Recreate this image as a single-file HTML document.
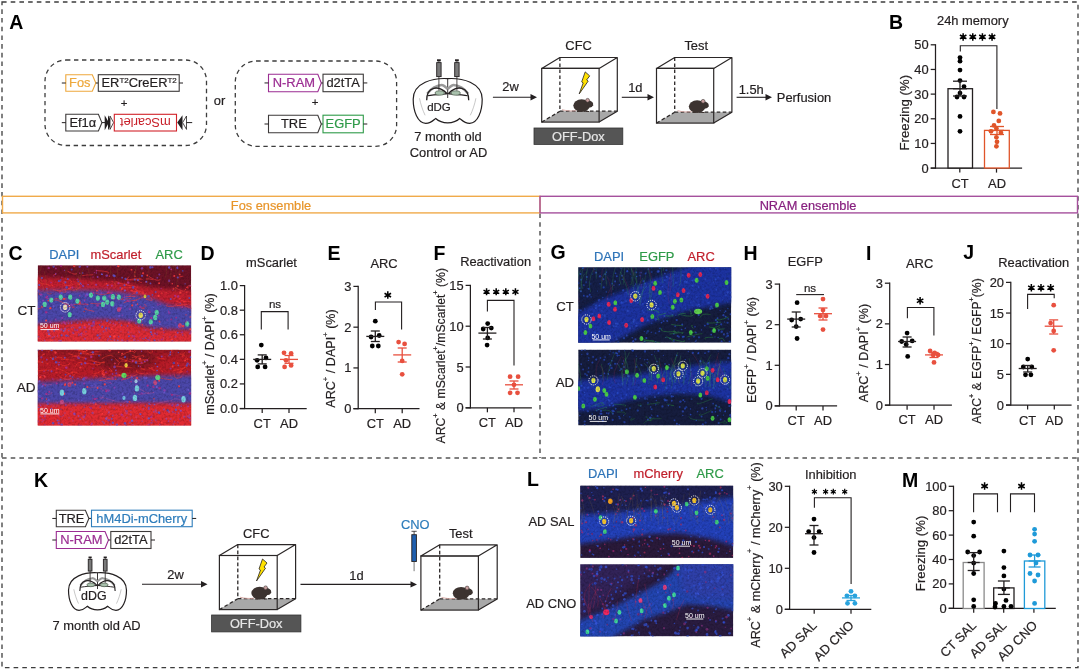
<!DOCTYPE html>
<html><head><meta charset="utf-8"><style>
html,body{margin:0;padding:0;background:#fff;width:1080px;height:670px;overflow:hidden}
svg{display:block;font-family:"Liberation Sans", sans-serif;will-change:transform}
</style></head><body>
<svg width="1080" height="670" viewBox="0 0 1080 670">
<defs><filter id="blur1" x="-10%" y="-30%" width="120%" height="160%"><feGaussianBlur stdDeviation="2"/></filter><filter id="grain" x="0" y="0" width="100%" height="100%"><feTurbulence type="fractalNoise" baseFrequency="0.45" numOctaves="2" seed="5"/><feColorMatrix type="matrix" values="0 0 0 0 0  0 0 0 0 0  0 0 0 0 0  0 0 0 -2.2 1.3"/></filter><filter id="blur2" x="-10%" y="-30%" width="120%" height="160%"><feGaussianBlur stdDeviation="4"/></filter></defs>
<rect width="1080" height="670" fill="#fff"/>
<clipPath id="cc1"><rect x="37.7" y="265.2" width="153.5" height="76.19999999999999"/></clipPath><g clip-path="url(#cc1)"><rect x="37.7" y="265.2" width="153.5" height="76.19999999999999" fill="#6c1226"/><path d="M20.0,276.0 C30.0,276.5 63.3,278.0 80.0,279.0 C96.7,280.0 108.3,280.7 120.0,282.0 C131.7,283.3 136.7,285.3 150.0,287.0 C163.3,288.7 191.7,291.2 200.0,292.0 L200.0,315.0  C193.3,313.7 173.3,309.5 160.0,307.0 C146.7,304.5 133.3,301.5 120.0,300.0 C106.7,298.5 96.7,298.0 80.0,298.0 C63.3,298.0 30.0,299.7 20.0,300.0 Z" fill="#d82430" filter="url(#blur1)" opacity="0.8"/><path d="M20.0,291.0 C30.0,290.8 63.3,289.8 80.0,290.0 C96.7,290.2 108.3,290.7 120.0,292.0 C131.7,293.3 141.7,295.8 150.0,298.0 C158.3,300.2 161.7,303.3 170.0,305.0 C178.3,306.7 195.0,307.5 200.0,308.0 L200.0,332.0  C191.7,331.5 161.7,330.5 150.0,329.0 C138.3,327.5 138.3,324.3 130.0,323.0 C121.7,321.7 111.7,320.8 100.0,321.0 C88.3,321.2 73.3,323.0 60.0,324.0 C46.7,325.0 26.7,326.5 20.0,327.0 Z" fill="#4c46aa" filter="url(#blur1)" opacity="1"/><path d="M20.0,326.0 C26.7,325.5 46.7,324.0 60.0,323.0 C73.3,322.0 88.3,320.2 100.0,320.0 C111.7,319.8 121.7,320.7 130.0,322.0 C138.3,323.3 138.3,326.5 150.0,328.0 C161.7,329.5 191.7,330.5 200.0,331.0 L200.0,350.0  C170.0,350.0 50.0,350.0 20.0,350.0 Z" fill="#dc2c34" filter="url(#blur1)" opacity="1"/><path d="M107.1,292.8 q6.8,-0.3 0.3,0.7" stroke="#ff3a3a" stroke-width="0.7" fill="none" opacity="0.75"/><path d="M66.0,291.1 q2.1,2.9 -13.0,-1.6" stroke="#ff3a3a" stroke-width="0.7" fill="none" opacity="0.75"/><path d="M51.6,301.5 q3.1,-4.6 15.4,3.7" stroke="#ff3a3a" stroke-width="0.7" fill="none" opacity="0.75"/><path d="M138.1,294.7 q-5.5,-4.8 0.9,-3.5" stroke="#ff3a3a" stroke-width="0.7" fill="none" opacity="0.75"/><path d="M66.9,281.7 q-7.5,-0.4 -1.9,2.7" stroke="#ff3a3a" stroke-width="0.7" fill="none" opacity="0.75"/><path d="M117.4,295.6 q-0.0,1.6 -1.4,-1.8" stroke="#ff3a3a" stroke-width="0.7" fill="none" opacity="0.75"/><path d="M190.8,308.0 q5.4,2.1 -5.9,-2.2" stroke="#ff3a3a" stroke-width="0.7" fill="none" opacity="0.75"/><path d="M82.1,275.7 q4.3,-1.0 11.1,-0.9" stroke="#ff3a3a" stroke-width="0.7" fill="none" opacity="0.75"/><path d="M184.8,302.9 q-8.0,-2.9 13.1,-0.2" stroke="#ff3a3a" stroke-width="0.7" fill="none" opacity="0.75"/><path d="M188.2,287.1 q-6.8,1.3 8.9,-1.8" stroke="#ff3a3a" stroke-width="0.7" fill="none" opacity="0.75"/><path d="M51.1,284.8 q7.4,2.6 -12.2,-2.0" stroke="#ff3a3a" stroke-width="0.7" fill="none" opacity="0.75"/><path d="M53.2,275.3 q4.8,-3.2 1.9,-0.4" stroke="#ff3a3a" stroke-width="0.7" fill="none" opacity="0.75"/><path d="M67.0,298.8 q-5.9,1.4 -12.3,-0.6" stroke="#ff3a3a" stroke-width="0.7" fill="none" opacity="0.75"/><path d="M70.4,282.6 q7.5,3.0 -6.3,3.1" stroke="#ff3a3a" stroke-width="0.7" fill="none" opacity="0.75"/><path d="M70.0,287.0 q5.7,1.4 -12.8,3.9" stroke="#ff3a3a" stroke-width="0.7" fill="none" opacity="0.75"/><path d="M70.4,282.2 q4.4,-1.7 -6.5,-3.4" stroke="#ff3a3a" stroke-width="0.7" fill="none" opacity="0.75"/><path d="M51.5,293.6 q-4.1,1.0 -4.1,-0.4" stroke="#ff3a3a" stroke-width="0.7" fill="none" opacity="0.75"/><path d="M184.9,290.1 q1.2,3.7 -10.1,-2.8" stroke="#ff3a3a" stroke-width="0.7" fill="none" opacity="0.75"/><path d="M177.1,301.8 q-4.0,-3.1 7.7,3.5" stroke="#ff3a3a" stroke-width="0.7" fill="none" opacity="0.75"/><path d="M67.9,306.5 q6.1,1.0 -2.5,-3.2" stroke="#ff3a3a" stroke-width="0.7" fill="none" opacity="0.75"/><path d="M43.6,306.9 q-4.2,2.0 -7.8,2.6" stroke="#ff3a3a" stroke-width="0.7" fill="none" opacity="0.75"/><path d="M129.3,283.5 q-5.2,2.2 -13.8,-2.2" stroke="#ff3a3a" stroke-width="0.7" fill="none" opacity="0.75"/><path d="M123.6,303.0 q1.8,-2.2 13.4,-2.4" stroke="#ff3a3a" stroke-width="0.7" fill="none" opacity="0.75"/><path d="M40.2,282.6 q-0.9,-4.4 -10.4,-1.0" stroke="#ff3a3a" stroke-width="0.7" fill="none" opacity="0.75"/><path d="M125.5,277.8 q-2.2,3.9 15.4,1.3" stroke="#ff3a3a" stroke-width="0.7" fill="none" opacity="0.75"/><path d="M143.8,293.7 q-5.8,-4.6 -15.4,3.3" stroke="#ff3a3a" stroke-width="0.7" fill="none" opacity="0.75"/><path d="M145.3,306.9 q-7.7,1.4 -0.6,1.8" stroke="#ff3a3a" stroke-width="0.7" fill="none" opacity="0.75"/><path d="M86.7,308.2 q-6.8,0.5 7.6,3.2" stroke="#ff3a3a" stroke-width="0.7" fill="none" opacity="0.75"/><path d="M150.8,297.8 q4.7,4.2 -4.7,1.5" stroke="#ff3a3a" stroke-width="0.7" fill="none" opacity="0.75"/><path d="M176.0,303.7 q-1.3,2.9 11.6,0.6" stroke="#ff3a3a" stroke-width="0.7" fill="none" opacity="0.75"/><path d="M133.6,286.6 q1.3,1.1 -13.4,1.1" stroke="#ff3a3a" stroke-width="0.7" fill="none" opacity="0.75"/><path d="M190.2,304.0 q3.7,-1.1 7.5,0.6" stroke="#ff3a3a" stroke-width="0.7" fill="none" opacity="0.75"/><path d="M105.3,302.5 q-6.7,2.5 -15.0,0.8" stroke="#ff3a3a" stroke-width="0.7" fill="none" opacity="0.75"/><path d="M111.5,281.3 q3.2,-0.0 3.7,3.4" stroke="#ff3a3a" stroke-width="0.7" fill="none" opacity="0.75"/><path d="M77.0,273.6 q-3.2,1.8 -9.5,-2.6" stroke="#ff3a3a" stroke-width="0.7" fill="none" opacity="0.75"/><path d="M176.7,296.3 q-0.9,3.9 -5.5,1.3" stroke="#ff3a3a" stroke-width="0.7" fill="none" opacity="0.75"/><path d="M68.2,288.3 q4.9,4.1 12.2,-0.9" stroke="#ff3a3a" stroke-width="0.7" fill="none" opacity="0.75"/><path d="M127.2,284.3 q-5.8,-0.0 10.8,2.8" stroke="#ff3a3a" stroke-width="0.7" fill="none" opacity="0.75"/><path d="M146.9,306.5 q-3.6,-3.3 -1.6,-1.8" stroke="#ff3a3a" stroke-width="0.7" fill="none" opacity="0.75"/><path d="M70.6,287.7 q2.0,-0.1 -5.9,2.7" stroke="#ff3a3a" stroke-width="0.7" fill="none" opacity="0.75"/><path d="M188.4,289.0 q-6.8,-4.7 11.9,-3.7" stroke="#ff3a3a" stroke-width="0.7" fill="none" opacity="0.75"/><path d="M146.5,293.2 q-3.1,2.9 -15.4,-2.9" stroke="#ff3a3a" stroke-width="0.7" fill="none" opacity="0.75"/><path d="M107.5,274.1 q5.3,-2.6 -11.5,-3.6" stroke="#ff3a3a" stroke-width="0.7" fill="none" opacity="0.75"/><path d="M134.3,288.8 q2.1,1.6 9.8,3.7" stroke="#ff3a3a" stroke-width="0.7" fill="none" opacity="0.75"/><path d="M142.8,280.2 q-0.4,-3.2 -15.7,-0.2" stroke="#ff3a3a" stroke-width="0.7" fill="none" opacity="0.75"/><path d="M147.3,279.5 q-3.6,-1.5 6.3,0.2" stroke="#ff3a3a" stroke-width="0.7" fill="none" opacity="0.75"/><path d="M132.0,299.7 q-1.7,2.9 13.0,-3.3" stroke="#ff3a3a" stroke-width="0.7" fill="none" opacity="0.75"/><path d="M180.9,298.5 q-5.9,-0.5 4.0,3.3" stroke="#ff3a3a" stroke-width="0.7" fill="none" opacity="0.75"/><path d="M95.5,293.1 q6.1,3.0 14.2,-0.3" stroke="#ff3a3a" stroke-width="0.7" fill="none" opacity="0.75"/><path d="M137.7,280.4 q3.6,3.2 4.5,1.7" stroke="#ff3a3a" stroke-width="0.7" fill="none" opacity="0.75"/><path d="M70.4,304.7 q7.7,4.8 1.2,2.3" stroke="#ff3a3a" stroke-width="0.7" fill="none" opacity="0.75"/><path d="M86.9,305.0 q5.7,-1.5 -13.4,-0.5" stroke="#ff3a3a" stroke-width="0.7" fill="none" opacity="0.75"/><path d="M122.2,300.1 q-0.2,-4.7 9.9,-3.5" stroke="#ff3a3a" stroke-width="0.7" fill="none" opacity="0.75"/><path d="M160.5,279.3 q-2.6,2.9 -11.5,-2.8" stroke="#ff3a3a" stroke-width="0.7" fill="none" opacity="0.75"/><path d="M117.0,298.5 q5.4,1.9 14.3,-0.1" stroke="#ff3a3a" stroke-width="0.7" fill="none" opacity="0.75"/><path d="M183.4,276.2 q-4.5,0.3 -6.7,1.8" stroke="#ff3a3a" stroke-width="0.7" fill="none" opacity="0.75"/><path d="M135.8,291.5 q5.5,0.6 -6.0,-1.0" stroke="#ff3a3a" stroke-width="0.7" fill="none" opacity="0.75"/><path d="M167.4,304.7 q-4.7,3.5 15.0,0.2" stroke="#ff3a3a" stroke-width="0.7" fill="none" opacity="0.75"/><path d="M125.7,280.2 q0.6,0.0 3.4,-3.8" stroke="#ff3a3a" stroke-width="0.7" fill="none" opacity="0.75"/><path d="M186.5,291.3 q-1.6,3.0 2.0,-0.1" stroke="#ff3a3a" stroke-width="0.7" fill="none" opacity="0.75"/><path d="M143.8,267.2 q0.4,-10.5 7.3,-28.9" stroke="#a0b030" stroke-width="0.32" fill="none" opacity="0.35"/><path d="M79.0,279.4 q-3.7,-10.6 5.1,-28.6" stroke="#a0b030" stroke-width="0.32" fill="none" opacity="0.35"/><path d="M110.8,274.7 q-3.1,-11.7 6.8,-17.8" stroke="#a0b030" stroke-width="0.32" fill="none" opacity="0.35"/><path d="M157.3,265.9 q-3.1,-9.4 3.0,-20.5" stroke="#a0b030" stroke-width="0.32" fill="none" opacity="0.35"/><path d="M92.2,283.8 q-4.0,-12.4 -6.0,-23.1" stroke="#a0b030" stroke-width="0.32" fill="none" opacity="0.35"/><path d="M76.2,271.1 q0.3,-10.6 -2.0,-21.8" stroke="#a0b030" stroke-width="0.32" fill="none" opacity="0.35"/><path d="M119.0,270.0 q-3.0,-11.8 2.2,-23.4" stroke="#a0b030" stroke-width="0.32" fill="none" opacity="0.35"/><path d="M168.4,283.6 q3.6,-9.4 3.9,-27.3" stroke="#a0b030" stroke-width="0.32" fill="none" opacity="0.35"/><path d="M176.3,274.7 q-1.9,-13.5 -4.5,-30.0" stroke="#a0b030" stroke-width="0.32" fill="none" opacity="0.35"/><path d="M173.9,269.2 q-2.6,-12.4 -3.8,-17.4" stroke="#a0b030" stroke-width="0.32" fill="none" opacity="0.35"/><path d="M165.4,277.8 q2.9,-8.8 -1.6,-25.6" stroke="#a0b030" stroke-width="0.32" fill="none" opacity="0.35"/><path d="M40.4,271.2 q1.8,-13.5 7.5,-17.6" stroke="#a0b030" stroke-width="0.32" fill="none" opacity="0.35"/><path d="M115.3,287.9 q0.0,-12.1 -5.0,-17.0" stroke="#a0b030" stroke-width="0.32" fill="none" opacity="0.35"/><path d="M54.0,266.3 q0.5,-11.1 1.1,-18.1" stroke="#a0b030" stroke-width="0.32" fill="none" opacity="0.35"/><path d="M66.0,271.3 q3.4,-13.9 6.8,-17.3" stroke="#a0b030" stroke-width="0.32" fill="none" opacity="0.35"/><path d="M47.2,293.7 q-0.4,-12.6 -2.8,-22.5" stroke="#a0b030" stroke-width="0.32" fill="none" opacity="0.35"/><path d="M116.8,278.1 q1.0,-8.1 3.2,-27.8" stroke="#a0b030" stroke-width="0.32" fill="none" opacity="0.35"/><path d="M65.5,278.8 q2.4,-10.4 -4.9,-18.3" stroke="#a0b030" stroke-width="0.32" fill="none" opacity="0.35"/><path d="M116.4,265.7 q3.9,-12.8 3.3,-28.1" stroke="#a0b030" stroke-width="0.32" fill="none" opacity="0.35"/><path d="M134.3,277.3 q1.0,-11.0 7.7,-27.3" stroke="#a0b030" stroke-width="0.32" fill="none" opacity="0.35"/><path d="M77.3,292.5 q2.4,-12.7 5.0,-21.7" stroke="#a0b030" stroke-width="0.32" fill="none" opacity="0.35"/><path d="M175.3,291.6 q1.9,-12.6 4.2,-21.7" stroke="#a0b030" stroke-width="0.32" fill="none" opacity="0.35"/><path d="M148.6,267.3 q-1.6,-10.8 -7.8,-21.0" stroke="#a0b030" stroke-width="0.32" fill="none" opacity="0.35"/><path d="M135.7,283.9 q-2.7,-13.7 2.7,-20.7" stroke="#a0b030" stroke-width="0.32" fill="none" opacity="0.35"/><path d="M139.0,282.3 q0.3,-10.3 8.0,-25.0" stroke="#a0b030" stroke-width="0.32" fill="none" opacity="0.35"/><path d="M145.3,288.1 q4.8,-8.1 1.8,-26.3" stroke="#a0b030" stroke-width="0.32" fill="none" opacity="0.35"/><path d="M77.1,277.2 q-4.5,-9.2 -2.0,-17.4" stroke="#a0b030" stroke-width="0.32" fill="none" opacity="0.35"/><path d="M76.2,292.4 q0.5,-11.0 7.5,-24.0" stroke="#a0b030" stroke-width="0.32" fill="none" opacity="0.35"/><path d="M190.4,284.3 q3.1,-8.5 1.6,-26.6" stroke="#a0b030" stroke-width="0.32" fill="none" opacity="0.35"/><path d="M44.6,293.1 q-3.4,-10.8 -5.3,-22.9" stroke="#a0b030" stroke-width="0.32" fill="none" opacity="0.35"/><circle cx="131.5" cy="269.7" r="0.89" fill="#ff4040" opacity="0.85"/><circle cx="118.6" cy="310.8" r="0.97" fill="#b03090" opacity="0.85"/><circle cx="111.9" cy="285.8" r="1.06" fill="#b03090" opacity="0.85"/><circle cx="152.5" cy="267.2" r="1.01" fill="#5a50c8" opacity="0.85"/><circle cx="134.9" cy="296.4" r="0.64" fill="#ff4040" opacity="0.85"/><circle cx="86.1" cy="295.5" r="1.29" fill="#8a40b0" opacity="0.85"/><circle cx="182.7" cy="270.8" r="0.90" fill="#5a50c8" opacity="0.85"/><circle cx="111.0" cy="339.4" r="0.63" fill="#5a50c8" opacity="0.85"/><circle cx="52.8" cy="326.9" r="0.70" fill="#ff4040" opacity="0.85"/><circle cx="185.1" cy="283.9" r="0.64" fill="#6a58d0" opacity="0.85"/><circle cx="101.7" cy="274.2" r="0.85" fill="#6a58d0" opacity="0.85"/><circle cx="61.5" cy="292.9" r="1.07" fill="#5a50c8" opacity="0.85"/><circle cx="107.6" cy="285.2" r="1.08" fill="#8a40b0" opacity="0.85"/><circle cx="93.6" cy="321.9" r="1.27" fill="#5a50c8" opacity="0.85"/><circle cx="150.4" cy="283.4" r="0.95" fill="#6a58d0" opacity="0.85"/><circle cx="85.1" cy="303.9" r="0.79" fill="#b03090" opacity="0.85"/><circle cx="131.3" cy="320.5" r="0.73" fill="#8a40b0" opacity="0.85"/><circle cx="80.5" cy="283.4" r="0.95" fill="#5a50c8" opacity="0.85"/><circle cx="137.9" cy="280.1" r="1.04" fill="#6a58d0" opacity="0.85"/><circle cx="39.2" cy="285.0" r="1.04" fill="#6a58d0" opacity="0.85"/><circle cx="53.4" cy="306.5" r="1.13" fill="#6a58d0" opacity="0.85"/><circle cx="177.8" cy="277.5" r="1.04" fill="#5a50c8" opacity="0.85"/><circle cx="95.0" cy="301.7" r="0.84" fill="#5a50c8" opacity="0.85"/><circle cx="113.6" cy="275.4" r="1.16" fill="#6a58d0" opacity="0.85"/><circle cx="106.4" cy="327.8" r="0.91" fill="#5a50c8" opacity="0.85"/><circle cx="152.4" cy="294.9" r="0.86" fill="#5a50c8" opacity="0.85"/><circle cx="138.0" cy="340.6" r="0.80" fill="#b03090" opacity="0.85"/><circle cx="154.2" cy="328.2" r="0.90" fill="#5a50c8" opacity="0.85"/><circle cx="94.4" cy="272.6" r="0.65" fill="#b03090" opacity="0.85"/><circle cx="50.4" cy="308.2" r="1.17" fill="#ff4040" opacity="0.85"/><circle cx="108.8" cy="328.0" r="0.65" fill="#6a58d0" opacity="0.85"/><circle cx="70.4" cy="315.7" r="1.09" fill="#6a58d0" opacity="0.85"/><circle cx="113.6" cy="323.4" r="0.80" fill="#b03090" opacity="0.85"/><circle cx="59.6" cy="292.5" r="0.86" fill="#b03090" opacity="0.85"/><circle cx="55.7" cy="319.2" r="1.02" fill="#8a40b0" opacity="0.85"/><circle cx="176.2" cy="317.6" r="0.91" fill="#b03090" opacity="0.85"/><circle cx="161.0" cy="288.4" r="0.75" fill="#b03090" opacity="0.85"/><circle cx="186.3" cy="320.8" r="0.77" fill="#8a40b0" opacity="0.85"/><circle cx="93.2" cy="293.1" r="1.07" fill="#b03090" opacity="0.85"/><circle cx="127.5" cy="325.9" r="0.86" fill="#8a40b0" opacity="0.85"/><circle cx="97.6" cy="277.0" r="0.99" fill="#8a40b0" opacity="0.85"/><circle cx="64.8" cy="323.0" r="1.17" fill="#b03090" opacity="0.85"/><circle cx="71.7" cy="269.6" r="1.00" fill="#5a50c8" opacity="0.85"/><circle cx="186.0" cy="314.8" r="0.64" fill="#ff4040" opacity="0.85"/><circle cx="121.6" cy="325.3" r="0.83" fill="#6a58d0" opacity="0.85"/><circle cx="79.7" cy="273.2" r="0.66" fill="#b03090" opacity="0.85"/><circle cx="135.0" cy="276.2" r="0.77" fill="#ff4040" opacity="0.85"/><circle cx="71.5" cy="323.5" r="0.84" fill="#8a40b0" opacity="0.85"/><circle cx="108.2" cy="291.9" r="1.07" fill="#b03090" opacity="0.85"/><circle cx="113.5" cy="306.1" r="1.10" fill="#6a58d0" opacity="0.85"/><circle cx="178.1" cy="296.5" r="1.20" fill="#b03090" opacity="0.85"/><circle cx="161.4" cy="328.7" r="1.27" fill="#ff4040" opacity="0.85"/><circle cx="136.0" cy="305.1" r="1.16" fill="#6a58d0" opacity="0.85"/><circle cx="102.4" cy="297.2" r="0.77" fill="#5a50c8" opacity="0.85"/><circle cx="62.6" cy="313.6" r="0.82" fill="#5a50c8" opacity="0.85"/><circle cx="97.5" cy="305.5" r="1.28" fill="#b03090" opacity="0.85"/><circle cx="46.8" cy="288.7" r="0.81" fill="#6a58d0" opacity="0.85"/><circle cx="61.6" cy="335.3" r="1.13" fill="#6a58d0" opacity="0.85"/><circle cx="40.3" cy="301.9" r="0.82" fill="#6a58d0" opacity="0.85"/><circle cx="68.0" cy="292.6" r="0.76" fill="#8a40b0" opacity="0.85"/><circle cx="147.8" cy="310.5" r="0.91" fill="#5a50c8" opacity="0.85"/><circle cx="175.0" cy="295.9" r="1.04" fill="#b03090" opacity="0.85"/><circle cx="182.3" cy="307.1" r="0.94" fill="#b03090" opacity="0.85"/><circle cx="99.5" cy="338.0" r="1.14" fill="#8a40b0" opacity="0.85"/><circle cx="51.9" cy="330.9" r="0.63" fill="#ff4040" opacity="0.85"/><circle cx="183.1" cy="326.3" r="1.28" fill="#ff4040" opacity="0.85"/><circle cx="159.7" cy="324.2" r="1.06" fill="#6a58d0" opacity="0.85"/><circle cx="74.2" cy="266.0" r="1.23" fill="#ff4040" opacity="0.85"/><circle cx="106.8" cy="284.0" r="1.02" fill="#ff4040" opacity="0.85"/><circle cx="61.8" cy="277.2" r="0.70" fill="#b03090" opacity="0.85"/><circle cx="177.1" cy="326.9" r="1.05" fill="#5a50c8" opacity="0.85"/><circle cx="190.1" cy="285.5" r="0.64" fill="#8a40b0" opacity="0.85"/><circle cx="125.5" cy="278.8" r="1.17" fill="#5a50c8" opacity="0.85"/><circle cx="167.6" cy="327.8" r="0.85" fill="#6a58d0" opacity="0.85"/><circle cx="132.1" cy="305.4" r="1.09" fill="#ff4040" opacity="0.85"/><circle cx="50.4" cy="322.2" r="1.20" fill="#8a40b0" opacity="0.85"/><circle cx="84.3" cy="325.3" r="0.74" fill="#ff4040" opacity="0.85"/><circle cx="142.4" cy="324.7" r="0.75" fill="#ff4040" opacity="0.85"/><circle cx="121.1" cy="305.3" r="1.26" fill="#5a50c8" opacity="0.85"/><circle cx="185.7" cy="289.3" r="0.65" fill="#ff4040" opacity="0.85"/><circle cx="84.6" cy="300.8" r="0.85" fill="#6a58d0" opacity="0.85"/><circle cx="143.2" cy="273.3" r="1.07" fill="#ff4040" opacity="0.85"/><circle cx="152.3" cy="325.0" r="1.06" fill="#6a58d0" opacity="0.85"/><circle cx="39.6" cy="293.9" r="0.77" fill="#ff4040" opacity="0.85"/><circle cx="124.3" cy="300.1" r="1.20" fill="#6a58d0" opacity="0.85"/><circle cx="167.3" cy="320.0" r="0.71" fill="#8a40b0" opacity="0.85"/><circle cx="134.1" cy="336.6" r="1.27" fill="#b03090" opacity="0.85"/><circle cx="153.6" cy="307.5" r="0.78" fill="#6a58d0" opacity="0.85"/><circle cx="68.4" cy="320.9" r="0.82" fill="#b03090" opacity="0.85"/><circle cx="79.7" cy="301.0" r="0.91" fill="#b03090" opacity="0.85"/><circle cx="96.4" cy="273.0" r="0.67" fill="#8a40b0" opacity="0.85"/><circle cx="141.7" cy="319.2" r="0.74" fill="#5a50c8" opacity="0.85"/><circle cx="43.3" cy="300.5" r="0.67" fill="#6a58d0" opacity="0.85"/><circle cx="42.7" cy="340.4" r="0.88" fill="#ff4040" opacity="0.85"/><circle cx="48.9" cy="335.4" r="1.25" fill="#ff4040" opacity="0.85"/><circle cx="59.0" cy="280.9" r="1.17" fill="#5a50c8" opacity="0.85"/><circle cx="96.9" cy="290.5" r="1.04" fill="#ff4040" opacity="0.85"/><circle cx="149.3" cy="311.9" r="1.29" fill="#b03090" opacity="0.85"/><circle cx="158.9" cy="315.5" r="0.97" fill="#8a40b0" opacity="0.85"/><circle cx="77.7" cy="279.6" r="1.06" fill="#b03090" opacity="0.85"/><circle cx="54.0" cy="294.0" r="0.83" fill="#8a40b0" opacity="0.85"/><circle cx="82.7" cy="273.0" r="0.78" fill="#5a50c8" opacity="0.85"/><circle cx="120.4" cy="287.9" r="0.85" fill="#5a50c8" opacity="0.85"/><circle cx="114.5" cy="276.0" r="1.29" fill="#5a50c8" opacity="0.85"/><circle cx="116.9" cy="319.7" r="1.00" fill="#5a50c8" opacity="0.85"/><circle cx="41.8" cy="315.4" r="0.70" fill="#6a58d0" opacity="0.85"/><circle cx="111.1" cy="297.0" r="0.83" fill="#b03090" opacity="0.85"/><circle cx="180.3" cy="292.7" r="1.22" fill="#ff4040" opacity="0.85"/><circle cx="107.1" cy="320.8" r="1.23" fill="#5a50c8" opacity="0.85"/><circle cx="121.1" cy="307.9" r="1.24" fill="#8a40b0" opacity="0.85"/><circle cx="63.6" cy="322.0" r="1.02" fill="#b03090" opacity="0.85"/><circle cx="56.5" cy="328.0" r="1.08" fill="#b03090" opacity="0.85"/><circle cx="93.5" cy="323.0" r="1.18" fill="#b03090" opacity="0.85"/><circle cx="66.2" cy="306.9" r="0.92" fill="#6a58d0" opacity="0.85"/><circle cx="99.6" cy="324.8" r="0.82" fill="#5a50c8" opacity="0.85"/><circle cx="140.7" cy="321.4" r="1.03" fill="#ff4040" opacity="0.85"/><circle cx="136.0" cy="323.4" r="0.74" fill="#5a50c8" opacity="0.85"/><circle cx="109.5" cy="276.1" r="0.68" fill="#ff4040" opacity="0.85"/><circle cx="100.0" cy="290.8" r="0.78" fill="#5a50c8" opacity="0.85"/><circle cx="124.9" cy="290.5" r="1.11" fill="#6a58d0" opacity="0.85"/><circle cx="158.6" cy="295.9" r="1.02" fill="#ff4040" opacity="0.85"/><circle cx="109.8" cy="296.6" r="1.24" fill="#8a40b0" opacity="0.85"/><circle cx="124.4" cy="296.2" r="0.94" fill="#b03090" opacity="0.85"/><circle cx="190.4" cy="329.1" r="1.18" fill="#ff4040" opacity="0.85"/><circle cx="55.7" cy="273.9" r="0.83" fill="#8a40b0" opacity="0.85"/><circle cx="117.6" cy="297.2" r="0.82" fill="#6a58d0" opacity="0.85"/><circle cx="46.1" cy="320.5" r="1.11" fill="#ff4040" opacity="0.85"/><circle cx="129.4" cy="322.5" r="1.22" fill="#b03090" opacity="0.85"/><circle cx="172.3" cy="283.8" r="0.77" fill="#ff4040" opacity="0.85"/><circle cx="171.7" cy="339.3" r="1.09" fill="#ff4040" opacity="0.85"/><circle cx="118.5" cy="283.4" r="1.06" fill="#b03090" opacity="0.85"/><circle cx="182.0" cy="332.2" r="1.21" fill="#b03090" opacity="0.85"/><circle cx="102.4" cy="326.6" r="1.05" fill="#5a50c8" opacity="0.85"/><circle cx="102.4" cy="274.5" r="0.67" fill="#6a58d0" opacity="0.85"/><circle cx="159.3" cy="274.6" r="1.00" fill="#8a40b0" opacity="0.85"/><circle cx="107.3" cy="287.8" r="0.62" fill="#b03090" opacity="0.85"/><circle cx="64.1" cy="298.8" r="1.17" fill="#ff4040" opacity="0.85"/><circle cx="98.7" cy="292.4" r="0.76" fill="#8a40b0" opacity="0.85"/><circle cx="84.7" cy="299.9" r="0.82" fill="#b03090" opacity="0.85"/><circle cx="114.2" cy="336.4" r="1.22" fill="#ff4040" opacity="0.85"/><circle cx="68.8" cy="330.7" r="0.74" fill="#6a58d0" opacity="0.85"/><circle cx="166.3" cy="292.2" r="0.61" fill="#ff4040" opacity="0.85"/><circle cx="135.2" cy="318.4" r="0.74" fill="#8a40b0" opacity="0.85"/><circle cx="134.8" cy="279.8" r="1.06" fill="#6a58d0" opacity="0.85"/><circle cx="84.7" cy="327.5" r="1.21" fill="#b03090" opacity="0.85"/><circle cx="147.2" cy="275.5" r="0.89" fill="#ff4040" opacity="0.85"/><circle cx="63.7" cy="330.8" r="1.10" fill="#6a58d0" opacity="0.85"/><circle cx="67.9" cy="279.0" r="0.95" fill="#5a50c8" opacity="0.85"/><circle cx="83.1" cy="286.0" r="1.22" fill="#8a40b0" opacity="0.85"/><circle cx="128.2" cy="282.6" r="1.23" fill="#b03090" opacity="0.85"/><circle cx="65.4" cy="282.4" r="1.05" fill="#5a50c8" opacity="0.85"/><circle cx="51.5" cy="340.1" r="1.24" fill="#ff4040" opacity="0.85"/><circle cx="49.0" cy="334.3" r="1.02" fill="#6a58d0" opacity="0.85"/><circle cx="81.4" cy="284.3" r="0.66" fill="#8a40b0" opacity="0.85"/><circle cx="81.5" cy="322.8" r="0.73" fill="#5a50c8" opacity="0.85"/><circle cx="150.4" cy="267.4" r="1.29" fill="#5a50c8" opacity="0.85"/><circle cx="42.9" cy="300.4" r="0.87" fill="#8a40b0" opacity="0.85"/><circle cx="180.3" cy="303.3" r="0.64" fill="#5a50c8" opacity="0.85"/><circle cx="156.9" cy="334.5" r="1.06" fill="#b03090" opacity="0.85"/><circle cx="157.9" cy="304.6" r="1.18" fill="#8a40b0" opacity="0.85"/><circle cx="135.1" cy="340.1" r="0.72" fill="#8a40b0" opacity="0.85"/><circle cx="157.4" cy="277.8" r="0.90" fill="#8a40b0" opacity="0.85"/><circle cx="140.3" cy="306.9" r="1.15" fill="#b03090" opacity="0.85"/><circle cx="159.1" cy="283.2" r="0.98" fill="#ff4040" opacity="0.85"/><circle cx="168.6" cy="311.2" r="0.62" fill="#b03090" opacity="0.85"/><circle cx="129.3" cy="319.7" r="0.91" fill="#8a40b0" opacity="0.85"/><circle cx="172.9" cy="290.0" r="0.61" fill="#8a40b0" opacity="0.85"/><circle cx="113.9" cy="298.3" r="1.11" fill="#ff4040" opacity="0.85"/><circle cx="169.2" cy="267.6" r="1.24" fill="#6a58d0" opacity="0.85"/><circle cx="125.0" cy="306.6" r="1.04" fill="#5a50c8" opacity="0.85"/><circle cx="46.0" cy="297.6" r="1.17" fill="#b03090" opacity="0.85"/><circle cx="151.1" cy="324.7" r="0.95" fill="#8a40b0" opacity="0.85"/><circle cx="137.5" cy="304.1" r="0.78" fill="#ff4040" opacity="0.85"/><circle cx="62.2" cy="317.8" r="1.15" fill="#8a40b0" opacity="0.85"/><circle cx="47.1" cy="296.5" r="1.09" fill="#b03090" opacity="0.85"/><circle cx="145.7" cy="338.1" r="0.94" fill="#5a50c8" opacity="0.85"/><circle cx="154.6" cy="340.3" r="1.12" fill="#5a50c8" opacity="0.85"/><circle cx="117.8" cy="340.3" r="0.77" fill="#6a58d0" opacity="0.85"/><circle cx="174.3" cy="276.0" r="0.99" fill="#ff4040" opacity="0.85"/><circle cx="110.1" cy="336.5" r="1.08" fill="#6a58d0" opacity="0.85"/><circle cx="147.8" cy="339.6" r="0.76" fill="#8a40b0" opacity="0.85"/><circle cx="76.6" cy="307.3" r="0.89" fill="#5a50c8" opacity="0.85"/><circle cx="50.9" cy="282.5" r="0.84" fill="#b03090" opacity="0.85"/><circle cx="188.3" cy="311.8" r="0.71" fill="#6a58d0" opacity="0.85"/><circle cx="127.5" cy="341.0" r="1.00" fill="#b03090" opacity="0.85"/><circle cx="177.7" cy="332.6" r="0.92" fill="#5a50c8" opacity="0.85"/><circle cx="98.0" cy="329.4" r="0.87" fill="#ff4040" opacity="0.85"/><circle cx="45.3" cy="297.1" r="0.73" fill="#5a50c8" opacity="0.85"/><circle cx="122.1" cy="277.7" r="0.88" fill="#5a50c8" opacity="0.85"/><circle cx="128.9" cy="323.1" r="0.91" fill="#ff4040" opacity="0.85"/><circle cx="190.2" cy="317.0" r="0.74" fill="#ff4040" opacity="0.85"/><circle cx="96.5" cy="270.7" r="0.85" fill="#b03090" opacity="0.85"/><circle cx="79.8" cy="266.6" r="1.12" fill="#5a50c8" opacity="0.85"/><circle cx="116.3" cy="308.4" r="0.79" fill="#5a50c8" opacity="0.85"/><circle cx="93.1" cy="276.9" r="0.70" fill="#b03090" opacity="0.85"/><circle cx="74.7" cy="329.2" r="0.61" fill="#6a58d0" opacity="0.85"/><circle cx="87.1" cy="294.5" r="1.20" fill="#6a58d0" opacity="0.85"/><circle cx="96.2" cy="284.7" r="1.07" fill="#8a40b0" opacity="0.85"/><circle cx="84.1" cy="311.5" r="0.63" fill="#ff4040" opacity="0.85"/><circle cx="60.9" cy="310.6" r="0.75" fill="#6a58d0" opacity="0.85"/><circle cx="100.7" cy="301.7" r="0.96" fill="#5a50c8" opacity="0.85"/><circle cx="121.8" cy="289.1" r="1.07" fill="#ff4040" opacity="0.85"/><circle cx="60.3" cy="280.8" r="0.97" fill="#b03090" opacity="0.85"/><circle cx="106.7" cy="275.6" r="1.21" fill="#8a40b0" opacity="0.85"/><circle cx="72.4" cy="287.5" r="1.03" fill="#b03090" opacity="0.85"/><circle cx="59.2" cy="329.8" r="1.00" fill="#ff4040" opacity="0.85"/><circle cx="161.8" cy="339.5" r="1.06" fill="#b03090" opacity="0.85"/><circle cx="48.0" cy="330.2" r="1.08" fill="#8a40b0" opacity="0.85"/><circle cx="140.0" cy="338.0" r="0.76" fill="#b03090" opacity="0.85"/><circle cx="134.8" cy="272.0" r="0.68" fill="#ff4040" opacity="0.85"/><circle cx="113.4" cy="302.5" r="0.80" fill="#b03090" opacity="0.85"/><circle cx="145.7" cy="282.1" r="0.74" fill="#ff4040" opacity="0.85"/><circle cx="155.6" cy="291.9" r="0.96" fill="#5a50c8" opacity="0.85"/><circle cx="151.7" cy="334.4" r="0.93" fill="#5a50c8" opacity="0.85"/><circle cx="77.2" cy="330.2" r="1.09" fill="#b03090" opacity="0.85"/><circle cx="41.2" cy="295.0" r="1.24" fill="#b03090" opacity="0.85"/><circle cx="177.8" cy="285.9" r="0.95" fill="#ff4040" opacity="0.85"/><circle cx="127.6" cy="300.9" r="1.22" fill="#b03090" opacity="0.85"/><circle cx="48.8" cy="267.9" r="1.22" fill="#b03090" opacity="0.85"/><circle cx="124.5" cy="285.2" r="1.05" fill="#5a50c8" opacity="0.85"/><circle cx="96.7" cy="291.2" r="0.62" fill="#b03090" opacity="0.85"/><circle cx="146.3" cy="281.7" r="1.04" fill="#6a58d0" opacity="0.85"/><circle cx="133.0" cy="296.5" r="0.64" fill="#ff4040" opacity="0.85"/><circle cx="48.2" cy="300.6" r="0.87" fill="#ff4040" opacity="0.85"/><circle cx="177.3" cy="268.1" r="1.08" fill="#5a50c8" opacity="0.85"/><circle cx="79.6" cy="302.9" r="1.28" fill="#ff4040" opacity="0.85"/><circle cx="60.7" cy="279.9" r="0.78" fill="#5a50c8" opacity="0.85"/><circle cx="71.5" cy="304.9" r="1.29" fill="#8a40b0" opacity="0.85"/><circle cx="38.2" cy="306.9" r="0.66" fill="#8a40b0" opacity="0.85"/><circle cx="164.1" cy="332.6" r="0.78" fill="#b03090" opacity="0.85"/><circle cx="53.6" cy="266.7" r="1.09" fill="#5a50c8" opacity="0.85"/><circle cx="143.1" cy="338.7" r="0.71" fill="#5a50c8" opacity="0.85"/><circle cx="133.1" cy="302.6" r="0.81" fill="#8a40b0" opacity="0.85"/><circle cx="101.4" cy="293.2" r="0.95" fill="#8a40b0" opacity="0.85"/><circle cx="136.9" cy="292.8" r="1.24" fill="#5a50c8" opacity="0.85"/><circle cx="150.9" cy="332.1" r="1.17" fill="#6a58d0" opacity="0.85"/><circle cx="173.6" cy="288.8" r="0.96" fill="#ff4040" opacity="0.85"/><circle cx="142.0" cy="268.3" r="1.21" fill="#8a40b0" opacity="0.85"/><circle cx="171.2" cy="269.3" r="0.88" fill="#b03090" opacity="0.85"/><circle cx="151.2" cy="318.1" r="1.10" fill="#b03090" opacity="0.85"/><circle cx="76.4" cy="319.7" r="0.73" fill="#b03090" opacity="0.85"/><circle cx="169.1" cy="280.8" r="1.18" fill="#8a40b0" opacity="0.85"/><circle cx="124.8" cy="297.2" r="1.04" fill="#5a50c8" opacity="0.85"/><circle cx="165.3" cy="326.3" r="0.74" fill="#5a50c8" opacity="0.85"/><circle cx="133.1" cy="287.4" r="1.28" fill="#5a50c8" opacity="0.85"/><circle cx="110.1" cy="318.1" r="0.79" fill="#5a50c8" opacity="0.85"/><circle cx="79.3" cy="284.4" r="0.87" fill="#ff4040" opacity="0.85"/><circle cx="142.0" cy="275.8" r="1.10" fill="#5a50c8" opacity="0.85"/><circle cx="55.9" cy="268.4" r="0.85" fill="#b03090" opacity="0.85"/><circle cx="120.4" cy="326.3" r="0.83" fill="#ff4040" opacity="0.85"/><circle cx="41.8" cy="306.5" r="0.72" fill="#ff4040" opacity="0.85"/><circle cx="48.0" cy="298.6" r="0.76" fill="#b03090" opacity="0.85"/><circle cx="148.5" cy="296.3" r="1.29" fill="#5a50c8" opacity="0.85"/><circle cx="97.5" cy="318.1" r="0.80" fill="#8a40b0" opacity="0.85"/><circle cx="170.7" cy="298.9" r="0.99" fill="#6a58d0" opacity="0.85"/><circle cx="175.3" cy="332.3" r="0.68" fill="#ff4040" opacity="0.85"/><circle cx="87.4" cy="266.7" r="1.00" fill="#8a40b0" opacity="0.85"/><circle cx="79.7" cy="295.7" r="0.76" fill="#b03090" opacity="0.85"/><circle cx="111.7" cy="293.1" r="0.99" fill="#b03090" opacity="0.85"/><circle cx="61.0" cy="265.7" r="1.07" fill="#b03090" opacity="0.85"/><circle cx="38.3" cy="290.8" r="1.30" fill="#5a50c8" opacity="0.85"/><circle cx="68.7" cy="331.3" r="0.62" fill="#ff4040" opacity="0.85"/><circle cx="91.6" cy="307.9" r="0.64" fill="#8a40b0" opacity="0.85"/><circle cx="122.2" cy="315.3" r="0.78" fill="#8a40b0" opacity="0.85"/><circle cx="66.7" cy="287.4" r="1.30" fill="#5a50c8" opacity="0.85"/><circle cx="105.7" cy="328.7" r="0.72" fill="#6a58d0" opacity="0.85"/><circle cx="41.8" cy="278.1" r="1.07" fill="#6a58d0" opacity="0.85"/><circle cx="79.3" cy="267.0" r="0.82" fill="#8a40b0" opacity="0.85"/><circle cx="116.6" cy="266.0" r="0.64" fill="#5a50c8" opacity="0.85"/><circle cx="93.7" cy="323.6" r="1.17" fill="#b03090" opacity="0.85"/><circle cx="159.3" cy="321.2" r="0.82" fill="#ff4040" opacity="0.85"/><circle cx="119.3" cy="315.9" r="1.26" fill="#6a58d0" opacity="0.85"/><circle cx="111.7" cy="329.2" r="0.78" fill="#ff4040" opacity="0.85"/><circle cx="177.3" cy="267.0" r="0.70" fill="#8a40b0" opacity="0.85"/><circle cx="87.4" cy="320.4" r="1.06" fill="#8a40b0" opacity="0.85"/><circle cx="162.2" cy="293.0" r="0.85" fill="#ff4040" opacity="0.85"/><circle cx="80.6" cy="334.2" r="1.02" fill="#b03090" opacity="0.85"/><circle cx="78.3" cy="281.5" r="0.75" fill="#5a50c8" opacity="0.85"/><circle cx="151.8" cy="306.8" r="0.72" fill="#5a50c8" opacity="0.85"/><circle cx="53.9" cy="276.1" r="0.73" fill="#b03090" opacity="0.85"/><circle cx="41.1" cy="295.7" r="0.88" fill="#6a58d0" opacity="0.85"/><circle cx="87.1" cy="306.1" r="0.61" fill="#5a50c8" opacity="0.85"/><circle cx="64.5" cy="270.3" r="0.68" fill="#8a40b0" opacity="0.85"/><circle cx="189.3" cy="298.0" r="0.95" fill="#5a50c8" opacity="0.85"/><circle cx="157.5" cy="332.8" r="0.65" fill="#b03090" opacity="0.85"/><circle cx="97.6" cy="335.4" r="1.14" fill="#5a50c8" opacity="0.85"/><circle cx="118.3" cy="266.0" r="1.24" fill="#ff4040" opacity="0.85"/><circle cx="46.2" cy="312.2" r="1.22" fill="#b03090" opacity="0.85"/><circle cx="169.2" cy="313.1" r="1.28" fill="#8a40b0" opacity="0.85"/><circle cx="179.7" cy="274.5" r="0.91" fill="#ff4040" opacity="0.85"/><circle cx="109.4" cy="328.9" r="0.76" fill="#8a40b0" opacity="0.85"/><circle cx="129.9" cy="308.8" r="1.24" fill="#8a40b0" opacity="0.85"/><circle cx="118.8" cy="299.6" r="1.02" fill="#b03090" opacity="0.85"/><circle cx="129.0" cy="336.2" r="0.98" fill="#5a50c8" opacity="0.85"/><circle cx="88.1" cy="284.7" r="0.82" fill="#8a40b0" opacity="0.85"/><circle cx="150.8" cy="340.6" r="0.64" fill="#ff4040" opacity="0.85"/><circle cx="186.3" cy="322.6" r="0.68" fill="#ff4040" opacity="0.85"/><circle cx="66.4" cy="335.6" r="1.18" fill="#5a50c8" opacity="0.85"/><circle cx="160.1" cy="304.2" r="0.65" fill="#b03090" opacity="0.85"/><circle cx="171.3" cy="319.4" r="0.96" fill="#b03090" opacity="0.85"/><ellipse cx="44.7" cy="304.4" rx="2.1" ry="2.7" fill="#58d0a8"/><ellipse cx="51.3" cy="300.1" rx="2.1" ry="2.7" fill="#58d0a8"/><ellipse cx="60.7" cy="297.2" rx="2.1" ry="2.7" fill="#58d0a8"/><ellipse cx="70.2" cy="297.2" rx="2.1" ry="2.7" fill="#58d0a8"/><ellipse cx="77.4" cy="301.1" rx="2.1" ry="2.7" fill="#58d0a8"/><ellipse cx="91.0" cy="295.3" rx="2.1" ry="2.7" fill="#58d0a8"/><ellipse cx="97.8" cy="298.2" rx="2.1" ry="2.7" fill="#58d0a8"/><ellipse cx="104.3" cy="298.2" rx="2.1" ry="2.7" fill="#58d0a8"/><ellipse cx="102.9" cy="304.4" rx="2.1" ry="2.7" fill="#58d0a8"/><ellipse cx="107.2" cy="302.2" rx="2.1" ry="2.7" fill="#58d0a8"/><ellipse cx="112.3" cy="303.7" rx="2.1" ry="2.7" fill="#58d0a8"/><ellipse cx="112.8" cy="296.7" rx="2.1" ry="2.7" fill="#58d0a8"/><ellipse cx="118.9" cy="297.2" rx="2.1" ry="2.7" fill="#58d0a8"/><ellipse cx="69.7" cy="314.6" rx="2.1" ry="2.7" fill="#58d0a8"/><ellipse cx="139.2" cy="321.1" rx="2.1" ry="2.7" fill="#58d0a8"/><ellipse cx="150.8" cy="321.9" rx="2.1" ry="2.7" fill="#58d0a8"/><ellipse cx="155.2" cy="317.5" rx="2.1" ry="2.7" fill="#58d0a8"/><ellipse cx="156.7" cy="312.4" rx="2.1" ry="2.7" fill="#58d0a8"/><ellipse cx="187.2" cy="324.0" rx="2.1" ry="2.7" fill="#58d0a8"/><ellipse cx="118.9" cy="309.5" rx="2" ry="2.6" fill="#c04080"/><ellipse cx="180.0" cy="325.5" rx="2" ry="2.6" fill="#d04070"/><ellipse cx="65.1" cy="307.3" rx="2.2" ry="2.8" fill="#f0e0c0"/><ellipse cx="140.7" cy="315.3" rx="2.2" ry="2.8" fill="#e8e060"/><ellipse cx="145.0" cy="296.4" rx="1.4" ry="1.8" fill="#d8d040"/><circle cx="65.1" cy="307.3" r="4.7" fill="none" stroke="#fff" stroke-width="1" stroke-dasharray="1.2 1"/><circle cx="140.7" cy="315.3" r="4.7" fill="none" stroke="#fff" stroke-width="1" stroke-dasharray="1.2 1"/><circle cx="91.2" cy="326.1" r="1.12" fill="#a040a0" opacity="0.6"/><circle cx="67.8" cy="327.6" r="0.74" fill="#c04080" opacity="0.6"/><circle cx="54.2" cy="330.8" r="1.13" fill="#8a50c0" opacity="0.6"/><circle cx="48.8" cy="331.9" r="1.06" fill="#a040a0" opacity="0.6"/><circle cx="122.0" cy="340.1" r="1.09" fill="#a040a0" opacity="0.6"/><circle cx="65.1" cy="328.7" r="1.17" fill="#8a50c0" opacity="0.6"/><circle cx="71.4" cy="327.8" r="0.71" fill="#8a50c0" opacity="0.6"/><circle cx="97.4" cy="339.0" r="0.88" fill="#c04080" opacity="0.6"/><circle cx="112.8" cy="323.8" r="0.72" fill="#c04080" opacity="0.6"/><circle cx="134.3" cy="339.5" r="1.18" fill="#c04080" opacity="0.6"/><circle cx="123.7" cy="341.9" r="0.61" fill="#8a50c0" opacity="0.6"/><circle cx="89.8" cy="328.3" r="1.17" fill="#c04080" opacity="0.6"/><circle cx="138.7" cy="326.2" r="0.71" fill="#a040a0" opacity="0.6"/><circle cx="57.4" cy="335.9" r="0.62" fill="#8a50c0" opacity="0.6"/><circle cx="80.4" cy="327.2" r="0.97" fill="#8a50c0" opacity="0.6"/><circle cx="92.6" cy="325.9" r="1.01" fill="#a040a0" opacity="0.6"/><circle cx="150.7" cy="329.2" r="1.06" fill="#8a50c0" opacity="0.6"/><circle cx="68.4" cy="323.4" r="0.85" fill="#8a50c0" opacity="0.6"/><circle cx="163.6" cy="330.2" r="0.68" fill="#8a50c0" opacity="0.6"/><circle cx="56.7" cy="323.9" r="1.02" fill="#c04080" opacity="0.6"/><circle cx="73.8" cy="333.6" r="0.67" fill="#8a50c0" opacity="0.6"/><circle cx="172.3" cy="341.0" r="1.01" fill="#a040a0" opacity="0.6"/><circle cx="107.5" cy="340.7" r="0.72" fill="#8a50c0" opacity="0.6"/><circle cx="101.3" cy="326.4" r="0.64" fill="#c04080" opacity="0.6"/><circle cx="102.0" cy="327.6" r="1.00" fill="#8a50c0" opacity="0.6"/><circle cx="78.8" cy="335.2" r="1.00" fill="#a040a0" opacity="0.6"/><circle cx="75.3" cy="330.2" r="0.96" fill="#a040a0" opacity="0.6"/><circle cx="170.7" cy="329.8" r="0.80" fill="#8a50c0" opacity="0.6"/><circle cx="163.6" cy="339.0" r="0.66" fill="#c04080" opacity="0.6"/><circle cx="138.6" cy="331.1" r="0.65" fill="#a040a0" opacity="0.6"/><circle cx="93.5" cy="329.5" r="0.95" fill="#c04080" opacity="0.6"/><circle cx="144.7" cy="341.8" r="1.00" fill="#a040a0" opacity="0.6"/><circle cx="61.6" cy="323.5" r="0.88" fill="#a040a0" opacity="0.6"/><circle cx="86.2" cy="335.4" r="0.64" fill="#c04080" opacity="0.6"/><circle cx="71.8" cy="322.4" r="0.86" fill="#8a50c0" opacity="0.6"/><circle cx="73.0" cy="332.8" r="1.20" fill="#a040a0" opacity="0.6"/><circle cx="47.9" cy="331.2" r="1.07" fill="#8a50c0" opacity="0.6"/><circle cx="180.8" cy="332.4" r="0.73" fill="#c04080" opacity="0.6"/><circle cx="94.5" cy="324.9" r="0.66" fill="#8a50c0" opacity="0.6"/><circle cx="159.7" cy="322.1" r="1.02" fill="#c04080" opacity="0.6"/><circle cx="158.4" cy="340.1" r="1.09" fill="#c04080" opacity="0.6"/><circle cx="149.9" cy="337.5" r="0.86" fill="#a040a0" opacity="0.6"/><circle cx="61.6" cy="329.4" r="1.17" fill="#8a50c0" opacity="0.6"/><circle cx="175.2" cy="322.5" r="0.85" fill="#8a50c0" opacity="0.6"/><circle cx="123.8" cy="341.5" r="0.78" fill="#a040a0" opacity="0.6"/><circle cx="115.6" cy="324.5" r="0.74" fill="#c04080" opacity="0.6"/><circle cx="139.4" cy="332.2" r="0.78" fill="#8a50c0" opacity="0.6"/><circle cx="157.0" cy="326.9" r="0.88" fill="#8a50c0" opacity="0.6"/><circle cx="189.6" cy="333.8" r="0.93" fill="#a040a0" opacity="0.6"/><circle cx="108.2" cy="339.0" r="1.09" fill="#a040a0" opacity="0.6"/><circle cx="115.0" cy="324.9" r="0.91" fill="#c04080" opacity="0.6"/><circle cx="100.1" cy="334.2" r="1.18" fill="#c04080" opacity="0.6"/><circle cx="101.2" cy="322.2" r="1.08" fill="#a040a0" opacity="0.6"/><circle cx="54.5" cy="336.7" r="0.69" fill="#8a50c0" opacity="0.6"/><circle cx="119.2" cy="322.6" r="0.90" fill="#a040a0" opacity="0.6"/><circle cx="177.7" cy="332.9" r="0.83" fill="#a040a0" opacity="0.6"/><circle cx="83.7" cy="326.3" r="0.67" fill="#c04080" opacity="0.6"/><circle cx="178.7" cy="328.6" r="0.72" fill="#8a50c0" opacity="0.6"/><circle cx="190.2" cy="333.2" r="0.94" fill="#a040a0" opacity="0.6"/><circle cx="114.6" cy="340.1" r="0.98" fill="#8a50c0" opacity="0.6"/><circle cx="78.7" cy="334.0" r="0.82" fill="#a040a0" opacity="0.6"/><circle cx="103.6" cy="331.5" r="0.99" fill="#8a50c0" opacity="0.6"/><circle cx="88.9" cy="324.3" r="1.10" fill="#8a50c0" opacity="0.6"/><circle cx="47.2" cy="332.6" r="0.79" fill="#c04080" opacity="0.6"/><circle cx="163.4" cy="335.5" r="0.82" fill="#c04080" opacity="0.6"/><circle cx="86.0" cy="331.7" r="0.91" fill="#a040a0" opacity="0.6"/><circle cx="118.6" cy="336.7" r="0.84" fill="#8a50c0" opacity="0.6"/><circle cx="186.0" cy="322.1" r="0.81" fill="#c04080" opacity="0.6"/><circle cx="75.5" cy="341.3" r="0.82" fill="#c04080" opacity="0.6"/><circle cx="83.9" cy="334.2" r="0.63" fill="#c04080" opacity="0.6"/><circle cx="65.9" cy="324.4" r="0.63" fill="#8a50c0" opacity="0.6"/><circle cx="51.9" cy="327.0" r="1.08" fill="#8a50c0" opacity="0.6"/><circle cx="182.6" cy="334.9" r="0.84" fill="#8a50c0" opacity="0.6"/><circle cx="81.6" cy="335.6" r="0.84" fill="#a040a0" opacity="0.6"/><circle cx="72.3" cy="327.0" r="0.79" fill="#a040a0" opacity="0.6"/><circle cx="163.5" cy="337.8" r="0.77" fill="#c04080" opacity="0.6"/><circle cx="191.2" cy="331.8" r="0.97" fill="#8a50c0" opacity="0.6"/><circle cx="122.4" cy="340.5" r="1.03" fill="#c04080" opacity="0.6"/><circle cx="132.4" cy="335.7" r="0.95" fill="#a040a0" opacity="0.6"/><circle cx="38.6" cy="336.7" r="0.80" fill="#8a50c0" opacity="0.6"/><circle cx="133.7" cy="340.3" r="0.70" fill="#a040a0" opacity="0.6"/><circle cx="50.5" cy="335.7" r="0.83" fill="#a040a0" opacity="0.6"/><circle cx="106.4" cy="330.7" r="0.87" fill="#a040a0" opacity="0.6"/><circle cx="175.4" cy="336.6" r="1.17" fill="#a040a0" opacity="0.6"/><circle cx="92.3" cy="338.6" r="0.67" fill="#c04080" opacity="0.6"/><circle cx="55.9" cy="328.2" r="0.94" fill="#c04080" opacity="0.6"/><circle cx="179.3" cy="326.2" r="0.79" fill="#8a50c0" opacity="0.6"/><circle cx="59.2" cy="340.9" r="1.12" fill="#a040a0" opacity="0.6"/><circle cx="110.2" cy="322.6" r="1.16" fill="#8a50c0" opacity="0.6"/><circle cx="68.4" cy="336.1" r="0.90" fill="#8a50c0" opacity="0.6"/><circle cx="143.5" cy="329.8" r="0.66" fill="#8a50c0" opacity="0.6"/><circle cx="151.6" cy="325.3" r="0.79" fill="#c04080" opacity="0.6"/><circle cx="40.0" cy="338.5" r="0.81" fill="#c04080" opacity="0.6"/><circle cx="128.5" cy="332.4" r="0.87" fill="#8a50c0" opacity="0.6"/><circle cx="128.1" cy="331.2" r="0.69" fill="#c04080" opacity="0.6"/><circle cx="145.7" cy="329.9" r="1.02" fill="#a040a0" opacity="0.6"/><circle cx="73.6" cy="327.2" r="0.85" fill="#c04080" opacity="0.6"/><circle cx="44.6" cy="340.4" r="0.83" fill="#8a50c0" opacity="0.6"/><circle cx="147.7" cy="330.7" r="0.64" fill="#c04080" opacity="0.6"/><circle cx="65.3" cy="330.3" r="0.87" fill="#c04080" opacity="0.6"/><circle cx="112.4" cy="326.6" r="0.66" fill="#c04080" opacity="0.6"/><circle cx="84.8" cy="338.9" r="1.20" fill="#a040a0" opacity="0.6"/><circle cx="91.7" cy="325.2" r="0.80" fill="#8a50c0" opacity="0.6"/><circle cx="61.0" cy="341.0" r="1.08" fill="#8a50c0" opacity="0.6"/><circle cx="52.7" cy="337.7" r="1.19" fill="#a040a0" opacity="0.6"/><circle cx="169.9" cy="336.8" r="0.67" fill="#8a50c0" opacity="0.6"/><circle cx="155.1" cy="333.6" r="1.01" fill="#8a50c0" opacity="0.6"/><circle cx="93.6" cy="341.0" r="1.08" fill="#c04080" opacity="0.6"/><circle cx="131.1" cy="338.6" r="0.67" fill="#8a50c0" opacity="0.6"/><circle cx="92.7" cy="325.4" r="1.00" fill="#8a50c0" opacity="0.6"/><circle cx="81.7" cy="333.2" r="0.89" fill="#8a50c0" opacity="0.6"/><circle cx="79.5" cy="327.7" r="1.17" fill="#8a50c0" opacity="0.6"/><circle cx="61.1" cy="329.8" r="1.11" fill="#c04080" opacity="0.6"/><circle cx="131.2" cy="332.9" r="0.70" fill="#c04080" opacity="0.6"/><circle cx="152.9" cy="336.1" r="1.07" fill="#c04080" opacity="0.6"/><circle cx="77.6" cy="323.1" r="0.99" fill="#8a50c0" opacity="0.6"/><circle cx="121.0" cy="331.6" r="0.82" fill="#c04080" opacity="0.6"/><circle cx="149.6" cy="340.9" r="0.76" fill="#c04080" opacity="0.6"/><circle cx="149.2" cy="339.7" r="1.17" fill="#a040a0" opacity="0.6"/><circle cx="54.6" cy="340.8" r="1.05" fill="#c04080" opacity="0.6"/><rect x="37.7" y="265.2" width="153.5" height="76.19999999999999" fill="#000" filter="url(#grain)" opacity="0.22"/></g><line x1="40.4" y1="329.6" x2="59" y2="329.6" stroke="#fff" stroke-width="0.9"/><text x="49.7" y="328.40000000000003" font-size="7" text-anchor="middle" fill="#fff">50 um</text><clipPath id="cc2"><rect x="37.7" y="349.7" width="153.5" height="75.90000000000003"/></clipPath><g clip-path="url(#cc2)"><rect x="37.7" y="349.7" width="153.5" height="75.90000000000003" fill="#b81c28"/><path d="M20.0,340.0 C50.0,340.0 170.0,340.0 200.0,340.0 L200.0,352.0  C190.0,352.7 156.7,354.7 140.0,356.0 C123.3,357.3 113.3,360.0 100.0,360.0 C86.7,360.0 73.3,357.3 60.0,356.0 C46.7,354.7 26.7,352.7 20.0,352.0 Z" fill="#7a1420" filter="url(#blur2)" opacity="0.6"/><ellipse cx="125" cy="360" rx="32" ry="11" fill="#6a1420" filter="url(#blur2)" opacity="0.8"/><path d="M20.0,382.0 C26.7,381.8 46.7,381.7 60.0,381.0 C73.3,380.3 86.7,378.8 100.0,378.0 C113.3,377.2 123.3,376.5 140.0,376.0 C156.7,375.5 190.0,375.2 200.0,375.0 L200.0,405.0  C190.0,404.8 156.7,404.0 140.0,404.0 C123.3,404.0 113.3,404.8 100.0,405.0 C86.7,405.2 73.3,404.8 60.0,405.0 C46.7,405.2 26.7,405.8 20.0,406.0 Z" fill="#4c46aa" filter="url(#blur1)" opacity="1"/><path d="M20.0,404.0 C33.3,404.0 70.0,404.0 100.0,404.0 C130.0,404.0 183.3,404.0 200.0,404.0 L200.0,440.0  C170.0,440.0 50.0,440.0 20.0,440.0 Z" fill="#e02c30" filter="url(#blur1)" opacity="1"/><path d="M84.1,349.8 q6.9,4.6 -9.8,-1.1" stroke="#ff3a30" stroke-width="0.7" fill="none" opacity="0.75"/><path d="M92.0,353.9 q7.2,1.6 -11.5,-0.7" stroke="#ff3a30" stroke-width="0.7" fill="none" opacity="0.75"/><path d="M59.6,376.8 q7.6,4.7 13.4,0.3" stroke="#ff3a30" stroke-width="0.7" fill="none" opacity="0.75"/><path d="M104.7,370.1 q-6.6,1.9 3.6,3.4" stroke="#ff3a30" stroke-width="0.7" fill="none" opacity="0.75"/><path d="M172.7,352.8 q-5.8,-3.1 6.2,-3.8" stroke="#ff3a30" stroke-width="0.7" fill="none" opacity="0.75"/><path d="M182.0,376.7 q-6.6,4.0 -7.8,-2.2" stroke="#ff3a30" stroke-width="0.7" fill="none" opacity="0.75"/><path d="M79.5,354.2 q0.7,3.7 -11.0,-0.6" stroke="#ff3a30" stroke-width="0.7" fill="none" opacity="0.75"/><path d="M159.6,368.0 q4.7,5.0 2.3,3.2" stroke="#ff3a30" stroke-width="0.7" fill="none" opacity="0.75"/><path d="M86.2,354.8 q4.3,-3.4 13.2,-3.1" stroke="#ff3a30" stroke-width="0.7" fill="none" opacity="0.75"/><path d="M83.4,358.7 q7.8,-0.9 -11.2,-2.5" stroke="#ff3a30" stroke-width="0.7" fill="none" opacity="0.75"/><path d="M130.5,375.1 q4.3,1.7 -13.3,-1.0" stroke="#ff3a30" stroke-width="0.7" fill="none" opacity="0.75"/><path d="M184.8,356.2 q-1.7,-2.7 -4.8,-2.2" stroke="#ff3a30" stroke-width="0.7" fill="none" opacity="0.75"/><path d="M97.9,376.7 q-4.1,-4.5 -4.2,1.8" stroke="#ff3a30" stroke-width="0.7" fill="none" opacity="0.75"/><path d="M117.7,360.3 q2.4,4.3 -2.7,-2.4" stroke="#ff3a30" stroke-width="0.7" fill="none" opacity="0.75"/><path d="M70.2,363.2 q-4.5,4.2 -10.1,1.4" stroke="#ff3a30" stroke-width="0.7" fill="none" opacity="0.75"/><path d="M131.4,367.6 q1.2,0.7 -15.3,-1.5" stroke="#ff3a30" stroke-width="0.7" fill="none" opacity="0.75"/><path d="M47.8,365.0 q3.8,-3.0 -14.9,-2.0" stroke="#ff3a30" stroke-width="0.7" fill="none" opacity="0.75"/><path d="M51.9,370.2 q0.1,-0.6 -14.6,0.5" stroke="#ff3a30" stroke-width="0.7" fill="none" opacity="0.75"/><path d="M58.9,369.8 q-6.9,-4.3 10.7,4.0" stroke="#ff3a30" stroke-width="0.7" fill="none" opacity="0.75"/><path d="M102.0,369.8 q-4.3,4.9 -9.4,3.3" stroke="#ff3a30" stroke-width="0.7" fill="none" opacity="0.75"/><path d="M124.0,378.0 q-6.9,4.7 13.2,-3.6" stroke="#ff3a30" stroke-width="0.7" fill="none" opacity="0.75"/><path d="M42.8,378.3 q-1.2,-3.4 -13.8,-2.7" stroke="#ff3a30" stroke-width="0.7" fill="none" opacity="0.75"/><path d="M113.3,356.5 q-2.9,-3.6 -11.6,2.4" stroke="#ff3a30" stroke-width="0.7" fill="none" opacity="0.75"/><path d="M86.7,351.0 q-4.2,2.0 -8.4,2.8" stroke="#ff3a30" stroke-width="0.7" fill="none" opacity="0.75"/><path d="M173.6,369.7 q-2.1,2.3 13.6,-2.8" stroke="#ff3a30" stroke-width="0.7" fill="none" opacity="0.75"/><path d="M171.4,379.2 q3.6,1.8 -12.1,-1.4" stroke="#ff3a30" stroke-width="0.7" fill="none" opacity="0.75"/><path d="M127.1,357.9 q0.4,3.2 -1.8,2.4" stroke="#ff3a30" stroke-width="0.7" fill="none" opacity="0.75"/><path d="M77.9,352.5 q2.5,-4.8 13.5,3.8" stroke="#ff3a30" stroke-width="0.7" fill="none" opacity="0.75"/><path d="M181.1,370.0 q-5.0,4.7 4.4,-3.2" stroke="#ff3a30" stroke-width="0.7" fill="none" opacity="0.75"/><path d="M111.9,376.5 q1.6,-1.5 15.9,-0.1" stroke="#ff3a30" stroke-width="0.7" fill="none" opacity="0.75"/><path d="M43.7,354.1 q-0.5,1.8 -2.0,0.7" stroke="#ff3a30" stroke-width="0.7" fill="none" opacity="0.75"/><path d="M121.1,358.2 q-7.3,-1.0 10.3,3.7" stroke="#ff3a30" stroke-width="0.7" fill="none" opacity="0.75"/><path d="M41.4,362.4 q7.4,1.1 -14.0,-3.8" stroke="#ff3a30" stroke-width="0.7" fill="none" opacity="0.75"/><path d="M90.2,354.7 q7.6,-1.6 11.1,0.5" stroke="#ff3a30" stroke-width="0.7" fill="none" opacity="0.75"/><path d="M143.3,357.2 q3.9,-3.3 -11.4,0.6" stroke="#ff3a30" stroke-width="0.7" fill="none" opacity="0.75"/><path d="M131.7,362.6 q1.4,-2.4 14.4,-0.1" stroke="#ff3a30" stroke-width="0.7" fill="none" opacity="0.75"/><path d="M141.7,368.4 q6.3,1.6 -1.0,0.5" stroke="#ff3a30" stroke-width="0.7" fill="none" opacity="0.75"/><path d="M178.8,372.7 q6.9,-1.9 1.8,-0.8" stroke="#ff3a30" stroke-width="0.7" fill="none" opacity="0.75"/><path d="M145.5,359.9 q2.2,1.3 -15.9,-0.2" stroke="#ff3a30" stroke-width="0.7" fill="none" opacity="0.75"/><path d="M54.9,372.1 q4.8,1.5 5.9,1.3" stroke="#ff3a30" stroke-width="0.7" fill="none" opacity="0.75"/><path d="M99.2,364.6 q5.5,0.7 -14.2,-1.4" stroke="#ff3a30" stroke-width="0.7" fill="none" opacity="0.75"/><path d="M135.8,351.6 q-5.7,-4.7 1.2,-3.6" stroke="#ff3a30" stroke-width="0.7" fill="none" opacity="0.75"/><path d="M80.7,351.2 q1.3,-1.0 -14.7,-2.4" stroke="#ff3a30" stroke-width="0.7" fill="none" opacity="0.75"/><path d="M134.9,352.8 q-2.4,-4.4 -13.7,2.9" stroke="#ff3a30" stroke-width="0.7" fill="none" opacity="0.75"/><path d="M61.0,359.2 q2.7,0.0 13.6,1.2" stroke="#ff3a30" stroke-width="0.7" fill="none" opacity="0.75"/><path d="M143.6,363.1 q-3.2,1.7 -11.9,-2.0" stroke="#ff3a30" stroke-width="0.7" fill="none" opacity="0.75"/><path d="M149.6,357.9 q-3.2,3.8 -12.2,-0.2" stroke="#ff3a30" stroke-width="0.7" fill="none" opacity="0.75"/><path d="M147.4,351.0 q4.9,4.6 5.1,-0.2" stroke="#ff3a30" stroke-width="0.7" fill="none" opacity="0.75"/><path d="M136.6,370.0 q-1.6,4.4 11.7,3.8" stroke="#ff3a30" stroke-width="0.7" fill="none" opacity="0.75"/><path d="M62.2,357.5 q-3.4,-1.1 -7.9,0.9" stroke="#ff3a30" stroke-width="0.7" fill="none" opacity="0.75"/><path d="M156.6,357.5 q3.3,1.5 8.0,1.4" stroke="#ff3a30" stroke-width="0.7" fill="none" opacity="0.75"/><path d="M104.7,361.9 q-1.7,2.5 -15.9,-1.9" stroke="#ff3a30" stroke-width="0.7" fill="none" opacity="0.75"/><path d="M113.5,377.4 q-4.4,2.1 -14.7,3.1" stroke="#ff3a30" stroke-width="0.7" fill="none" opacity="0.75"/><path d="M114.4,379.1 q-4.3,1.2 -12.2,-2.8" stroke="#ff3a30" stroke-width="0.7" fill="none" opacity="0.75"/><path d="M103.9,363.7 q3.1,-4.7 -7.5,2.2" stroke="#ff3a30" stroke-width="0.7" fill="none" opacity="0.75"/><path d="M53.6,359.6 q-7.1,-4.7 1.1,0.6" stroke="#ff3a30" stroke-width="0.7" fill="none" opacity="0.75"/><path d="M84.2,363.6 q-7.1,-3.9 -9.0,3.9" stroke="#ff3a30" stroke-width="0.7" fill="none" opacity="0.75"/><path d="M47.8,352.6 q3.3,-4.5 8.2,0.2" stroke="#ff3a30" stroke-width="0.7" fill="none" opacity="0.75"/><path d="M82.0,377.7 q-2.2,-0.7 -3.3,-1.3" stroke="#ff3a30" stroke-width="0.7" fill="none" opacity="0.75"/><path d="M184.9,358.6 q5.8,3.6 1.0,-2.3" stroke="#ff3a30" stroke-width="0.7" fill="none" opacity="0.75"/><path d="M178.9,373.4 q6.7,-4.2 -2.3,-0.2" stroke="#ff3a30" stroke-width="0.7" fill="none" opacity="0.75"/><path d="M101.5,368.6 q4.9,4.2 0.0,3.6" stroke="#ff3a30" stroke-width="0.7" fill="none" opacity="0.75"/><path d="M127.7,362.3 q-7.8,-4.1 -10.2,3.9" stroke="#ff3a30" stroke-width="0.7" fill="none" opacity="0.75"/><path d="M132.1,355.2 q7.5,2.9 2.7,3.5" stroke="#ff3a30" stroke-width="0.7" fill="none" opacity="0.75"/><path d="M78.9,373.6 q-7.3,-4.4 -14.1,3.8" stroke="#ff3a30" stroke-width="0.7" fill="none" opacity="0.75"/><path d="M183.8,355.5 q-4.0,4.0 1.6,-4.0" stroke="#ff3a30" stroke-width="0.7" fill="none" opacity="0.75"/><path d="M109.1,368.1 q5.9,5.0 -0.1,2.3" stroke="#ff3a30" stroke-width="0.7" fill="none" opacity="0.75"/><path d="M75.3,374.1 q-4.2,3.6 -2.9,-3.3" stroke="#ff3a30" stroke-width="0.7" fill="none" opacity="0.75"/><path d="M124.3,357.1 q1.1,-1.0 -3.7,1.9" stroke="#ff3a30" stroke-width="0.7" fill="none" opacity="0.75"/><path d="M149.8,368.3 q-4.7,-2.5 7.7,3.9" stroke="#ff3a30" stroke-width="0.7" fill="none" opacity="0.75"/><path d="M171.8,400.9 q2.2,-1.6 -15.3,2.7" stroke="#e05090" stroke-width="0.5" fill="none" opacity="0.6"/><path d="M148.4,392.1 q3.8,3.7 -9.9,-3.7" stroke="#e05090" stroke-width="0.5" fill="none" opacity="0.6"/><path d="M51.9,384.4 q-4.7,1.6 -9.4,-0.5" stroke="#e05090" stroke-width="0.5" fill="none" opacity="0.6"/><path d="M70.1,378.3 q6.0,1.2 -13.2,1.9" stroke="#e05090" stroke-width="0.5" fill="none" opacity="0.6"/><path d="M133.7,391.5 q2.5,1.8 0.1,2.4" stroke="#e05090" stroke-width="0.5" fill="none" opacity="0.6"/><path d="M180.5,399.9 q-6.8,-2.7 -8.7,0.8" stroke="#e05090" stroke-width="0.5" fill="none" opacity="0.6"/><path d="M129.5,402.6 q-0.7,-2.9 -6.5,0.8" stroke="#e05090" stroke-width="0.5" fill="none" opacity="0.6"/><path d="M50.8,392.4 q3.6,0.6 -3.5,2.7" stroke="#e05090" stroke-width="0.5" fill="none" opacity="0.6"/><path d="M90.6,388.4 q-6.6,-1.2 11.6,-1.6" stroke="#e05090" stroke-width="0.5" fill="none" opacity="0.6"/><path d="M184.4,396.4 q-1.1,-0.0 -14.3,-2.3" stroke="#e05090" stroke-width="0.5" fill="none" opacity="0.6"/><path d="M137.8,379.4 q7.6,2.1 -5.1,-1.1" stroke="#e05090" stroke-width="0.5" fill="none" opacity="0.6"/><path d="M111.1,384.1 q2.9,-0.9 -11.0,-3.8" stroke="#e05090" stroke-width="0.5" fill="none" opacity="0.6"/><path d="M153.2,392.3 q5.0,0.1 -15.3,2.1" stroke="#e05090" stroke-width="0.5" fill="none" opacity="0.6"/><path d="M90.4,401.5 q-2.8,4.2 9.4,-0.0" stroke="#e05090" stroke-width="0.5" fill="none" opacity="0.6"/><path d="M112.5,400.4 q7.5,1.8 -12.9,-3.6" stroke="#e05090" stroke-width="0.5" fill="none" opacity="0.6"/><path d="M108.7,391.6 q-1.0,-4.8 -6.7,-0.5" stroke="#e05090" stroke-width="0.5" fill="none" opacity="0.6"/><path d="M45.7,377.9 q0.7,-3.3 -4.4,-2.3" stroke="#e05090" stroke-width="0.5" fill="none" opacity="0.6"/><path d="M146.0,381.4 q1.3,0.1 1.3,-0.8" stroke="#e05090" stroke-width="0.5" fill="none" opacity="0.6"/><path d="M99.8,397.4 q2.0,3.3 3.6,-2.3" stroke="#e05090" stroke-width="0.5" fill="none" opacity="0.6"/><path d="M41.6,400.5 q2.2,-4.7 -9.9,-3.8" stroke="#e05090" stroke-width="0.5" fill="none" opacity="0.6"/><circle cx="46.5" cy="393.9" r="1.20" fill="#b03090" opacity="0.85"/><circle cx="70.1" cy="403.1" r="0.84" fill="#b03090" opacity="0.85"/><circle cx="172.5" cy="366.3" r="1.09" fill="#ff4040" opacity="0.85"/><circle cx="41.9" cy="419.3" r="0.80" fill="#8a40b0" opacity="0.85"/><circle cx="115.3" cy="377.0" r="0.76" fill="#8a40b0" opacity="0.85"/><circle cx="132.8" cy="361.1" r="1.15" fill="#b03090" opacity="0.85"/><circle cx="173.8" cy="363.0" r="1.24" fill="#5a50c8" opacity="0.85"/><circle cx="141.6" cy="362.7" r="1.02" fill="#b03090" opacity="0.85"/><circle cx="91.1" cy="408.1" r="1.21" fill="#b03090" opacity="0.85"/><circle cx="72.5" cy="377.3" r="0.95" fill="#5a50c8" opacity="0.85"/><circle cx="140.4" cy="414.2" r="1.14" fill="#6a58d0" opacity="0.85"/><circle cx="142.1" cy="421.1" r="0.67" fill="#6a58d0" opacity="0.85"/><circle cx="44.5" cy="376.5" r="1.02" fill="#ff4040" opacity="0.85"/><circle cx="170.1" cy="354.5" r="0.89" fill="#6a58d0" opacity="0.85"/><circle cx="177.2" cy="396.3" r="0.79" fill="#8a40b0" opacity="0.85"/><circle cx="140.1" cy="402.5" r="0.64" fill="#b03090" opacity="0.85"/><circle cx="157.4" cy="366.5" r="0.85" fill="#6a58d0" opacity="0.85"/><circle cx="93.0" cy="368.6" r="0.81" fill="#b03090" opacity="0.85"/><circle cx="40.0" cy="377.3" r="1.01" fill="#ff4040" opacity="0.85"/><circle cx="78.9" cy="358.3" r="0.93" fill="#6a58d0" opacity="0.85"/><circle cx="116.3" cy="373.4" r="1.16" fill="#8a40b0" opacity="0.85"/><circle cx="105.9" cy="404.2" r="0.89" fill="#5a50c8" opacity="0.85"/><circle cx="97.6" cy="388.0" r="0.91" fill="#ff4040" opacity="0.85"/><circle cx="126.0" cy="425.4" r="0.80" fill="#5a50c8" opacity="0.85"/><circle cx="83.2" cy="379.4" r="1.03" fill="#6a58d0" opacity="0.85"/><circle cx="81.5" cy="364.2" r="1.08" fill="#8a40b0" opacity="0.85"/><circle cx="143.9" cy="406.2" r="0.66" fill="#ff4040" opacity="0.85"/><circle cx="114.6" cy="366.9" r="1.29" fill="#8a40b0" opacity="0.85"/><circle cx="178.5" cy="413.1" r="0.68" fill="#6a58d0" opacity="0.85"/><circle cx="119.7" cy="375.2" r="0.96" fill="#ff4040" opacity="0.85"/><circle cx="85.3" cy="415.1" r="0.85" fill="#8a40b0" opacity="0.85"/><circle cx="184.3" cy="390.1" r="0.61" fill="#6a58d0" opacity="0.85"/><circle cx="60.5" cy="379.3" r="0.91" fill="#6a58d0" opacity="0.85"/><circle cx="189.6" cy="417.7" r="1.13" fill="#8a40b0" opacity="0.85"/><circle cx="128.6" cy="393.9" r="0.65" fill="#5a50c8" opacity="0.85"/><circle cx="152.0" cy="368.1" r="0.75" fill="#ff4040" opacity="0.85"/><circle cx="106.3" cy="391.0" r="1.29" fill="#b03090" opacity="0.85"/><circle cx="179.2" cy="396.4" r="0.75" fill="#6a58d0" opacity="0.85"/><circle cx="138.5" cy="366.0" r="0.77" fill="#6a58d0" opacity="0.85"/><circle cx="85.5" cy="363.2" r="0.97" fill="#8a40b0" opacity="0.85"/><circle cx="187.6" cy="363.7" r="1.17" fill="#5a50c8" opacity="0.85"/><circle cx="148.9" cy="407.3" r="0.84" fill="#6a58d0" opacity="0.85"/><circle cx="149.2" cy="404.0" r="1.04" fill="#5a50c8" opacity="0.85"/><circle cx="151.3" cy="417.0" r="1.16" fill="#b03090" opacity="0.85"/><circle cx="176.0" cy="406.0" r="1.04" fill="#b03090" opacity="0.85"/><circle cx="132.1" cy="420.7" r="1.21" fill="#6a58d0" opacity="0.85"/><circle cx="84.4" cy="416.4" r="0.87" fill="#b03090" opacity="0.85"/><circle cx="137.1" cy="381.2" r="0.77" fill="#6a58d0" opacity="0.85"/><circle cx="80.5" cy="419.3" r="0.65" fill="#6a58d0" opacity="0.85"/><circle cx="66.3" cy="367.7" r="1.26" fill="#b03090" opacity="0.85"/><circle cx="139.8" cy="358.8" r="1.25" fill="#ff4040" opacity="0.85"/><circle cx="86.8" cy="350.2" r="0.94" fill="#ff4040" opacity="0.85"/><circle cx="96.7" cy="390.0" r="0.68" fill="#6a58d0" opacity="0.85"/><circle cx="92.9" cy="395.9" r="0.83" fill="#8a40b0" opacity="0.85"/><circle cx="60.5" cy="394.7" r="0.73" fill="#8a40b0" opacity="0.85"/><circle cx="114.5" cy="387.6" r="1.04" fill="#8a40b0" opacity="0.85"/><circle cx="106.5" cy="386.5" r="0.65" fill="#6a58d0" opacity="0.85"/><circle cx="170.4" cy="352.2" r="0.87" fill="#5a50c8" opacity="0.85"/><circle cx="72.3" cy="382.8" r="1.12" fill="#ff4040" opacity="0.85"/><circle cx="154.5" cy="404.5" r="0.85" fill="#6a58d0" opacity="0.85"/><circle cx="48.0" cy="370.7" r="0.63" fill="#8a40b0" opacity="0.85"/><circle cx="42.1" cy="416.3" r="0.70" fill="#ff4040" opacity="0.85"/><circle cx="147.2" cy="360.2" r="1.02" fill="#b03090" opacity="0.85"/><circle cx="178.4" cy="352.5" r="0.76" fill="#6a58d0" opacity="0.85"/><circle cx="65.3" cy="383.9" r="0.74" fill="#ff4040" opacity="0.85"/><circle cx="136.0" cy="362.5" r="1.18" fill="#5a50c8" opacity="0.85"/><circle cx="159.2" cy="380.8" r="1.00" fill="#ff4040" opacity="0.85"/><circle cx="115.7" cy="379.2" r="0.82" fill="#ff4040" opacity="0.85"/><circle cx="189.3" cy="351.8" r="1.25" fill="#b03090" opacity="0.85"/><circle cx="102.6" cy="409.6" r="0.80" fill="#ff4040" opacity="0.85"/><circle cx="81.6" cy="400.1" r="0.87" fill="#5a50c8" opacity="0.85"/><circle cx="146.4" cy="377.9" r="1.24" fill="#6a58d0" opacity="0.85"/><circle cx="44.0" cy="371.3" r="0.77" fill="#b03090" opacity="0.85"/><circle cx="190.7" cy="357.2" r="1.04" fill="#5a50c8" opacity="0.85"/><circle cx="170.5" cy="375.6" r="0.68" fill="#b03090" opacity="0.85"/><circle cx="188.1" cy="405.9" r="1.01" fill="#b03090" opacity="0.85"/><circle cx="141.6" cy="393.5" r="1.22" fill="#8a40b0" opacity="0.85"/><circle cx="80.3" cy="367.5" r="1.06" fill="#ff4040" opacity="0.85"/><circle cx="185.1" cy="360.6" r="0.95" fill="#ff4040" opacity="0.85"/><circle cx="51.5" cy="408.7" r="0.90" fill="#6a58d0" opacity="0.85"/><circle cx="126.5" cy="365.5" r="0.87" fill="#8a40b0" opacity="0.85"/><circle cx="78.8" cy="400.4" r="0.78" fill="#6a58d0" opacity="0.85"/><circle cx="93.8" cy="402.4" r="0.98" fill="#5a50c8" opacity="0.85"/><circle cx="78.0" cy="378.6" r="0.84" fill="#8a40b0" opacity="0.85"/><circle cx="37.9" cy="349.8" r="1.04" fill="#6a58d0" opacity="0.85"/><circle cx="136.1" cy="385.3" r="1.05" fill="#8a40b0" opacity="0.85"/><circle cx="47.7" cy="404.0" r="1.16" fill="#5a50c8" opacity="0.85"/><circle cx="65.0" cy="384.8" r="1.25" fill="#ff4040" opacity="0.85"/><circle cx="102.3" cy="373.8" r="0.77" fill="#ff4040" opacity="0.85"/><circle cx="148.8" cy="409.0" r="1.08" fill="#8a40b0" opacity="0.85"/><circle cx="61.0" cy="409.1" r="0.69" fill="#5a50c8" opacity="0.85"/><circle cx="129.6" cy="401.7" r="0.89" fill="#ff4040" opacity="0.85"/><circle cx="65.8" cy="405.2" r="1.07" fill="#8a40b0" opacity="0.85"/><circle cx="92.8" cy="398.8" r="0.67" fill="#b03090" opacity="0.85"/><circle cx="43.2" cy="384.6" r="1.08" fill="#b03090" opacity="0.85"/><circle cx="121.8" cy="414.7" r="1.26" fill="#b03090" opacity="0.85"/><circle cx="46.5" cy="398.9" r="0.76" fill="#ff4040" opacity="0.85"/><circle cx="42.3" cy="362.0" r="0.71" fill="#6a58d0" opacity="0.85"/><circle cx="91.2" cy="356.8" r="1.24" fill="#b03090" opacity="0.85"/><circle cx="94.9" cy="399.0" r="1.22" fill="#b03090" opacity="0.85"/><circle cx="122.8" cy="393.9" r="1.07" fill="#6a58d0" opacity="0.85"/><circle cx="187.3" cy="371.5" r="1.04" fill="#b03090" opacity="0.85"/><circle cx="109.6" cy="350.5" r="1.20" fill="#ff4040" opacity="0.85"/><circle cx="111.7" cy="418.8" r="0.96" fill="#5a50c8" opacity="0.85"/><circle cx="46.7" cy="359.7" r="0.86" fill="#8a40b0" opacity="0.85"/><circle cx="52.6" cy="422.5" r="0.65" fill="#b03090" opacity="0.85"/><circle cx="131.1" cy="381.6" r="0.88" fill="#b03090" opacity="0.85"/><circle cx="179.0" cy="386.4" r="1.08" fill="#ff4040" opacity="0.85"/><circle cx="168.9" cy="355.8" r="0.63" fill="#6a58d0" opacity="0.85"/><circle cx="99.0" cy="355.7" r="0.91" fill="#5a50c8" opacity="0.85"/><circle cx="125.0" cy="357.1" r="1.13" fill="#5a50c8" opacity="0.85"/><circle cx="105.9" cy="372.1" r="0.87" fill="#b03090" opacity="0.85"/><circle cx="177.7" cy="405.0" r="1.22" fill="#6a58d0" opacity="0.85"/><circle cx="111.8" cy="359.7" r="0.68" fill="#5a50c8" opacity="0.85"/><circle cx="172.3" cy="405.4" r="1.07" fill="#8a40b0" opacity="0.85"/><circle cx="70.5" cy="383.5" r="1.29" fill="#8a40b0" opacity="0.85"/><circle cx="80.9" cy="353.4" r="0.90" fill="#5a50c8" opacity="0.85"/><circle cx="49.2" cy="391.7" r="0.93" fill="#b03090" opacity="0.85"/><circle cx="175.9" cy="409.7" r="1.18" fill="#5a50c8" opacity="0.85"/><circle cx="177.6" cy="363.2" r="0.81" fill="#ff4040" opacity="0.85"/><circle cx="178.4" cy="365.5" r="0.89" fill="#6a58d0" opacity="0.85"/><circle cx="61.8" cy="384.4" r="0.82" fill="#5a50c8" opacity="0.85"/><circle cx="148.8" cy="418.3" r="1.17" fill="#6a58d0" opacity="0.85"/><circle cx="74.3" cy="413.8" r="1.27" fill="#8a40b0" opacity="0.85"/><circle cx="170.5" cy="368.6" r="0.96" fill="#8a40b0" opacity="0.85"/><circle cx="172.0" cy="394.9" r="1.13" fill="#b03090" opacity="0.85"/><circle cx="89.4" cy="381.6" r="0.92" fill="#5a50c8" opacity="0.85"/><circle cx="55.8" cy="357.0" r="0.77" fill="#5a50c8" opacity="0.85"/><circle cx="102.3" cy="413.9" r="0.86" fill="#ff4040" opacity="0.85"/><circle cx="94.3" cy="363.1" r="1.02" fill="#8a40b0" opacity="0.85"/><circle cx="57.4" cy="403.0" r="0.96" fill="#8a40b0" opacity="0.85"/><circle cx="187.9" cy="412.7" r="0.88" fill="#ff4040" opacity="0.85"/><circle cx="137.2" cy="378.1" r="1.15" fill="#ff4040" opacity="0.85"/><circle cx="56.6" cy="368.7" r="0.85" fill="#ff4040" opacity="0.85"/><circle cx="167.7" cy="410.4" r="1.19" fill="#5a50c8" opacity="0.85"/><circle cx="97.0" cy="398.5" r="0.87" fill="#b03090" opacity="0.85"/><circle cx="125.0" cy="423.3" r="1.24" fill="#5a50c8" opacity="0.85"/><circle cx="84.2" cy="378.4" r="1.09" fill="#6a58d0" opacity="0.85"/><circle cx="188.2" cy="390.0" r="0.97" fill="#6a58d0" opacity="0.85"/><circle cx="157.0" cy="386.9" r="1.21" fill="#6a58d0" opacity="0.85"/><circle cx="91.9" cy="385.6" r="1.16" fill="#5a50c8" opacity="0.85"/><circle cx="180.9" cy="410.9" r="1.11" fill="#b03090" opacity="0.85"/><circle cx="42.3" cy="398.2" r="0.95" fill="#b03090" opacity="0.85"/><circle cx="39.5" cy="381.5" r="1.15" fill="#6a58d0" opacity="0.85"/><circle cx="130.3" cy="350.8" r="0.93" fill="#ff4040" opacity="0.85"/><circle cx="112.6" cy="373.9" r="0.89" fill="#8a40b0" opacity="0.85"/><circle cx="92.0" cy="423.5" r="1.04" fill="#b03090" opacity="0.85"/><circle cx="153.9" cy="401.6" r="0.69" fill="#6a58d0" opacity="0.85"/><circle cx="161.7" cy="356.5" r="1.06" fill="#8a40b0" opacity="0.85"/><circle cx="115.0" cy="363.3" r="0.71" fill="#8a40b0" opacity="0.85"/><circle cx="190.0" cy="393.6" r="1.27" fill="#b03090" opacity="0.85"/><circle cx="154.0" cy="398.7" r="0.69" fill="#ff4040" opacity="0.85"/><circle cx="85.7" cy="358.8" r="0.97" fill="#8a40b0" opacity="0.85"/><circle cx="101.2" cy="388.8" r="1.00" fill="#8a40b0" opacity="0.85"/><circle cx="158.8" cy="412.3" r="1.17" fill="#6a58d0" opacity="0.85"/><circle cx="152.1" cy="415.1" r="0.68" fill="#b03090" opacity="0.85"/><circle cx="59.2" cy="362.5" r="0.80" fill="#8a40b0" opacity="0.85"/><circle cx="157.2" cy="374.9" r="1.16" fill="#b03090" opacity="0.85"/><circle cx="37.9" cy="391.3" r="1.23" fill="#6a58d0" opacity="0.85"/><circle cx="70.2" cy="376.1" r="1.13" fill="#8a40b0" opacity="0.85"/><circle cx="65.6" cy="374.6" r="0.90" fill="#5a50c8" opacity="0.85"/><circle cx="44.1" cy="354.2" r="0.67" fill="#ff4040" opacity="0.85"/><circle cx="58.8" cy="364.7" r="0.98" fill="#8a40b0" opacity="0.85"/><circle cx="112.9" cy="422.7" r="1.18" fill="#5a50c8" opacity="0.85"/><circle cx="96.0" cy="361.8" r="0.72" fill="#ff4040" opacity="0.85"/><circle cx="153.8" cy="411.8" r="0.75" fill="#8a40b0" opacity="0.85"/><circle cx="56.2" cy="362.2" r="1.24" fill="#5a50c8" opacity="0.85"/><circle cx="51.6" cy="350.1" r="1.24" fill="#5a50c8" opacity="0.85"/><circle cx="51.6" cy="371.3" r="1.14" fill="#8a40b0" opacity="0.85"/><circle cx="104.8" cy="384.4" r="1.14" fill="#ff4040" opacity="0.85"/><circle cx="159.6" cy="388.1" r="1.28" fill="#b03090" opacity="0.85"/><circle cx="144.8" cy="361.4" r="0.87" fill="#8a40b0" opacity="0.85"/><circle cx="92.8" cy="352.2" r="1.23" fill="#6a58d0" opacity="0.85"/><circle cx="140.3" cy="366.7" r="0.62" fill="#b03090" opacity="0.85"/><circle cx="86.3" cy="377.7" r="1.15" fill="#b03090" opacity="0.85"/><circle cx="46.7" cy="401.8" r="0.87" fill="#8a40b0" opacity="0.85"/><circle cx="64.8" cy="357.7" r="0.91" fill="#6a58d0" opacity="0.85"/><circle cx="155.3" cy="363.8" r="0.74" fill="#6a58d0" opacity="0.85"/><circle cx="95.8" cy="385.4" r="1.12" fill="#6a58d0" opacity="0.85"/><circle cx="84.2" cy="384.0" r="0.66" fill="#b03090" opacity="0.85"/><circle cx="53.1" cy="423.2" r="1.24" fill="#6a58d0" opacity="0.85"/><circle cx="130.0" cy="422.5" r="0.72" fill="#6a58d0" opacity="0.85"/><circle cx="189.9" cy="364.9" r="0.68" fill="#5a50c8" opacity="0.85"/><circle cx="84.2" cy="383.3" r="1.08" fill="#8a40b0" opacity="0.85"/><circle cx="69.0" cy="417.8" r="0.62" fill="#8a40b0" opacity="0.85"/><circle cx="83.1" cy="419.0" r="0.88" fill="#ff4040" opacity="0.85"/><circle cx="49.5" cy="414.7" r="0.65" fill="#ff4040" opacity="0.85"/><circle cx="75.4" cy="405.2" r="0.91" fill="#b03090" opacity="0.85"/><circle cx="114.4" cy="408.5" r="0.89" fill="#b03090" opacity="0.85"/><circle cx="121.6" cy="380.1" r="0.98" fill="#8a40b0" opacity="0.85"/><circle cx="94.4" cy="384.3" r="0.83" fill="#6a58d0" opacity="0.85"/><circle cx="113.1" cy="378.4" r="1.04" fill="#b03090" opacity="0.85"/><circle cx="38.9" cy="407.3" r="0.68" fill="#5a50c8" opacity="0.85"/><circle cx="42.2" cy="386.2" r="1.11" fill="#6a58d0" opacity="0.85"/><circle cx="42.1" cy="350.3" r="0.97" fill="#8a40b0" opacity="0.85"/><circle cx="41.4" cy="357.4" r="1.06" fill="#8a40b0" opacity="0.85"/><circle cx="52.6" cy="379.0" r="0.95" fill="#b03090" opacity="0.85"/><circle cx="159.3" cy="413.1" r="1.07" fill="#5a50c8" opacity="0.85"/><circle cx="108.6" cy="390.2" r="1.19" fill="#8a40b0" opacity="0.85"/><circle cx="116.9" cy="424.7" r="1.18" fill="#6a58d0" opacity="0.85"/><circle cx="164.5" cy="390.5" r="1.24" fill="#8a40b0" opacity="0.85"/><circle cx="45.3" cy="385.8" r="0.61" fill="#ff4040" opacity="0.85"/><circle cx="126.9" cy="417.8" r="0.70" fill="#b03090" opacity="0.85"/><circle cx="153.4" cy="386.8" r="1.17" fill="#b03090" opacity="0.85"/><circle cx="103.9" cy="374.6" r="1.22" fill="#ff4040" opacity="0.85"/><circle cx="157.0" cy="370.6" r="0.89" fill="#6a58d0" opacity="0.85"/><circle cx="108.6" cy="420.3" r="1.25" fill="#8a40b0" opacity="0.85"/><circle cx="118.7" cy="352.2" r="0.77" fill="#ff4040" opacity="0.85"/><circle cx="63.9" cy="393.7" r="1.25" fill="#ff4040" opacity="0.85"/><circle cx="56.7" cy="383.5" r="0.99" fill="#b03090" opacity="0.85"/><circle cx="114.6" cy="363.5" r="0.89" fill="#ff4040" opacity="0.85"/><circle cx="110.3" cy="382.7" r="0.82" fill="#8a40b0" opacity="0.85"/><circle cx="40.6" cy="405.5" r="0.76" fill="#8a40b0" opacity="0.85"/><circle cx="75.2" cy="384.6" r="1.02" fill="#ff4040" opacity="0.85"/><circle cx="91.4" cy="425.0" r="1.06" fill="#b03090" opacity="0.85"/><circle cx="57.6" cy="420.5" r="1.06" fill="#6a58d0" opacity="0.85"/><circle cx="53.0" cy="358.7" r="1.23" fill="#6a58d0" opacity="0.85"/><circle cx="78.1" cy="357.5" r="1.28" fill="#b03090" opacity="0.85"/><circle cx="147.7" cy="385.6" r="1.14" fill="#b03090" opacity="0.85"/><circle cx="115.9" cy="370.3" r="1.02" fill="#8a40b0" opacity="0.85"/><circle cx="145.2" cy="406.0" r="0.70" fill="#5a50c8" opacity="0.85"/><circle cx="186.7" cy="365.7" r="1.12" fill="#5a50c8" opacity="0.85"/><circle cx="55.5" cy="352.5" r="1.19" fill="#ff4040" opacity="0.85"/><circle cx="163.7" cy="392.7" r="1.22" fill="#6a58d0" opacity="0.85"/><circle cx="181.2" cy="406.2" r="0.63" fill="#6a58d0" opacity="0.85"/><circle cx="47.1" cy="405.2" r="0.63" fill="#ff4040" opacity="0.85"/><circle cx="127.5" cy="401.9" r="1.07" fill="#5a50c8" opacity="0.85"/><circle cx="144.2" cy="377.6" r="1.13" fill="#6a58d0" opacity="0.85"/><circle cx="95.8" cy="404.0" r="0.92" fill="#ff4040" opacity="0.85"/><circle cx="69.2" cy="383.9" r="1.10" fill="#8a40b0" opacity="0.85"/><circle cx="61.7" cy="424.6" r="1.18" fill="#5a50c8" opacity="0.85"/><circle cx="58.8" cy="423.2" r="1.24" fill="#8a40b0" opacity="0.85"/><circle cx="141.6" cy="351.3" r="0.72" fill="#8a40b0" opacity="0.85"/><circle cx="84.8" cy="363.0" r="0.84" fill="#6a58d0" opacity="0.85"/><circle cx="48.7" cy="400.1" r="1.19" fill="#6a58d0" opacity="0.85"/><circle cx="122.1" cy="353.7" r="1.02" fill="#ff4040" opacity="0.85"/><circle cx="161.7" cy="422.5" r="0.92" fill="#ff4040" opacity="0.85"/><circle cx="39.9" cy="396.3" r="1.20" fill="#5a50c8" opacity="0.85"/><circle cx="131.7" cy="377.3" r="1.05" fill="#6a58d0" opacity="0.85"/><circle cx="87.4" cy="387.0" r="1.02" fill="#ff4040" opacity="0.85"/><ellipse cx="61.9" cy="392.8" rx="2.2" ry="3.2" fill="#78d0e0"/><ellipse cx="84.3" cy="391.3" rx="2.2" ry="3.2" fill="#78d0e0"/><ellipse cx="137.0" cy="388.4" rx="2.2" ry="3.2" fill="#78d0e0"/><ellipse cx="134.9" cy="397.9" rx="2.2" ry="3.2" fill="#78d0e0"/><ellipse cx="183.5" cy="399.3" rx="2.2" ry="3.2" fill="#78d0e0"/><ellipse cx="124.0" cy="397.9" rx="1.6" ry="2.0" fill="#70c0e0"/><ellipse cx="136.0" cy="381.2" rx="1.6" ry="2.0" fill="#a0c0e0"/><ellipse cx="124.0" cy="375.3" rx="2.6" ry="2.6" fill="#60d860"/><ellipse cx="157.8" cy="377.5" rx="2.6" ry="2.6" fill="#60d080"/><ellipse cx="126.1" cy="365.2" rx="1.6" ry="2.2" fill="#f0d040"/><ellipse cx="69.4" cy="384.5" rx="2" ry="2.6" fill="#c04880"/><ellipse cx="61.9" cy="402.0" rx="2" ry="2.6" fill="#c04880"/><ellipse cx="155.2" cy="382.6" rx="2" ry="2.6" fill="#c04880"/><circle cx="168.6" cy="421.0" r="0.88" fill="#a040a0" opacity="0.6"/><circle cx="175.4" cy="412.7" r="0.93" fill="#a040a0" opacity="0.6"/><circle cx="178.5" cy="405.3" r="0.84" fill="#c04080" opacity="0.6"/><circle cx="79.9" cy="419.2" r="0.95" fill="#a040a0" opacity="0.6"/><circle cx="151.9" cy="420.4" r="0.96" fill="#a040a0" opacity="0.6"/><circle cx="102.6" cy="421.6" r="0.97" fill="#8a50c0" opacity="0.6"/><circle cx="142.7" cy="416.7" r="0.74" fill="#8a50c0" opacity="0.6"/><circle cx="39.9" cy="410.6" r="0.77" fill="#c04080" opacity="0.6"/><circle cx="112.7" cy="415.5" r="1.02" fill="#8a50c0" opacity="0.6"/><circle cx="92.6" cy="413.0" r="1.17" fill="#8a50c0" opacity="0.6"/><circle cx="156.8" cy="421.7" r="0.68" fill="#c04080" opacity="0.6"/><circle cx="85.4" cy="412.3" r="0.68" fill="#8a50c0" opacity="0.6"/><circle cx="152.5" cy="422.5" r="1.07" fill="#c04080" opacity="0.6"/><circle cx="61.9" cy="416.5" r="0.86" fill="#c04080" opacity="0.6"/><circle cx="108.9" cy="412.4" r="0.91" fill="#8a50c0" opacity="0.6"/><circle cx="79.0" cy="425.6" r="1.09" fill="#8a50c0" opacity="0.6"/><circle cx="150.5" cy="404.5" r="0.73" fill="#a040a0" opacity="0.6"/><circle cx="84.1" cy="417.4" r="1.11" fill="#8a50c0" opacity="0.6"/><circle cx="187.5" cy="416.4" r="1.13" fill="#a040a0" opacity="0.6"/><circle cx="179.1" cy="409.6" r="0.65" fill="#8a50c0" opacity="0.6"/><circle cx="127.0" cy="405.7" r="0.91" fill="#a040a0" opacity="0.6"/><circle cx="143.4" cy="408.9" r="0.92" fill="#c04080" opacity="0.6"/><circle cx="37.9" cy="421.4" r="1.11" fill="#a040a0" opacity="0.6"/><circle cx="155.8" cy="420.1" r="0.90" fill="#8a50c0" opacity="0.6"/><circle cx="106.6" cy="409.9" r="0.92" fill="#c04080" opacity="0.6"/><circle cx="179.7" cy="418.9" r="0.80" fill="#a040a0" opacity="0.6"/><circle cx="64.8" cy="413.1" r="1.06" fill="#c04080" opacity="0.6"/><circle cx="126.5" cy="413.1" r="1.10" fill="#c04080" opacity="0.6"/><circle cx="170.3" cy="419.1" r="0.81" fill="#8a50c0" opacity="0.6"/><circle cx="156.1" cy="412.1" r="1.15" fill="#a040a0" opacity="0.6"/><circle cx="53.1" cy="406.0" r="0.89" fill="#c04080" opacity="0.6"/><circle cx="110.2" cy="423.9" r="0.97" fill="#c04080" opacity="0.6"/><circle cx="133.2" cy="425.0" r="0.76" fill="#8a50c0" opacity="0.6"/><circle cx="50.7" cy="404.4" r="0.70" fill="#a040a0" opacity="0.6"/><circle cx="126.9" cy="413.1" r="1.17" fill="#c04080" opacity="0.6"/><circle cx="85.9" cy="422.2" r="0.86" fill="#c04080" opacity="0.6"/><circle cx="108.8" cy="411.8" r="1.12" fill="#c04080" opacity="0.6"/><circle cx="45.4" cy="419.4" r="0.79" fill="#a040a0" opacity="0.6"/><circle cx="168.3" cy="421.8" r="0.75" fill="#a040a0" opacity="0.6"/><circle cx="61.7" cy="425.3" r="1.15" fill="#a040a0" opacity="0.6"/><circle cx="120.8" cy="405.1" r="1.11" fill="#8a50c0" opacity="0.6"/><circle cx="70.9" cy="407.8" r="0.63" fill="#c04080" opacity="0.6"/><circle cx="172.8" cy="411.8" r="1.12" fill="#a040a0" opacity="0.6"/><circle cx="44.8" cy="424.9" r="0.97" fill="#a040a0" opacity="0.6"/><circle cx="138.7" cy="406.1" r="0.78" fill="#c04080" opacity="0.6"/><circle cx="56.9" cy="406.2" r="0.76" fill="#c04080" opacity="0.6"/><circle cx="164.0" cy="409.4" r="1.09" fill="#8a50c0" opacity="0.6"/><circle cx="78.4" cy="416.0" r="0.92" fill="#8a50c0" opacity="0.6"/><circle cx="147.4" cy="424.9" r="0.89" fill="#c04080" opacity="0.6"/><circle cx="187.9" cy="406.7" r="0.73" fill="#8a50c0" opacity="0.6"/><circle cx="189.4" cy="415.2" r="0.85" fill="#8a50c0" opacity="0.6"/><circle cx="45.4" cy="406.7" r="1.11" fill="#c04080" opacity="0.6"/><circle cx="173.0" cy="412.6" r="0.70" fill="#a040a0" opacity="0.6"/><circle cx="149.1" cy="424.7" r="1.20" fill="#a040a0" opacity="0.6"/><circle cx="74.9" cy="414.4" r="1.08" fill="#8a50c0" opacity="0.6"/><circle cx="130.7" cy="414.5" r="1.17" fill="#a040a0" opacity="0.6"/><circle cx="39.9" cy="410.2" r="0.96" fill="#a040a0" opacity="0.6"/><circle cx="136.5" cy="421.6" r="0.68" fill="#c04080" opacity="0.6"/><circle cx="84.4" cy="407.2" r="0.91" fill="#8a50c0" opacity="0.6"/><circle cx="134.8" cy="407.5" r="0.89" fill="#c04080" opacity="0.6"/><circle cx="177.7" cy="422.4" r="1.08" fill="#c04080" opacity="0.6"/><circle cx="70.9" cy="411.6" r="0.87" fill="#a040a0" opacity="0.6"/><circle cx="108.1" cy="413.7" r="0.77" fill="#a040a0" opacity="0.6"/><circle cx="103.9" cy="423.1" r="1.05" fill="#8a50c0" opacity="0.6"/><circle cx="173.2" cy="424.3" r="0.78" fill="#8a50c0" opacity="0.6"/><circle cx="122.4" cy="425.7" r="0.90" fill="#c04080" opacity="0.6"/><circle cx="60.1" cy="416.5" r="0.82" fill="#a040a0" opacity="0.6"/><circle cx="190.1" cy="420.6" r="1.09" fill="#8a50c0" opacity="0.6"/><circle cx="151.2" cy="422.8" r="0.90" fill="#8a50c0" opacity="0.6"/><circle cx="159.8" cy="424.8" r="0.94" fill="#a040a0" opacity="0.6"/><circle cx="100.3" cy="407.2" r="1.03" fill="#8a50c0" opacity="0.6"/><circle cx="58.8" cy="415.2" r="0.85" fill="#c04080" opacity="0.6"/><circle cx="58.8" cy="422.2" r="0.64" fill="#c04080" opacity="0.6"/><circle cx="106.0" cy="419.0" r="1.15" fill="#8a50c0" opacity="0.6"/><circle cx="132.1" cy="424.8" r="0.98" fill="#c04080" opacity="0.6"/><circle cx="45.1" cy="408.4" r="0.66" fill="#8a50c0" opacity="0.6"/><circle cx="152.7" cy="407.0" r="0.76" fill="#a040a0" opacity="0.6"/><circle cx="44.8" cy="416.3" r="1.11" fill="#8a50c0" opacity="0.6"/><circle cx="116.3" cy="414.3" r="0.61" fill="#a040a0" opacity="0.6"/><circle cx="42.1" cy="421.8" r="0.69" fill="#8a50c0" opacity="0.6"/><circle cx="40.1" cy="416.7" r="0.71" fill="#a040a0" opacity="0.6"/><circle cx="68.4" cy="425.5" r="0.77" fill="#c04080" opacity="0.6"/><circle cx="130.8" cy="410.4" r="0.75" fill="#a040a0" opacity="0.6"/><circle cx="171.2" cy="418.9" r="0.81" fill="#c04080" opacity="0.6"/><circle cx="184.2" cy="416.8" r="1.08" fill="#8a50c0" opacity="0.6"/><circle cx="43.4" cy="420.1" r="0.95" fill="#a040a0" opacity="0.6"/><circle cx="75.7" cy="405.5" r="1.07" fill="#a040a0" opacity="0.6"/><circle cx="59.5" cy="420.6" r="0.71" fill="#8a50c0" opacity="0.6"/><circle cx="173.6" cy="404.0" r="1.10" fill="#c04080" opacity="0.6"/><circle cx="188.2" cy="417.3" r="0.97" fill="#a040a0" opacity="0.6"/><circle cx="127.1" cy="411.1" r="0.96" fill="#8a50c0" opacity="0.6"/><circle cx="81.3" cy="425.8" r="1.12" fill="#8a50c0" opacity="0.6"/><circle cx="148.3" cy="409.0" r="0.75" fill="#a040a0" opacity="0.6"/><circle cx="55.7" cy="407.0" r="0.78" fill="#c04080" opacity="0.6"/><circle cx="174.4" cy="422.0" r="1.01" fill="#a040a0" opacity="0.6"/><circle cx="123.3" cy="416.2" r="0.78" fill="#a040a0" opacity="0.6"/><circle cx="126.0" cy="410.9" r="1.17" fill="#a040a0" opacity="0.6"/><circle cx="82.7" cy="416.6" r="1.16" fill="#c04080" opacity="0.6"/><circle cx="110.0" cy="425.0" r="0.65" fill="#c04080" opacity="0.6"/><circle cx="72.7" cy="410.1" r="0.60" fill="#a040a0" opacity="0.6"/><circle cx="139.2" cy="407.9" r="0.70" fill="#c04080" opacity="0.6"/><circle cx="136.3" cy="417.2" r="1.07" fill="#c04080" opacity="0.6"/><circle cx="110.0" cy="407.1" r="0.88" fill="#c04080" opacity="0.6"/><circle cx="143.4" cy="408.7" r="0.66" fill="#c04080" opacity="0.6"/><circle cx="180.8" cy="410.6" r="0.93" fill="#8a50c0" opacity="0.6"/><circle cx="155.6" cy="410.3" r="1.06" fill="#8a50c0" opacity="0.6"/><circle cx="113.4" cy="423.6" r="0.71" fill="#c04080" opacity="0.6"/><circle cx="184.1" cy="425.6" r="0.91" fill="#8a50c0" opacity="0.6"/><circle cx="89.7" cy="407.4" r="0.65" fill="#8a50c0" opacity="0.6"/><circle cx="40.4" cy="417.0" r="1.11" fill="#c04080" opacity="0.6"/><circle cx="73.0" cy="420.9" r="0.89" fill="#c04080" opacity="0.6"/><circle cx="166.3" cy="418.8" r="1.00" fill="#8a50c0" opacity="0.6"/><circle cx="123.7" cy="406.0" r="0.93" fill="#c04080" opacity="0.6"/><circle cx="45.4" cy="414.6" r="0.89" fill="#c04080" opacity="0.6"/><circle cx="63.2" cy="415.3" r="0.78" fill="#8a50c0" opacity="0.6"/><circle cx="41.9" cy="407.4" r="0.71" fill="#c04080" opacity="0.6"/><circle cx="124.7" cy="408.9" r="0.65" fill="#8a50c0" opacity="0.6"/><circle cx="169.5" cy="404.1" r="1.15" fill="#a040a0" opacity="0.6"/><circle cx="106.5" cy="418.0" r="1.18" fill="#8a50c0" opacity="0.6"/><circle cx="169.0" cy="412.1" r="1.12" fill="#8a50c0" opacity="0.6"/><rect x="37.7" y="349.7" width="153.5" height="75.90000000000003" fill="#000" filter="url(#grain)" opacity="0.22"/></g><line x1="40.4" y1="413.9" x2="59.3" y2="413.9" stroke="#fff" stroke-width="0.9"/><text x="49.849999999999994" y="412.7" font-size="7" text-anchor="middle" fill="#fff">50 um</text><clipPath id="gg1"><rect x="578.2" y="267.2" width="153.0999999999999" height="75.60000000000002"/></clipPath><g clip-path="url(#gg1)"><rect x="578.2" y="267.2" width="153.0999999999999" height="75.60000000000002" fill="#161d3e"/><path d="M560.0,318.0 L578.0,313.0 L600.0,300.0 L640.0,284.0 L670.0,272.0 L700.0,262.0 L740.0,262.0 L740.0,301.0 L731.0,302.8 L706.8,307.2 L685.0,311.5 L648.7,323.1 L612.3,342.8 L560.0,350.0 Z" fill="#1a32a0" filter="url(#blur1)"/><path d="M560.0,260.0 L700.0,260.0 L660.0,275.0 L620.0,290.0 L578.0,305.0 L560.0,310.0 Z" fill="#182050" filter="url(#blur1)" opacity="0.6"/><circle cx="595.7" cy="308.0" r="1.09" fill="#3050c8" opacity="0.7"/><circle cx="578.7" cy="309.9" r="0.79" fill="#3050c8" opacity="0.7"/><circle cx="724.4" cy="312.5" r="0.80" fill="#2040a0" opacity="0.7"/><circle cx="657.0" cy="311.8" r="0.89" fill="#2a50d0" opacity="0.7"/><circle cx="622.3" cy="279.3" r="0.73" fill="#2a50d0" opacity="0.7"/><circle cx="613.5" cy="293.7" r="0.88" fill="#2040a0" opacity="0.7"/><circle cx="675.9" cy="315.2" r="0.74" fill="#2a50d0" opacity="0.7"/><circle cx="727.8" cy="308.5" r="0.82" fill="#2040a0" opacity="0.7"/><circle cx="644.7" cy="341.8" r="1.01" fill="#3050c8" opacity="0.7"/><circle cx="617.4" cy="332.2" r="0.83" fill="#2040a0" opacity="0.7"/><circle cx="731.1" cy="297.0" r="0.95" fill="#3050c8" opacity="0.7"/><circle cx="658.3" cy="308.6" r="1.17" fill="#2a50d0" opacity="0.7"/><circle cx="691.9" cy="274.2" r="0.61" fill="#2a48c0" opacity="0.7"/><circle cx="586.3" cy="329.1" r="1.18" fill="#2040a0" opacity="0.7"/><circle cx="699.0" cy="337.3" r="1.11" fill="#2a48c0" opacity="0.7"/><circle cx="581.2" cy="279.7" r="1.01" fill="#2a48c0" opacity="0.7"/><circle cx="638.1" cy="303.0" r="0.95" fill="#2a50d0" opacity="0.7"/><circle cx="717.6" cy="318.1" r="0.89" fill="#2a50d0" opacity="0.7"/><circle cx="633.5" cy="321.7" r="1.15" fill="#3050c8" opacity="0.7"/><circle cx="652.1" cy="282.3" r="1.05" fill="#3050c8" opacity="0.7"/><circle cx="652.6" cy="284.8" r="0.65" fill="#2a48c0" opacity="0.7"/><circle cx="615.2" cy="281.4" r="1.01" fill="#3050c8" opacity="0.7"/><circle cx="613.0" cy="319.3" r="1.05" fill="#2040a0" opacity="0.7"/><circle cx="730.6" cy="292.4" r="0.87" fill="#3050c8" opacity="0.7"/><circle cx="656.2" cy="280.6" r="1.05" fill="#2a48c0" opacity="0.7"/><circle cx="729.9" cy="331.9" r="0.65" fill="#2a48c0" opacity="0.7"/><circle cx="661.3" cy="282.0" r="1.08" fill="#2040a0" opacity="0.7"/><circle cx="668.4" cy="292.0" r="1.01" fill="#3050c8" opacity="0.7"/><circle cx="730.5" cy="314.2" r="1.03" fill="#3050c8" opacity="0.7"/><circle cx="608.6" cy="323.9" r="1.07" fill="#3050c8" opacity="0.7"/><circle cx="616.2" cy="326.2" r="1.12" fill="#2a48c0" opacity="0.7"/><circle cx="590.8" cy="284.0" r="0.77" fill="#2040a0" opacity="0.7"/><circle cx="722.6" cy="300.0" r="0.76" fill="#3050c8" opacity="0.7"/><circle cx="579.7" cy="341.5" r="0.67" fill="#2040a0" opacity="0.7"/><circle cx="679.0" cy="336.9" r="0.79" fill="#3050c8" opacity="0.7"/><circle cx="658.6" cy="294.1" r="0.73" fill="#3050c8" opacity="0.7"/><circle cx="632.4" cy="327.0" r="0.91" fill="#2040a0" opacity="0.7"/><circle cx="600.7" cy="322.6" r="1.13" fill="#2040a0" opacity="0.7"/><circle cx="580.9" cy="291.3" r="1.03" fill="#3050c8" opacity="0.7"/><circle cx="661.1" cy="306.5" r="0.93" fill="#2040a0" opacity="0.7"/><circle cx="594.3" cy="304.4" r="1.05" fill="#2040a0" opacity="0.7"/><circle cx="643.9" cy="312.2" r="1.04" fill="#2a48c0" opacity="0.7"/><circle cx="602.1" cy="314.8" r="0.84" fill="#2a48c0" opacity="0.7"/><circle cx="707.7" cy="323.9" r="1.14" fill="#2a50d0" opacity="0.7"/><circle cx="725.9" cy="295.0" r="1.06" fill="#2a48c0" opacity="0.7"/><circle cx="654.1" cy="280.1" r="0.64" fill="#3050c8" opacity="0.7"/><circle cx="613.9" cy="326.1" r="0.88" fill="#2a50d0" opacity="0.7"/><circle cx="580.9" cy="310.3" r="0.92" fill="#2a50d0" opacity="0.7"/><circle cx="606.5" cy="272.3" r="0.77" fill="#2a50d0" opacity="0.7"/><circle cx="698.9" cy="304.6" r="0.98" fill="#3050c8" opacity="0.7"/><circle cx="664.5" cy="316.0" r="0.88" fill="#3050c8" opacity="0.7"/><circle cx="705.2" cy="294.9" r="1.19" fill="#2a50d0" opacity="0.7"/><circle cx="704.9" cy="325.6" r="0.95" fill="#2a50d0" opacity="0.7"/><circle cx="588.8" cy="288.9" r="0.93" fill="#2a50d0" opacity="0.7"/><circle cx="671.2" cy="299.7" r="0.70" fill="#2a50d0" opacity="0.7"/><circle cx="716.3" cy="267.7" r="0.79" fill="#2a50d0" opacity="0.7"/><circle cx="626.2" cy="301.1" r="0.94" fill="#3050c8" opacity="0.7"/><circle cx="715.9" cy="268.8" r="0.87" fill="#3050c8" opacity="0.7"/><circle cx="646.6" cy="316.4" r="0.72" fill="#2040a0" opacity="0.7"/><circle cx="619.3" cy="284.8" r="0.82" fill="#3050c8" opacity="0.7"/><circle cx="579.8" cy="288.2" r="0.92" fill="#3050c8" opacity="0.7"/><circle cx="698.5" cy="272.9" r="1.07" fill="#2a48c0" opacity="0.7"/><circle cx="621.0" cy="268.7" r="0.64" fill="#2a50d0" opacity="0.7"/><circle cx="623.9" cy="338.2" r="1.14" fill="#2a50d0" opacity="0.7"/><circle cx="716.5" cy="324.3" r="0.90" fill="#2a50d0" opacity="0.7"/><circle cx="703.3" cy="289.1" r="0.87" fill="#2a50d0" opacity="0.7"/><circle cx="695.6" cy="341.6" r="0.89" fill="#3050c8" opacity="0.7"/><circle cx="636.3" cy="272.4" r="0.91" fill="#2a50d0" opacity="0.7"/><circle cx="692.9" cy="272.0" r="1.01" fill="#2040a0" opacity="0.7"/><circle cx="585.3" cy="338.6" r="0.74" fill="#3050c8" opacity="0.7"/><circle cx="711.2" cy="306.4" r="1.11" fill="#2a50d0" opacity="0.7"/><circle cx="662.6" cy="286.5" r="0.75" fill="#3050c8" opacity="0.7"/><circle cx="584.8" cy="308.9" r="0.69" fill="#3050c8" opacity="0.7"/><circle cx="616.9" cy="276.2" r="0.98" fill="#2a48c0" opacity="0.7"/><circle cx="647.8" cy="320.3" r="0.97" fill="#2a50d0" opacity="0.7"/><circle cx="679.0" cy="288.8" r="1.05" fill="#2040a0" opacity="0.7"/><circle cx="686.7" cy="282.0" r="1.01" fill="#3050c8" opacity="0.7"/><circle cx="605.5" cy="322.5" r="0.78" fill="#2a50d0" opacity="0.7"/><circle cx="634.6" cy="285.8" r="0.82" fill="#2040a0" opacity="0.7"/><circle cx="602.8" cy="297.5" r="0.77" fill="#2a48c0" opacity="0.7"/><circle cx="698.4" cy="287.1" r="0.86" fill="#2a50d0" opacity="0.7"/><circle cx="727.4" cy="333.7" r="1.10" fill="#3050c8" opacity="0.7"/><circle cx="718.1" cy="337.5" r="0.70" fill="#3050c8" opacity="0.7"/><circle cx="648.4" cy="269.3" r="0.84" fill="#2040a0" opacity="0.7"/><circle cx="633.2" cy="340.5" r="0.64" fill="#3050c8" opacity="0.7"/><circle cx="642.9" cy="303.9" r="0.98" fill="#2a48c0" opacity="0.7"/><circle cx="600.8" cy="317.6" r="1.01" fill="#2a50d0" opacity="0.7"/><circle cx="602.0" cy="310.8" r="0.75" fill="#3050c8" opacity="0.7"/><circle cx="659.0" cy="331.6" r="0.81" fill="#2040a0" opacity="0.7"/><circle cx="615.4" cy="307.7" r="1.09" fill="#2a48c0" opacity="0.7"/><circle cx="675.1" cy="326.2" r="0.97" fill="#2a48c0" opacity="0.7"/><circle cx="674.2" cy="295.7" r="0.71" fill="#2a50d0" opacity="0.7"/><circle cx="622.1" cy="275.8" r="1.01" fill="#2a48c0" opacity="0.7"/><circle cx="693.8" cy="336.6" r="1.15" fill="#2a48c0" opacity="0.7"/><circle cx="652.4" cy="307.5" r="0.70" fill="#3050c8" opacity="0.7"/><circle cx="645.0" cy="306.1" r="0.82" fill="#2040a0" opacity="0.7"/><circle cx="582.4" cy="329.3" r="0.72" fill="#3050c8" opacity="0.7"/><circle cx="725.6" cy="316.7" r="1.03" fill="#2a50d0" opacity="0.7"/><circle cx="647.9" cy="331.2" r="1.20" fill="#2040a0" opacity="0.7"/><circle cx="661.5" cy="322.6" r="0.89" fill="#2a50d0" opacity="0.7"/><circle cx="604.5" cy="315.7" r="1.20" fill="#3050c8" opacity="0.7"/><circle cx="659.7" cy="267.8" r="1.08" fill="#2a48c0" opacity="0.7"/><circle cx="638.0" cy="291.6" r="1.07" fill="#2a50d0" opacity="0.7"/><circle cx="657.9" cy="289.2" r="0.88" fill="#3050c8" opacity="0.7"/><circle cx="634.2" cy="320.2" r="1.18" fill="#3050c8" opacity="0.7"/><circle cx="712.7" cy="308.3" r="0.92" fill="#2a48c0" opacity="0.7"/><circle cx="682.5" cy="275.1" r="1.08" fill="#3050c8" opacity="0.7"/><circle cx="674.3" cy="274.6" r="0.87" fill="#2040a0" opacity="0.7"/><circle cx="681.6" cy="329.5" r="0.86" fill="#3050c8" opacity="0.7"/><circle cx="658.7" cy="271.4" r="1.04" fill="#2a50d0" opacity="0.7"/><circle cx="673.7" cy="340.9" r="1.04" fill="#2040a0" opacity="0.7"/><circle cx="696.2" cy="340.4" r="0.83" fill="#3050c8" opacity="0.7"/><circle cx="693.8" cy="301.2" r="0.70" fill="#3050c8" opacity="0.7"/><circle cx="715.9" cy="320.2" r="1.12" fill="#2a50d0" opacity="0.7"/><circle cx="655.8" cy="319.5" r="1.13" fill="#2a48c0" opacity="0.7"/><circle cx="585.1" cy="328.4" r="0.77" fill="#3050c8" opacity="0.7"/><circle cx="585.6" cy="334.9" r="0.72" fill="#2040a0" opacity="0.7"/><circle cx="699.9" cy="306.2" r="1.11" fill="#2a48c0" opacity="0.7"/><circle cx="686.9" cy="296.7" r="0.88" fill="#2a50d0" opacity="0.7"/><circle cx="594.8" cy="332.5" r="0.88" fill="#2a50d0" opacity="0.7"/><circle cx="603.6" cy="287.4" r="1.12" fill="#2a50d0" opacity="0.7"/><circle cx="626.7" cy="335.5" r="1.00" fill="#2a48c0" opacity="0.7"/><circle cx="616.7" cy="339.1" r="1.16" fill="#3050c8" opacity="0.7"/><circle cx="600.1" cy="276.2" r="1.18" fill="#3050c8" opacity="0.7"/><circle cx="685.3" cy="328.2" r="0.77" fill="#2a48c0" opacity="0.7"/><circle cx="591.3" cy="319.0" r="0.67" fill="#2a48c0" opacity="0.7"/><circle cx="692.2" cy="280.5" r="0.98" fill="#2a50d0" opacity="0.7"/><circle cx="589.7" cy="294.8" r="0.98" fill="#2a48c0" opacity="0.7"/><circle cx="636.6" cy="276.5" r="0.75" fill="#2a50d0" opacity="0.7"/><circle cx="695.9" cy="332.5" r="1.02" fill="#3050c8" opacity="0.7"/><circle cx="609.9" cy="324.0" r="1.10" fill="#2a48c0" opacity="0.7"/><circle cx="721.7" cy="341.2" r="1.04" fill="#2a48c0" opacity="0.7"/><circle cx="635.7" cy="284.1" r="0.76" fill="#3050c8" opacity="0.7"/><circle cx="589.9" cy="331.8" r="1.15" fill="#2040a0" opacity="0.7"/><circle cx="664.9" cy="273.6" r="0.90" fill="#3050c8" opacity="0.7"/><circle cx="727.7" cy="302.1" r="0.71" fill="#3050c8" opacity="0.7"/><circle cx="727.8" cy="292.5" r="1.16" fill="#3050c8" opacity="0.7"/><circle cx="619.8" cy="335.0" r="1.06" fill="#2040a0" opacity="0.7"/><circle cx="623.7" cy="302.2" r="0.70" fill="#2a50d0" opacity="0.7"/><circle cx="680.3" cy="300.3" r="1.11" fill="#2a50d0" opacity="0.7"/><circle cx="726.9" cy="336.4" r="0.93" fill="#2040a0" opacity="0.7"/><circle cx="627.3" cy="271.4" r="1.07" fill="#2a50d0" opacity="0.7"/><circle cx="587.9" cy="288.5" r="0.61" fill="#3050c8" opacity="0.7"/><circle cx="651.3" cy="332.3" r="0.82" fill="#2a48c0" opacity="0.7"/><circle cx="645.0" cy="283.4" r="0.89" fill="#2a48c0" opacity="0.7"/><circle cx="645.4" cy="273.8" r="0.73" fill="#2a50d0" opacity="0.7"/><circle cx="602.1" cy="303.7" r="0.89" fill="#2040a0" opacity="0.7"/><circle cx="729.9" cy="341.4" r="0.96" fill="#2a50d0" opacity="0.7"/><circle cx="617.8" cy="323.6" r="1.16" fill="#2a50d0" opacity="0.7"/><circle cx="655.6" cy="295.7" r="1.08" fill="#2040a0" opacity="0.7"/><circle cx="633.1" cy="287.4" r="0.68" fill="#2a50d0" opacity="0.7"/><circle cx="605.3" cy="274.3" r="1.06" fill="#3050c8" opacity="0.7"/><circle cx="659.5" cy="331.2" r="0.80" fill="#3050c8" opacity="0.7"/><circle cx="627.3" cy="271.2" r="0.83" fill="#2a48c0" opacity="0.7"/><circle cx="627.7" cy="310.8" r="1.19" fill="#3050c8" opacity="0.7"/><circle cx="636.4" cy="325.8" r="1.11" fill="#3050c8" opacity="0.7"/><circle cx="716.3" cy="289.7" r="0.99" fill="#2a48c0" opacity="0.7"/><circle cx="581.9" cy="336.6" r="0.66" fill="#2040a0" opacity="0.7"/><circle cx="672.7" cy="314.7" r="0.88" fill="#2a48c0" opacity="0.7"/><circle cx="604.2" cy="314.8" r="0.65" fill="#2040a0" opacity="0.7"/><circle cx="697.2" cy="305.5" r="0.98" fill="#2a50d0" opacity="0.7"/><circle cx="664.9" cy="280.1" r="0.95" fill="#2a50d0" opacity="0.7"/><circle cx="638.3" cy="297.4" r="0.84" fill="#2a48c0" opacity="0.7"/><circle cx="596.0" cy="272.6" r="1.15" fill="#3050c8" opacity="0.7"/><circle cx="611.8" cy="312.2" r="0.84" fill="#2a50d0" opacity="0.7"/><circle cx="631.8" cy="277.8" r="0.61" fill="#2040a0" opacity="0.7"/><circle cx="651.6" cy="323.4" r="0.85" fill="#2a48c0" opacity="0.7"/><circle cx="632.2" cy="337.7" r="0.72" fill="#3050c8" opacity="0.7"/><circle cx="648.4" cy="268.3" r="0.64" fill="#2040a0" opacity="0.7"/><circle cx="599.3" cy="305.6" r="0.90" fill="#2a50d0" opacity="0.7"/><circle cx="697.0" cy="296.9" r="0.89" fill="#2a48c0" opacity="0.7"/><circle cx="669.5" cy="278.1" r="0.77" fill="#3050c8" opacity="0.7"/><circle cx="674.3" cy="274.4" r="0.73" fill="#3050c8" opacity="0.7"/><circle cx="641.1" cy="272.7" r="0.71" fill="#3050c8" opacity="0.7"/><circle cx="671.8" cy="303.7" r="0.98" fill="#2040a0" opacity="0.7"/><circle cx="600.1" cy="283.8" r="0.74" fill="#2a50d0" opacity="0.7"/><circle cx="582.4" cy="319.7" r="1.08" fill="#2040a0" opacity="0.7"/><circle cx="709.1" cy="283.3" r="1.01" fill="#2040a0" opacity="0.7"/><circle cx="664.1" cy="305.5" r="0.93" fill="#2040a0" opacity="0.7"/><circle cx="614.0" cy="285.2" r="0.75" fill="#2a48c0" opacity="0.7"/><circle cx="621.8" cy="302.5" r="1.18" fill="#2a50d0" opacity="0.7"/><circle cx="600.6" cy="340.2" r="0.85" fill="#2a48c0" opacity="0.7"/><circle cx="643.6" cy="280.9" r="1.10" fill="#2a48c0" opacity="0.7"/><circle cx="651.7" cy="267.6" r="0.79" fill="#3050c8" opacity="0.7"/><circle cx="690.4" cy="302.6" r="0.90" fill="#2a50d0" opacity="0.7"/><circle cx="700.9" cy="293.9" r="1.07" fill="#2040a0" opacity="0.7"/><circle cx="632.1" cy="323.2" r="1.08" fill="#2040a0" opacity="0.7"/><circle cx="702.8" cy="299.5" r="1.03" fill="#2040a0" opacity="0.7"/><circle cx="616.7" cy="304.8" r="0.96" fill="#2a48c0" opacity="0.7"/><circle cx="717.3" cy="322.1" r="1.04" fill="#3050c8" opacity="0.7"/><circle cx="683.9" cy="336.7" r="0.92" fill="#3050c8" opacity="0.7"/><circle cx="722.3" cy="289.9" r="0.64" fill="#2a50d0" opacity="0.7"/><circle cx="666.6" cy="283.9" r="0.98" fill="#2040a0" opacity="0.7"/><circle cx="578.5" cy="283.0" r="0.90" fill="#3050c8" opacity="0.7"/><circle cx="688.6" cy="293.4" r="1.18" fill="#3050c8" opacity="0.7"/><circle cx="592.3" cy="313.8" r="0.90" fill="#2a50d0" opacity="0.7"/><circle cx="655.8" cy="342.0" r="0.76" fill="#3050c8" opacity="0.7"/><circle cx="708.5" cy="302.9" r="1.19" fill="#2a48c0" opacity="0.7"/><circle cx="583.9" cy="295.7" r="0.96" fill="#2a50d0" opacity="0.7"/><circle cx="715.7" cy="279.5" r="0.95" fill="#2a50d0" opacity="0.7"/><circle cx="715.0" cy="337.0" r="0.64" fill="#2a48c0" opacity="0.7"/><circle cx="586.9" cy="277.0" r="1.05" fill="#2a48c0" opacity="0.7"/><circle cx="623.2" cy="290.4" r="1.07" fill="#2a50d0" opacity="0.7"/><circle cx="727.7" cy="274.3" r="1.04" fill="#2040a0" opacity="0.7"/><circle cx="724.6" cy="322.0" r="0.78" fill="#2040a0" opacity="0.7"/><circle cx="724.1" cy="288.8" r="0.82" fill="#2040a0" opacity="0.7"/><circle cx="587.4" cy="296.4" r="1.09" fill="#3050c8" opacity="0.7"/><circle cx="597.1" cy="306.0" r="0.82" fill="#2040a0" opacity="0.7"/><circle cx="660.1" cy="328.5" r="1.05" fill="#2a48c0" opacity="0.7"/><circle cx="659.7" cy="312.8" r="0.69" fill="#2040a0" opacity="0.7"/><circle cx="717.5" cy="305.6" r="1.08" fill="#2a48c0" opacity="0.7"/><circle cx="721.7" cy="331.8" r="1.20" fill="#2a50d0" opacity="0.7"/><circle cx="583.8" cy="285.3" r="1.00" fill="#2040a0" opacity="0.7"/><circle cx="586.1" cy="282.3" r="1.03" fill="#2040a0" opacity="0.7"/><circle cx="592.2" cy="274.1" r="0.71" fill="#2040a0" opacity="0.7"/><circle cx="720.1" cy="310.6" r="0.61" fill="#2a48c0" opacity="0.7"/><circle cx="588.5" cy="329.2" r="0.91" fill="#2a50d0" opacity="0.7"/><circle cx="685.2" cy="281.4" r="1.17" fill="#2a50d0" opacity="0.7"/><circle cx="599.2" cy="300.3" r="1.20" fill="#2a48c0" opacity="0.7"/><circle cx="724.9" cy="268.3" r="0.99" fill="#2040a0" opacity="0.7"/><circle cx="642.4" cy="310.7" r="0.76" fill="#2a48c0" opacity="0.7"/><circle cx="657.8" cy="271.5" r="1.20" fill="#2a48c0" opacity="0.7"/><circle cx="640.0" cy="273.0" r="0.63" fill="#2a48c0" opacity="0.7"/><circle cx="716.0" cy="306.9" r="0.99" fill="#3050c8" opacity="0.7"/><circle cx="720.1" cy="292.5" r="0.90" fill="#2040a0" opacity="0.7"/><circle cx="614.9" cy="326.7" r="0.73" fill="#2a48c0" opacity="0.7"/><circle cx="607.6" cy="299.0" r="0.97" fill="#3050c8" opacity="0.7"/><circle cx="612.0" cy="283.5" r="1.10" fill="#2040a0" opacity="0.7"/><circle cx="646.6" cy="286.3" r="0.73" fill="#3050c8" opacity="0.7"/><circle cx="594.8" cy="269.3" r="0.72" fill="#2a48c0" opacity="0.7"/><circle cx="666.4" cy="270.3" r="1.11" fill="#2a50d0" opacity="0.7"/><circle cx="682.2" cy="324.6" r="1.01" fill="#2a50d0" opacity="0.7"/><circle cx="714.1" cy="277.2" r="0.60" fill="#2a50d0" opacity="0.7"/><circle cx="665.0" cy="295.9" r="1.10" fill="#2a50d0" opacity="0.7"/><circle cx="709.9" cy="268.5" r="1.16" fill="#2a48c0" opacity="0.7"/><circle cx="606.3" cy="291.9" r="0.81" fill="#2040a0" opacity="0.7"/><circle cx="597.8" cy="333.3" r="0.85" fill="#2a50d0" opacity="0.7"/><circle cx="587.3" cy="313.2" r="0.67" fill="#2040a0" opacity="0.7"/><circle cx="645.5" cy="283.9" r="0.66" fill="#2a50d0" opacity="0.7"/><circle cx="597.4" cy="291.2" r="0.64" fill="#2040a0" opacity="0.7"/><circle cx="725.5" cy="311.1" r="0.92" fill="#2a50d0" opacity="0.7"/><circle cx="640.1" cy="275.5" r="1.12" fill="#2040a0" opacity="0.7"/><circle cx="731.0" cy="329.0" r="0.62" fill="#2a50d0" opacity="0.7"/><circle cx="580.5" cy="274.1" r="0.99" fill="#2a50d0" opacity="0.7"/><circle cx="728.2" cy="319.0" r="1.00" fill="#2040a0" opacity="0.7"/><circle cx="581.7" cy="338.0" r="0.79" fill="#2040a0" opacity="0.7"/><circle cx="692.5" cy="304.9" r="0.92" fill="#2a48c0" opacity="0.7"/><circle cx="718.8" cy="330.3" r="0.97" fill="#3050c8" opacity="0.7"/><circle cx="616.2" cy="336.6" r="1.04" fill="#2040a0" opacity="0.7"/><circle cx="698.7" cy="315.1" r="1.09" fill="#3050c8" opacity="0.7"/><circle cx="651.6" cy="271.9" r="1.06" fill="#2040a0" opacity="0.7"/><circle cx="711.2" cy="334.7" r="0.86" fill="#3050c8" opacity="0.7"/><circle cx="666.7" cy="276.8" r="1.10" fill="#3050c8" opacity="0.7"/><circle cx="629.9" cy="327.7" r="1.19" fill="#3050c8" opacity="0.7"/><circle cx="617.4" cy="323.9" r="1.08" fill="#2a48c0" opacity="0.7"/><circle cx="618.3" cy="342.4" r="1.09" fill="#2040a0" opacity="0.7"/><circle cx="713.4" cy="277.0" r="0.90" fill="#2040a0" opacity="0.7"/><circle cx="646.4" cy="337.9" r="1.01" fill="#3050c8" opacity="0.7"/><circle cx="634.9" cy="294.9" r="1.17" fill="#2a50d0" opacity="0.7"/><circle cx="588.6" cy="310.3" r="0.73" fill="#2040a0" opacity="0.7"/><circle cx="581.4" cy="334.8" r="1.03" fill="#2040a0" opacity="0.7"/><circle cx="629.1" cy="300.3" r="0.67" fill="#2a48c0" opacity="0.7"/><circle cx="645.0" cy="295.9" r="0.98" fill="#2040a0" opacity="0.7"/><circle cx="713.5" cy="281.9" r="0.63" fill="#3050c8" opacity="0.7"/><circle cx="676.7" cy="320.0" r="1.11" fill="#2a50d0" opacity="0.7"/><circle cx="727.6" cy="322.7" r="1.03" fill="#2a48c0" opacity="0.7"/><circle cx="587.6" cy="324.1" r="0.82" fill="#2a50d0" opacity="0.7"/><circle cx="615.5" cy="273.4" r="0.80" fill="#2a50d0" opacity="0.7"/><circle cx="723.4" cy="315.2" r="1.15" fill="#3050c8" opacity="0.7"/><circle cx="646.0" cy="273.2" r="0.97" fill="#2040a0" opacity="0.7"/><circle cx="654.0" cy="305.5" r="0.76" fill="#3050c8" opacity="0.7"/><circle cx="667.2" cy="320.9" r="1.08" fill="#3050c8" opacity="0.7"/><circle cx="626.5" cy="292.3" r="1.03" fill="#3050c8" opacity="0.7"/><circle cx="655.6" cy="333.0" r="0.93" fill="#2040a0" opacity="0.7"/><circle cx="687.6" cy="293.2" r="0.81" fill="#2a50d0" opacity="0.7"/><circle cx="673.5" cy="274.9" r="0.70" fill="#2040a0" opacity="0.7"/><circle cx="636.6" cy="323.7" r="0.83" fill="#2a48c0" opacity="0.7"/><circle cx="728.1" cy="335.8" r="0.93" fill="#2a50d0" opacity="0.7"/><circle cx="729.1" cy="341.6" r="0.64" fill="#2a48c0" opacity="0.7"/><circle cx="673.9" cy="333.9" r="0.95" fill="#2040a0" opacity="0.7"/><circle cx="712.1" cy="331.3" r="0.97" fill="#2040a0" opacity="0.7"/><circle cx="591.2" cy="296.8" r="0.98" fill="#2040a0" opacity="0.7"/><circle cx="630.6" cy="274.1" r="0.64" fill="#2040a0" opacity="0.7"/><circle cx="670.0" cy="338.2" r="0.98" fill="#2040a0" opacity="0.7"/><circle cx="717.7" cy="267.3" r="0.92" fill="#2a50d0" opacity="0.7"/><circle cx="603.4" cy="279.2" r="0.99" fill="#3050c8" opacity="0.7"/><circle cx="682.8" cy="336.8" r="1.08" fill="#2a50d0" opacity="0.7"/><circle cx="623.1" cy="322.4" r="0.62" fill="#2a48c0" opacity="0.7"/><circle cx="633.3" cy="341.6" r="1.17" fill="#3050c8" opacity="0.7"/><circle cx="663.6" cy="321.2" r="0.89" fill="#2a48c0" opacity="0.7"/><circle cx="673.6" cy="296.7" r="1.10" fill="#2040a0" opacity="0.7"/><circle cx="718.5" cy="331.7" r="0.65" fill="#2040a0" opacity="0.7"/><circle cx="596.1" cy="305.5" r="1.04" fill="#2a50d0" opacity="0.7"/><circle cx="609.8" cy="305.8" r="1.08" fill="#2a48c0" opacity="0.7"/><circle cx="701.5" cy="329.9" r="0.67" fill="#3050c8" opacity="0.7"/><circle cx="631.1" cy="303.1" r="0.92" fill="#2a50d0" opacity="0.7"/><circle cx="582.9" cy="267.8" r="1.19" fill="#2a50d0" opacity="0.7"/><circle cx="718.1" cy="277.5" r="0.60" fill="#2a50d0" opacity="0.7"/><circle cx="615.7" cy="323.4" r="0.99" fill="#3050c8" opacity="0.7"/><circle cx="725.8" cy="337.2" r="0.65" fill="#2040a0" opacity="0.7"/><circle cx="663.9" cy="292.2" r="1.18" fill="#2a48c0" opacity="0.7"/><circle cx="694.9" cy="326.7" r="0.85" fill="#2a48c0" opacity="0.7"/><circle cx="665.9" cy="337.5" r="0.62" fill="#2a48c0" opacity="0.7"/><circle cx="646.7" cy="333.1" r="0.89" fill="#2040a0" opacity="0.7"/><circle cx="721.2" cy="324.4" r="1.06" fill="#2a50d0" opacity="0.7"/><circle cx="724.1" cy="334.4" r="1.16" fill="#3050c8" opacity="0.7"/><circle cx="644.3" cy="331.3" r="0.67" fill="#2a48c0" opacity="0.7"/><circle cx="676.2" cy="282.8" r="1.08" fill="#2a50d0" opacity="0.7"/><circle cx="677.7" cy="336.0" r="1.08" fill="#2a48c0" opacity="0.7"/><circle cx="710.3" cy="308.8" r="1.19" fill="#3050c8" opacity="0.7"/><circle cx="711.8" cy="307.3" r="1.11" fill="#2a48c0" opacity="0.7"/><circle cx="705.5" cy="279.1" r="1.17" fill="#2a48c0" opacity="0.7"/><circle cx="692.5" cy="285.8" r="1.11" fill="#2a50d0" opacity="0.7"/><circle cx="694.1" cy="279.6" r="1.20" fill="#2a50d0" opacity="0.7"/><circle cx="635.5" cy="339.4" r="1.14" fill="#3050c8" opacity="0.7"/><circle cx="611.2" cy="330.2" r="0.67" fill="#2a48c0" opacity="0.7"/><circle cx="685.5" cy="308.8" r="0.87" fill="#2a48c0" opacity="0.7"/><circle cx="641.3" cy="284.8" r="0.79" fill="#2a48c0" opacity="0.7"/><circle cx="717.7" cy="269.8" r="0.61" fill="#2a48c0" opacity="0.7"/><circle cx="689.0" cy="339.0" r="0.84" fill="#2040a0" opacity="0.7"/><path d="M650.1,303.2 q0.6,-10.9 5.0,-20.8" stroke="#40b050" stroke-width="0.48" fill="none" opacity="0.49"/><path d="M629.0,269.9 q-4.7,-9.0 -2.5,-22.6" stroke="#40b050" stroke-width="0.48" fill="none" opacity="0.49"/><path d="M590.7,292.0 q-3.8,-9.3 3.2,-24.1" stroke="#40b050" stroke-width="0.48" fill="none" opacity="0.49"/><path d="M623.1,284.4 q1.4,-8.6 2.0,-25.4" stroke="#40b050" stroke-width="0.48" fill="none" opacity="0.49"/><path d="M606.7,285.8 q-1.8,-13.9 -0.4,-16.8" stroke="#40b050" stroke-width="0.48" fill="none" opacity="0.49"/><path d="M621.0,284.7 q-4.8,-9.2 5.9,-24.5" stroke="#40b050" stroke-width="0.48" fill="none" opacity="0.49"/><path d="M630.7,285.4 q4.0,-9.0 -1.8,-26.3" stroke="#40b050" stroke-width="0.48" fill="none" opacity="0.49"/><path d="M640.1,303.4 q3.4,-13.1 5.4,-28.0" stroke="#40b050" stroke-width="0.48" fill="none" opacity="0.49"/><path d="M601.0,288.8 q0.8,-13.4 4.6,-16.4" stroke="#40b050" stroke-width="0.48" fill="none" opacity="0.49"/><path d="M640.1,305.7 q-2.4,-9.8 6.2,-19.3" stroke="#40b050" stroke-width="0.48" fill="none" opacity="0.49"/><path d="M596.4,278.8 q-0.4,-10.7 -0.2,-16.4" stroke="#40b050" stroke-width="0.48" fill="none" opacity="0.49"/><path d="M663.0,283.2 q-1.6,-8.5 -2.6,-26.0" stroke="#40b050" stroke-width="0.48" fill="none" opacity="0.49"/><path d="M648.5,302.8 q3.3,-13.6 0.1,-19.5" stroke="#40b050" stroke-width="0.48" fill="none" opacity="0.49"/><path d="M578.2,275.4 q0.4,-13.0 -6.0,-26.3" stroke="#40b050" stroke-width="0.48" fill="none" opacity="0.49"/><path d="M637.1,292.9 q1.6,-10.1 -5.8,-24.3" stroke="#40b050" stroke-width="0.48" fill="none" opacity="0.49"/><path d="M628.5,295.4 q-0.9,-8.0 -8.0,-23.5" stroke="#40b050" stroke-width="0.48" fill="none" opacity="0.49"/><path d="M633.8,290.2 q-2.2,-11.0 0.8,-17.8" stroke="#40b050" stroke-width="0.48" fill="none" opacity="0.49"/><path d="M679.5,285.7 q2.6,-8.1 0.8,-24.8" stroke="#40b050" stroke-width="0.48" fill="none" opacity="0.49"/><path d="M648.7,293.7 q4.9,-10.1 -1.3,-26.0" stroke="#40b050" stroke-width="0.48" fill="none" opacity="0.49"/><path d="M581.1,291.7 q-1.1,-13.6 2.8,-28.8" stroke="#40b050" stroke-width="0.48" fill="none" opacity="0.49"/><path d="M586.5,280.3 q-1.9,-9.1 7.8,-28.9" stroke="#40b050" stroke-width="0.48" fill="none" opacity="0.49"/><path d="M612.8,290.0 q-1.5,-12.6 4.0,-26.8" stroke="#40b050" stroke-width="0.48" fill="none" opacity="0.49"/><path d="M673.1,287.1 q0.6,-9.5 -1.4,-29.6" stroke="#40b050" stroke-width="0.48" fill="none" opacity="0.49"/><path d="M637.0,283.2 q-2.0,-9.5 -0.9,-17.0" stroke="#40b050" stroke-width="0.48" fill="none" opacity="0.49"/><path d="M663.4,271.1 q0.3,-12.4 -1.3,-17.4" stroke="#40b050" stroke-width="0.48" fill="none" opacity="0.49"/><path d="M638.9,299.1 q-3.5,-10.7 4.2,-21.2" stroke="#40b050" stroke-width="0.48" fill="none" opacity="0.49"/><path d="M582.5,288.6 q-3.3,-10.4 4.5,-17.2" stroke="#40b050" stroke-width="0.48" fill="none" opacity="0.49"/><path d="M579.2,291.9 q-4.6,-12.4 2.4,-23.3" stroke="#40b050" stroke-width="0.48" fill="none" opacity="0.49"/><path d="M655.0,294.3 q-0.6,-9.7 -6.7,-27.1" stroke="#c03050" stroke-width="0.40" fill="none" opacity="0.42"/><path d="M607.4,305.4 q-3.2,-10.8 7.0,-21.3" stroke="#c03050" stroke-width="0.40" fill="none" opacity="0.42"/><path d="M641.4,287.3 q-2.0,-9.6 -0.2,-17.0" stroke="#c03050" stroke-width="0.40" fill="none" opacity="0.42"/><path d="M583.9,270.5 q3.1,-11.7 0.8,-29.7" stroke="#c03050" stroke-width="0.40" fill="none" opacity="0.42"/><path d="M633.5,275.4 q-1.5,-12.8 0.8,-18.2" stroke="#c03050" stroke-width="0.40" fill="none" opacity="0.42"/><path d="M629.8,300.1 q1.7,-9.6 -7.3,-25.2" stroke="#c03050" stroke-width="0.40" fill="none" opacity="0.42"/><path d="M611.3,295.7 q0.7,-8.3 -4.1,-19.2" stroke="#c03050" stroke-width="0.40" fill="none" opacity="0.42"/><path d="M669.9,292.6 q2.6,-13.1 -0.2,-21.4" stroke="#c03050" stroke-width="0.40" fill="none" opacity="0.42"/><path d="M602.4,281.3 q-3.2,-12.4 5.5,-18.8" stroke="#c03050" stroke-width="0.40" fill="none" opacity="0.42"/><path d="M579.6,302.3 q-4.5,-10.1 -6.1,-28.9" stroke="#c03050" stroke-width="0.40" fill="none" opacity="0.42"/><path d="M594.0,272.2 q-3.9,-11.9 7.1,-21.4" stroke="#c03050" stroke-width="0.40" fill="none" opacity="0.42"/><path d="M669.3,303.6 q-3.3,-12.0 1.4,-29.6" stroke="#c03050" stroke-width="0.40" fill="none" opacity="0.42"/><path d="M645.3,342.0 q-6.9,-2.9 15.0,0.7" stroke="#30a040" stroke-width="0.6" fill="none" opacity="0.7"/><path d="M683.6,339.8 q5.3,4.4 -15.1,-1.8" stroke="#30a040" stroke-width="0.6" fill="none" opacity="0.7"/><path d="M692.8,325.6 q-3.2,-1.2 0.5,2.9" stroke="#30a040" stroke-width="0.6" fill="none" opacity="0.7"/><path d="M658.0,312.9 q4.2,-2.2 -11.2,-3.0" stroke="#30a040" stroke-width="0.6" fill="none" opacity="0.7"/><path d="M702.4,333.8 q-2.2,-0.5 -15.6,3.2" stroke="#30a040" stroke-width="0.6" fill="none" opacity="0.7"/><path d="M661.7,328.3 q-3.7,4.4 14.3,3.3" stroke="#30a040" stroke-width="0.6" fill="none" opacity="0.7"/><path d="M678.1,315.1 q3.9,-2.9 7.7,-1.4" stroke="#30a040" stroke-width="0.6" fill="none" opacity="0.7"/><path d="M681.6,333.7 q6.5,-2.3 -12.2,0.3" stroke="#30a040" stroke-width="0.6" fill="none" opacity="0.7"/><path d="M707.2,321.7 q-1.8,2.5 13.7,0.5" stroke="#30a040" stroke-width="0.6" fill="none" opacity="0.7"/><path d="M682.8,325.7 q-5.9,-0.3 -11.5,-1.2" stroke="#30a040" stroke-width="0.6" fill="none" opacity="0.7"/><path d="M694.5,313.7 q-2.1,4.5 -13.8,0.9" stroke="#30a040" stroke-width="0.6" fill="none" opacity="0.7"/><path d="M671.5,314.6 q5.8,2.3 -6.5,1.2" stroke="#30a040" stroke-width="0.6" fill="none" opacity="0.7"/><path d="M690.0,331.7 q-0.1,2.3 5.7,-0.2" stroke="#30a040" stroke-width="0.6" fill="none" opacity="0.7"/><path d="M665.2,337.5 q2.2,-2.3 8.1,4.0" stroke="#30a040" stroke-width="0.6" fill="none" opacity="0.7"/><path d="M700.1,317.5 q1.7,-4.9 10.5,-2.9" stroke="#30a040" stroke-width="0.6" fill="none" opacity="0.7"/><path d="M706.0,339.3 q-4.5,-2.2 7.2,-2.0" stroke="#30a040" stroke-width="0.6" fill="none" opacity="0.7"/><path d="M709.0,326.7 q3.6,2.5 11.1,-1.3" stroke="#30a040" stroke-width="0.6" fill="none" opacity="0.7"/><path d="M719.7,327.4 q-6.4,2.8 4.9,1.4" stroke="#30a040" stroke-width="0.6" fill="none" opacity="0.7"/><path d="M654.1,340.8 q-7.9,-0.6 -12.2,-1.3" stroke="#30a040" stroke-width="0.6" fill="none" opacity="0.7"/><path d="M716.7,318.4 q-1.1,3.8 11.8,-1.3" stroke="#30a040" stroke-width="0.6" fill="none" opacity="0.7"/><path d="M690.1,313.5 q3.0,2.9 -0.4,-3.9" stroke="#30a040" stroke-width="0.6" fill="none" opacity="0.7"/><path d="M718.9,338.9 q4.2,-2.4 5.6,2.4" stroke="#30a040" stroke-width="0.6" fill="none" opacity="0.7"/><path d="M674.6,329.8 q-3.2,3.6 4.6,2.1" stroke="#30a040" stroke-width="0.6" fill="none" opacity="0.7"/><path d="M666.0,313.0 q-0.3,0.3 -8.5,2.5" stroke="#30a040" stroke-width="0.6" fill="none" opacity="0.7"/><path d="M656.6,319.0 q4.5,2.8 0.4,-3.0" stroke="#30a040" stroke-width="0.6" fill="none" opacity="0.7"/><ellipse cx="608.7" cy="304.2" rx="1.9" ry="2.5" fill="#e02858"/><ellipse cx="615.0" cy="309.3" rx="1.9" ry="2.5" fill="#e02858"/><ellipse cx="593.4" cy="318.8" rx="1.9" ry="2.5" fill="#e02858"/><ellipse cx="599.3" cy="315.9" rx="1.9" ry="2.5" fill="#e02858"/><ellipse cx="609.1" cy="322.4" rx="1.9" ry="2.5" fill="#e02858"/><ellipse cx="626.2" cy="325.3" rx="1.9" ry="2.5" fill="#e02858"/><ellipse cx="642.1" cy="319.5" rx="1.9" ry="2.5" fill="#e02858"/><ellipse cx="653.5" cy="288.3" rx="1.9" ry="2.5" fill="#e02858"/><ellipse cx="677.8" cy="294.8" rx="1.9" ry="2.5" fill="#e02858"/><ellipse cx="683.6" cy="290.4" rx="1.9" ry="2.5" fill="#e02858"/><ellipse cx="688.7" cy="275.2" rx="1.9" ry="2.5" fill="#e02858"/><ellipse cx="700.3" cy="274.4" rx="1.9" ry="2.5" fill="#e02858"/><ellipse cx="707.6" cy="296.3" rx="1.9" ry="2.5" fill="#e02858"/><ellipse cx="631.2" cy="300.6" rx="1.9" ry="2.5" fill="#e02858"/><ellipse cx="615.3" cy="302.8" rx="1.9" ry="2.5" fill="#48c848"/><ellipse cx="655.2" cy="283.2" rx="1.9" ry="2.5" fill="#48c848"/><ellipse cx="660.0" cy="292.6" rx="1.9" ry="2.5" fill="#48c848"/><ellipse cx="674.9" cy="301.3" rx="1.9" ry="2.5" fill="#48c848"/><ellipse cx="681.4" cy="299.9" rx="1.9" ry="2.5" fill="#48c848"/><ellipse cx="672.7" cy="307.2" rx="1.9" ry="2.5" fill="#48c848"/><ellipse cx="652.3" cy="316.6" rx="1.9" ry="2.5" fill="#48c848"/><ellipse cx="590.5" cy="326.1" rx="1.9" ry="2.5" fill="#48c848"/><ellipse cx="585.4" cy="332.6" rx="1.9" ry="2.5" fill="#48c848"/><ellipse cx="696.7" cy="280.3" rx="1.9" ry="2.5" fill="#48c848"/><ellipse cx="726.5" cy="282.4" rx="1.9" ry="2.5" fill="#48c848"/><ellipse cx="717.0" cy="305.0" rx="1.9" ry="2.5" fill="#48c848"/><ellipse cx="714.1" cy="330.4" rx="1.9" ry="2.5" fill="#48c848"/><ellipse cx="690.8" cy="332.6" rx="1.9" ry="2.5" fill="#48c848"/><ellipse cx="641.4" cy="338.4" rx="1.9" ry="2.5" fill="#48c848"/><ellipse cx="698.1" cy="311.5" rx="4" ry="2.8" fill="#60d050"/><ellipse cx="635.3" cy="296.3" rx="2.1" ry="2.7" fill="#e0e050"/><circle cx="635.3" cy="296.3" r="4.7" fill="none" stroke="#fff" stroke-width="1" stroke-dasharray="1.2 1"/><ellipse cx="651.6" cy="305.0" rx="2.1" ry="2.7" fill="#e0e050"/><circle cx="651.6" cy="305.0" r="4.7" fill="none" stroke="#fff" stroke-width="1" stroke-dasharray="1.2 1"/><ellipse cx="586.5" cy="319.5" rx="2.1" ry="2.7" fill="#e0e050"/><circle cx="586.5" cy="319.5" r="4.7" fill="none" stroke="#fff" stroke-width="1" stroke-dasharray="1.2 1"/><rect x="578.2" y="267.2" width="153.0999999999999" height="75.60000000000002" fill="#000" filter="url(#grain)" opacity="0.22"/></g><line x1="592.7" y1="339.9" x2="609.7" y2="339.9" stroke="#fff" stroke-width="0.9"/><text x="601.2" y="338.7" font-size="7" text-anchor="middle" fill="#fff">50 um</text><clipPath id="gg2"><rect x="578.2" y="349.6" width="153.0999999999999" height="75.89999999999998"/></clipPath><g clip-path="url(#gg2)"><rect x="578.2" y="349.6" width="153.0999999999999" height="75.89999999999998" fill="#161d3e"/><path d="M560.0,381.0 L578.2,380.4 L600.0,378.0 L626.0,376.0 L660.0,370.0 L700.0,364.4 L731.3,361.5 L740.0,361.0 L740.0,402.2 L731.3,402.2 L706.8,395.0 L677.8,393.5 L648.7,396.4 L626.9,400.8 L605.0,408.0 L578.2,411.0 L560.0,412.0 Z" fill="#1a32a0" filter="url(#blur1)"/><circle cx="658.7" cy="374.5" r="1.11" fill="#2a50d0" opacity="0.7"/><circle cx="617.4" cy="392.9" r="1.12" fill="#2a50d0" opacity="0.7"/><circle cx="651.7" cy="415.2" r="0.66" fill="#3050c8" opacity="0.7"/><circle cx="677.6" cy="390.3" r="0.91" fill="#3050c8" opacity="0.7"/><circle cx="678.9" cy="369.5" r="1.04" fill="#3050c8" opacity="0.7"/><circle cx="731.3" cy="363.3" r="1.06" fill="#2a48c0" opacity="0.7"/><circle cx="601.1" cy="411.2" r="1.13" fill="#3050c8" opacity="0.7"/><circle cx="700.2" cy="360.8" r="1.03" fill="#2a50d0" opacity="0.7"/><circle cx="693.1" cy="382.3" r="0.71" fill="#2a50d0" opacity="0.7"/><circle cx="709.6" cy="390.3" r="1.17" fill="#2a48c0" opacity="0.7"/><circle cx="729.3" cy="406.0" r="1.03" fill="#2a48c0" opacity="0.7"/><circle cx="578.6" cy="420.8" r="0.72" fill="#2040a0" opacity="0.7"/><circle cx="596.2" cy="359.6" r="1.03" fill="#2a48c0" opacity="0.7"/><circle cx="682.8" cy="411.4" r="1.11" fill="#3050c8" opacity="0.7"/><circle cx="629.7" cy="416.8" r="0.90" fill="#2040a0" opacity="0.7"/><circle cx="608.3" cy="373.6" r="0.71" fill="#3050c8" opacity="0.7"/><circle cx="661.9" cy="383.4" r="0.70" fill="#2a48c0" opacity="0.7"/><circle cx="595.7" cy="391.9" r="0.75" fill="#2a48c0" opacity="0.7"/><circle cx="598.6" cy="409.5" r="0.79" fill="#2a50d0" opacity="0.7"/><circle cx="603.9" cy="388.1" r="0.73" fill="#3050c8" opacity="0.7"/><circle cx="601.4" cy="413.7" r="1.05" fill="#3050c8" opacity="0.7"/><circle cx="691.4" cy="380.1" r="1.08" fill="#2040a0" opacity="0.7"/><circle cx="657.4" cy="415.9" r="0.85" fill="#2040a0" opacity="0.7"/><circle cx="619.0" cy="416.6" r="0.85" fill="#2a50d0" opacity="0.7"/><circle cx="702.8" cy="424.3" r="1.13" fill="#2a48c0" opacity="0.7"/><circle cx="584.7" cy="424.4" r="1.01" fill="#2a48c0" opacity="0.7"/><circle cx="587.0" cy="375.3" r="0.97" fill="#2a50d0" opacity="0.7"/><circle cx="632.7" cy="350.8" r="1.12" fill="#2a50d0" opacity="0.7"/><circle cx="656.3" cy="400.6" r="0.75" fill="#2a48c0" opacity="0.7"/><circle cx="696.0" cy="375.6" r="1.18" fill="#2040a0" opacity="0.7"/><circle cx="690.6" cy="414.6" r="0.85" fill="#2a50d0" opacity="0.7"/><circle cx="717.3" cy="383.9" r="0.85" fill="#2040a0" opacity="0.7"/><circle cx="612.6" cy="410.8" r="1.20" fill="#2a50d0" opacity="0.7"/><circle cx="592.2" cy="414.1" r="0.88" fill="#2040a0" opacity="0.7"/><circle cx="692.8" cy="352.9" r="1.12" fill="#2a50d0" opacity="0.7"/><circle cx="640.7" cy="405.8" r="0.90" fill="#2a50d0" opacity="0.7"/><circle cx="696.1" cy="386.4" r="0.61" fill="#2a48c0" opacity="0.7"/><circle cx="641.0" cy="394.1" r="0.66" fill="#3050c8" opacity="0.7"/><circle cx="691.0" cy="374.2" r="1.10" fill="#2040a0" opacity="0.7"/><circle cx="666.2" cy="393.6" r="1.03" fill="#2040a0" opacity="0.7"/><circle cx="715.3" cy="408.4" r="1.03" fill="#2a48c0" opacity="0.7"/><circle cx="684.8" cy="401.8" r="0.70" fill="#3050c8" opacity="0.7"/><circle cx="600.4" cy="413.6" r="1.09" fill="#2a48c0" opacity="0.7"/><circle cx="720.7" cy="419.4" r="0.90" fill="#2a50d0" opacity="0.7"/><circle cx="596.7" cy="398.3" r="0.75" fill="#3050c8" opacity="0.7"/><circle cx="619.1" cy="351.4" r="1.10" fill="#3050c8" opacity="0.7"/><circle cx="622.4" cy="363.9" r="0.82" fill="#2a50d0" opacity="0.7"/><circle cx="636.5" cy="366.9" r="1.11" fill="#2040a0" opacity="0.7"/><circle cx="581.0" cy="409.3" r="0.67" fill="#2a50d0" opacity="0.7"/><circle cx="722.4" cy="362.3" r="0.97" fill="#2040a0" opacity="0.7"/><circle cx="701.6" cy="398.9" r="1.13" fill="#2a48c0" opacity="0.7"/><circle cx="605.9" cy="400.3" r="0.63" fill="#3050c8" opacity="0.7"/><circle cx="716.1" cy="405.6" r="1.06" fill="#2a48c0" opacity="0.7"/><circle cx="696.3" cy="420.6" r="0.75" fill="#2a50d0" opacity="0.7"/><circle cx="727.9" cy="396.7" r="1.13" fill="#2a50d0" opacity="0.7"/><circle cx="658.0" cy="365.8" r="1.12" fill="#2a50d0" opacity="0.7"/><circle cx="685.0" cy="408.7" r="1.16" fill="#2a48c0" opacity="0.7"/><circle cx="690.9" cy="382.2" r="0.82" fill="#2040a0" opacity="0.7"/><circle cx="602.5" cy="398.3" r="1.03" fill="#2040a0" opacity="0.7"/><circle cx="655.8" cy="404.5" r="0.92" fill="#2040a0" opacity="0.7"/><circle cx="679.8" cy="407.0" r="0.88" fill="#2a48c0" opacity="0.7"/><circle cx="723.8" cy="383.3" r="1.09" fill="#2040a0" opacity="0.7"/><circle cx="726.6" cy="388.1" r="1.11" fill="#2040a0" opacity="0.7"/><circle cx="708.0" cy="363.4" r="0.92" fill="#2a50d0" opacity="0.7"/><circle cx="640.1" cy="358.4" r="0.65" fill="#2a48c0" opacity="0.7"/><circle cx="627.3" cy="374.6" r="0.62" fill="#2a48c0" opacity="0.7"/><circle cx="619.2" cy="394.9" r="0.64" fill="#2040a0" opacity="0.7"/><circle cx="598.4" cy="421.8" r="0.74" fill="#2040a0" opacity="0.7"/><circle cx="647.0" cy="377.2" r="0.63" fill="#3050c8" opacity="0.7"/><circle cx="700.9" cy="366.8" r="0.98" fill="#2a50d0" opacity="0.7"/><circle cx="725.1" cy="411.4" r="0.91" fill="#2a48c0" opacity="0.7"/><circle cx="684.0" cy="377.5" r="1.07" fill="#2a48c0" opacity="0.7"/><circle cx="718.1" cy="351.1" r="0.62" fill="#2a50d0" opacity="0.7"/><circle cx="704.7" cy="353.2" r="0.71" fill="#3050c8" opacity="0.7"/><circle cx="624.1" cy="367.1" r="1.03" fill="#2040a0" opacity="0.7"/><circle cx="713.6" cy="388.0" r="1.18" fill="#2a48c0" opacity="0.7"/><circle cx="588.5" cy="360.4" r="0.71" fill="#2a48c0" opacity="0.7"/><circle cx="623.5" cy="361.0" r="0.82" fill="#3050c8" opacity="0.7"/><circle cx="651.6" cy="409.1" r="0.97" fill="#2a50d0" opacity="0.7"/><circle cx="668.4" cy="405.6" r="0.78" fill="#3050c8" opacity="0.7"/><circle cx="675.2" cy="387.7" r="1.12" fill="#3050c8" opacity="0.7"/><circle cx="608.3" cy="396.7" r="1.19" fill="#3050c8" opacity="0.7"/><circle cx="725.4" cy="411.1" r="0.72" fill="#2a50d0" opacity="0.7"/><circle cx="608.5" cy="413.6" r="0.92" fill="#3050c8" opacity="0.7"/><circle cx="712.3" cy="373.3" r="0.76" fill="#2a50d0" opacity="0.7"/><circle cx="719.2" cy="364.0" r="0.94" fill="#2040a0" opacity="0.7"/><circle cx="629.3" cy="375.3" r="1.01" fill="#2040a0" opacity="0.7"/><circle cx="688.1" cy="365.3" r="0.70" fill="#2040a0" opacity="0.7"/><circle cx="615.7" cy="408.7" r="1.01" fill="#2a50d0" opacity="0.7"/><circle cx="721.4" cy="379.7" r="1.16" fill="#2a50d0" opacity="0.7"/><circle cx="608.6" cy="399.5" r="0.90" fill="#3050c8" opacity="0.7"/><circle cx="583.1" cy="369.5" r="0.88" fill="#2a48c0" opacity="0.7"/><circle cx="688.3" cy="351.5" r="0.69" fill="#2a48c0" opacity="0.7"/><circle cx="691.6" cy="399.1" r="0.96" fill="#2040a0" opacity="0.7"/><circle cx="714.9" cy="378.9" r="1.14" fill="#2a50d0" opacity="0.7"/><circle cx="692.8" cy="379.9" r="1.00" fill="#2040a0" opacity="0.7"/><circle cx="605.1" cy="357.0" r="0.84" fill="#2a48c0" opacity="0.7"/><circle cx="640.8" cy="364.7" r="0.81" fill="#2040a0" opacity="0.7"/><circle cx="674.9" cy="366.2" r="0.60" fill="#2a50d0" opacity="0.7"/><circle cx="658.7" cy="393.2" r="0.94" fill="#2a50d0" opacity="0.7"/><circle cx="730.6" cy="417.3" r="1.05" fill="#2a48c0" opacity="0.7"/><circle cx="582.5" cy="401.4" r="0.98" fill="#3050c8" opacity="0.7"/><circle cx="581.7" cy="354.5" r="0.76" fill="#2040a0" opacity="0.7"/><circle cx="720.3" cy="411.3" r="0.65" fill="#2a48c0" opacity="0.7"/><circle cx="720.8" cy="396.1" r="0.73" fill="#2040a0" opacity="0.7"/><circle cx="610.4" cy="387.5" r="0.84" fill="#2a48c0" opacity="0.7"/><circle cx="585.2" cy="373.9" r="1.04" fill="#2040a0" opacity="0.7"/><circle cx="593.1" cy="356.9" r="0.94" fill="#2a48c0" opacity="0.7"/><circle cx="647.2" cy="362.8" r="0.68" fill="#3050c8" opacity="0.7"/><circle cx="671.7" cy="396.4" r="1.14" fill="#2a50d0" opacity="0.7"/><circle cx="702.3" cy="408.4" r="1.20" fill="#3050c8" opacity="0.7"/><circle cx="729.8" cy="398.6" r="0.90" fill="#2040a0" opacity="0.7"/><circle cx="719.1" cy="406.7" r="0.99" fill="#2a48c0" opacity="0.7"/><circle cx="616.3" cy="353.1" r="1.11" fill="#2a50d0" opacity="0.7"/><circle cx="578.6" cy="399.0" r="1.10" fill="#2040a0" opacity="0.7"/><circle cx="632.6" cy="378.6" r="1.01" fill="#2040a0" opacity="0.7"/><circle cx="644.7" cy="359.7" r="0.70" fill="#3050c8" opacity="0.7"/><circle cx="650.3" cy="389.1" r="0.65" fill="#2a50d0" opacity="0.7"/><circle cx="658.3" cy="350.9" r="1.06" fill="#2a48c0" opacity="0.7"/><circle cx="730.2" cy="415.0" r="1.18" fill="#2a48c0" opacity="0.7"/><circle cx="609.6" cy="363.1" r="0.63" fill="#2a50d0" opacity="0.7"/><circle cx="726.0" cy="401.8" r="0.76" fill="#2a50d0" opacity="0.7"/><circle cx="617.5" cy="353.6" r="0.67" fill="#2a50d0" opacity="0.7"/><circle cx="645.0" cy="351.5" r="1.16" fill="#2a50d0" opacity="0.7"/><circle cx="609.4" cy="370.1" r="0.80" fill="#2a48c0" opacity="0.7"/><circle cx="726.4" cy="362.1" r="0.75" fill="#3050c8" opacity="0.7"/><circle cx="718.7" cy="388.0" r="0.86" fill="#2a48c0" opacity="0.7"/><circle cx="613.5" cy="405.2" r="0.86" fill="#2a48c0" opacity="0.7"/><circle cx="624.0" cy="374.6" r="0.85" fill="#2040a0" opacity="0.7"/><circle cx="645.4" cy="383.0" r="0.81" fill="#3050c8" opacity="0.7"/><circle cx="613.3" cy="352.5" r="0.92" fill="#2040a0" opacity="0.7"/><circle cx="619.1" cy="355.4" r="0.64" fill="#2a50d0" opacity="0.7"/><circle cx="706.2" cy="407.5" r="0.71" fill="#2a48c0" opacity="0.7"/><circle cx="658.7" cy="374.2" r="0.74" fill="#2a50d0" opacity="0.7"/><circle cx="671.7" cy="400.8" r="1.02" fill="#3050c8" opacity="0.7"/><circle cx="729.3" cy="403.3" r="0.78" fill="#2a48c0" opacity="0.7"/><circle cx="645.1" cy="398.5" r="1.18" fill="#2a48c0" opacity="0.7"/><circle cx="595.9" cy="400.3" r="0.62" fill="#2040a0" opacity="0.7"/><circle cx="716.4" cy="373.4" r="0.93" fill="#2040a0" opacity="0.7"/><circle cx="680.4" cy="401.6" r="1.19" fill="#2a48c0" opacity="0.7"/><circle cx="686.1" cy="374.1" r="0.99" fill="#3050c8" opacity="0.7"/><circle cx="676.9" cy="423.7" r="1.03" fill="#2a50d0" opacity="0.7"/><circle cx="633.3" cy="350.6" r="0.64" fill="#2a48c0" opacity="0.7"/><circle cx="584.8" cy="394.8" r="0.87" fill="#2a50d0" opacity="0.7"/><circle cx="610.2" cy="351.1" r="0.64" fill="#2a50d0" opacity="0.7"/><circle cx="617.5" cy="355.6" r="1.04" fill="#2a50d0" opacity="0.7"/><circle cx="600.4" cy="358.0" r="0.90" fill="#2a48c0" opacity="0.7"/><circle cx="626.5" cy="409.1" r="0.88" fill="#2a50d0" opacity="0.7"/><circle cx="682.8" cy="415.4" r="0.65" fill="#3050c8" opacity="0.7"/><circle cx="596.8" cy="410.8" r="0.81" fill="#2a50d0" opacity="0.7"/><circle cx="601.3" cy="375.5" r="0.68" fill="#3050c8" opacity="0.7"/><circle cx="609.6" cy="354.4" r="0.81" fill="#2040a0" opacity="0.7"/><circle cx="609.3" cy="386.9" r="0.76" fill="#3050c8" opacity="0.7"/><circle cx="645.3" cy="394.4" r="0.71" fill="#2a50d0" opacity="0.7"/><circle cx="698.1" cy="353.4" r="0.97" fill="#2a50d0" opacity="0.7"/><circle cx="612.9" cy="413.7" r="1.13" fill="#3050c8" opacity="0.7"/><circle cx="611.8" cy="403.2" r="1.14" fill="#3050c8" opacity="0.7"/><circle cx="614.1" cy="395.7" r="1.15" fill="#2a48c0" opacity="0.7"/><circle cx="633.7" cy="380.5" r="0.71" fill="#2a50d0" opacity="0.7"/><circle cx="679.1" cy="424.6" r="0.75" fill="#3050c8" opacity="0.7"/><circle cx="622.3" cy="383.8" r="0.93" fill="#3050c8" opacity="0.7"/><circle cx="676.7" cy="355.4" r="0.80" fill="#2a50d0" opacity="0.7"/><circle cx="698.6" cy="352.9" r="0.82" fill="#2a50d0" opacity="0.7"/><circle cx="706.4" cy="409.8" r="0.66" fill="#3050c8" opacity="0.7"/><circle cx="610.4" cy="365.4" r="1.08" fill="#2a48c0" opacity="0.7"/><circle cx="581.9" cy="350.3" r="0.89" fill="#3050c8" opacity="0.7"/><circle cx="723.4" cy="415.1" r="0.68" fill="#2a50d0" opacity="0.7"/><circle cx="726.5" cy="384.4" r="1.14" fill="#3050c8" opacity="0.7"/><circle cx="689.8" cy="391.6" r="0.77" fill="#3050c8" opacity="0.7"/><circle cx="661.5" cy="369.2" r="0.92" fill="#2040a0" opacity="0.7"/><circle cx="602.9" cy="405.7" r="0.86" fill="#2a48c0" opacity="0.7"/><circle cx="647.4" cy="359.5" r="0.83" fill="#2a48c0" opacity="0.7"/><circle cx="625.5" cy="370.8" r="0.89" fill="#3050c8" opacity="0.7"/><circle cx="647.9" cy="403.1" r="1.02" fill="#2040a0" opacity="0.7"/><circle cx="588.4" cy="371.9" r="1.09" fill="#2040a0" opacity="0.7"/><circle cx="608.6" cy="417.6" r="0.68" fill="#3050c8" opacity="0.7"/><circle cx="587.5" cy="353.8" r="1.18" fill="#3050c8" opacity="0.7"/><circle cx="669.1" cy="364.6" r="0.90" fill="#3050c8" opacity="0.7"/><circle cx="621.6" cy="410.6" r="1.08" fill="#2040a0" opacity="0.7"/><circle cx="647.1" cy="399.1" r="0.68" fill="#3050c8" opacity="0.7"/><circle cx="588.7" cy="368.1" r="0.81" fill="#2a50d0" opacity="0.7"/><circle cx="656.1" cy="373.0" r="1.05" fill="#2a48c0" opacity="0.7"/><circle cx="588.8" cy="358.0" r="0.92" fill="#2040a0" opacity="0.7"/><circle cx="717.7" cy="415.8" r="0.78" fill="#3050c8" opacity="0.7"/><circle cx="702.6" cy="388.3" r="0.83" fill="#2a50d0" opacity="0.7"/><circle cx="587.7" cy="411.3" r="1.16" fill="#2a48c0" opacity="0.7"/><circle cx="606.7" cy="413.1" r="0.87" fill="#2a48c0" opacity="0.7"/><circle cx="701.5" cy="385.5" r="0.70" fill="#2040a0" opacity="0.7"/><circle cx="708.6" cy="362.6" r="0.65" fill="#3050c8" opacity="0.7"/><circle cx="650.5" cy="367.7" r="1.00" fill="#2a48c0" opacity="0.7"/><circle cx="673.3" cy="389.2" r="0.82" fill="#2a48c0" opacity="0.7"/><circle cx="696.8" cy="378.9" r="1.09" fill="#2040a0" opacity="0.7"/><circle cx="612.7" cy="419.9" r="1.09" fill="#2a48c0" opacity="0.7"/><circle cx="608.3" cy="363.9" r="0.79" fill="#2a50d0" opacity="0.7"/><circle cx="619.8" cy="418.3" r="1.16" fill="#2040a0" opacity="0.7"/><circle cx="705.4" cy="353.0" r="0.78" fill="#2a48c0" opacity="0.7"/><circle cx="686.3" cy="407.2" r="1.12" fill="#2040a0" opacity="0.7"/><circle cx="624.7" cy="350.8" r="0.63" fill="#3050c8" opacity="0.7"/><circle cx="587.9" cy="387.7" r="1.19" fill="#2a48c0" opacity="0.7"/><circle cx="683.6" cy="376.9" r="0.85" fill="#2a50d0" opacity="0.7"/><circle cx="626.4" cy="395.0" r="0.92" fill="#2a50d0" opacity="0.7"/><circle cx="611.9" cy="360.8" r="0.82" fill="#2a50d0" opacity="0.7"/><circle cx="670.5" cy="393.8" r="0.76" fill="#3050c8" opacity="0.7"/><circle cx="613.1" cy="405.8" r="0.79" fill="#2a50d0" opacity="0.7"/><circle cx="609.1" cy="412.8" r="0.68" fill="#2a48c0" opacity="0.7"/><circle cx="585.0" cy="349.8" r="0.89" fill="#2a50d0" opacity="0.7"/><circle cx="664.6" cy="399.4" r="1.18" fill="#2040a0" opacity="0.7"/><circle cx="595.4" cy="405.8" r="1.02" fill="#2a48c0" opacity="0.7"/><circle cx="697.3" cy="391.6" r="0.69" fill="#2040a0" opacity="0.7"/><circle cx="613.9" cy="411.3" r="0.90" fill="#2a48c0" opacity="0.7"/><circle cx="662.4" cy="406.4" r="1.10" fill="#2a48c0" opacity="0.7"/><circle cx="628.3" cy="376.2" r="1.19" fill="#3050c8" opacity="0.7"/><circle cx="608.4" cy="374.1" r="0.78" fill="#3050c8" opacity="0.7"/><circle cx="638.7" cy="387.4" r="1.08" fill="#2a48c0" opacity="0.7"/><circle cx="681.0" cy="363.1" r="0.78" fill="#3050c8" opacity="0.7"/><circle cx="581.7" cy="385.8" r="0.99" fill="#2a50d0" opacity="0.7"/><circle cx="628.6" cy="388.9" r="0.94" fill="#3050c8" opacity="0.7"/><circle cx="680.6" cy="392.4" r="1.19" fill="#2040a0" opacity="0.7"/><circle cx="611.4" cy="379.0" r="0.86" fill="#2040a0" opacity="0.7"/><circle cx="641.7" cy="365.2" r="0.84" fill="#3050c8" opacity="0.7"/><circle cx="591.6" cy="386.3" r="0.94" fill="#2040a0" opacity="0.7"/><circle cx="584.7" cy="421.5" r="1.09" fill="#3050c8" opacity="0.7"/><circle cx="647.9" cy="419.6" r="1.02" fill="#3050c8" opacity="0.7"/><circle cx="603.1" cy="403.0" r="0.76" fill="#2a48c0" opacity="0.7"/><circle cx="609.3" cy="400.6" r="1.13" fill="#3050c8" opacity="0.7"/><circle cx="683.3" cy="400.0" r="0.93" fill="#2a50d0" opacity="0.7"/><circle cx="700.5" cy="361.4" r="1.01" fill="#3050c8" opacity="0.7"/><circle cx="618.4" cy="383.7" r="1.12" fill="#2a48c0" opacity="0.7"/><circle cx="701.5" cy="416.6" r="0.98" fill="#3050c8" opacity="0.7"/><circle cx="669.7" cy="385.6" r="0.69" fill="#3050c8" opacity="0.7"/><circle cx="581.2" cy="364.2" r="0.93" fill="#3050c8" opacity="0.7"/><circle cx="644.8" cy="388.7" r="1.09" fill="#2a48c0" opacity="0.7"/><circle cx="686.7" cy="368.1" r="0.63" fill="#2a48c0" opacity="0.7"/><circle cx="709.0" cy="362.5" r="0.65" fill="#2040a0" opacity="0.7"/><circle cx="650.7" cy="407.0" r="0.68" fill="#3050c8" opacity="0.7"/><circle cx="638.0" cy="410.7" r="0.76" fill="#3050c8" opacity="0.7"/><circle cx="598.2" cy="393.5" r="1.16" fill="#2a48c0" opacity="0.7"/><circle cx="624.5" cy="422.1" r="1.19" fill="#2a48c0" opacity="0.7"/><circle cx="611.5" cy="367.9" r="1.20" fill="#2a48c0" opacity="0.7"/><circle cx="679.2" cy="368.4" r="1.14" fill="#2a50d0" opacity="0.7"/><circle cx="578.6" cy="423.1" r="0.74" fill="#3050c8" opacity="0.7"/><circle cx="650.8" cy="372.5" r="0.81" fill="#3050c8" opacity="0.7"/><circle cx="639.5" cy="398.5" r="0.70" fill="#3050c8" opacity="0.7"/><circle cx="685.3" cy="359.5" r="0.63" fill="#3050c8" opacity="0.7"/><circle cx="657.0" cy="361.4" r="0.74" fill="#2a48c0" opacity="0.7"/><circle cx="665.1" cy="400.4" r="1.06" fill="#2a50d0" opacity="0.7"/><circle cx="604.3" cy="373.4" r="0.91" fill="#2a50d0" opacity="0.7"/><circle cx="710.3" cy="380.3" r="1.00" fill="#2040a0" opacity="0.7"/><circle cx="727.7" cy="389.1" r="0.76" fill="#3050c8" opacity="0.7"/><circle cx="657.9" cy="415.9" r="0.71" fill="#2a48c0" opacity="0.7"/><circle cx="708.5" cy="351.6" r="0.98" fill="#2a50d0" opacity="0.7"/><circle cx="674.5" cy="420.3" r="0.93" fill="#2a48c0" opacity="0.7"/><circle cx="619.9" cy="370.3" r="0.66" fill="#2a50d0" opacity="0.7"/><circle cx="684.7" cy="366.1" r="0.75" fill="#2a48c0" opacity="0.7"/><circle cx="647.6" cy="368.1" r="0.72" fill="#2a50d0" opacity="0.7"/><circle cx="623.6" cy="415.5" r="0.64" fill="#2a48c0" opacity="0.7"/><circle cx="621.6" cy="398.3" r="0.70" fill="#2a50d0" opacity="0.7"/><circle cx="654.6" cy="351.8" r="0.66" fill="#2a48c0" opacity="0.7"/><circle cx="666.8" cy="400.1" r="0.93" fill="#3050c8" opacity="0.7"/><circle cx="691.0" cy="370.2" r="1.02" fill="#2a50d0" opacity="0.7"/><circle cx="663.4" cy="355.4" r="0.63" fill="#2a48c0" opacity="0.7"/><circle cx="584.2" cy="387.8" r="0.85" fill="#3050c8" opacity="0.7"/><circle cx="650.3" cy="417.6" r="1.18" fill="#3050c8" opacity="0.7"/><circle cx="599.1" cy="415.9" r="0.74" fill="#3050c8" opacity="0.7"/><circle cx="583.2" cy="409.9" r="0.73" fill="#2a48c0" opacity="0.7"/><circle cx="621.4" cy="369.0" r="1.02" fill="#2a48c0" opacity="0.7"/><circle cx="706.4" cy="370.3" r="0.79" fill="#2040a0" opacity="0.7"/><circle cx="594.5" cy="400.7" r="0.78" fill="#2a48c0" opacity="0.7"/><circle cx="667.5" cy="376.2" r="1.09" fill="#3050c8" opacity="0.7"/><circle cx="663.8" cy="376.4" r="0.69" fill="#2a48c0" opacity="0.7"/><circle cx="712.2" cy="412.0" r="1.09" fill="#2a50d0" opacity="0.7"/><circle cx="602.8" cy="421.1" r="1.14" fill="#2a48c0" opacity="0.7"/><circle cx="592.4" cy="362.5" r="1.04" fill="#2a50d0" opacity="0.7"/><circle cx="651.8" cy="354.7" r="0.82" fill="#3050c8" opacity="0.7"/><circle cx="697.5" cy="411.7" r="0.81" fill="#2a48c0" opacity="0.7"/><circle cx="615.0" cy="363.8" r="1.03" fill="#2a50d0" opacity="0.7"/><circle cx="612.3" cy="406.1" r="0.85" fill="#2040a0" opacity="0.7"/><circle cx="580.5" cy="390.4" r="1.13" fill="#3050c8" opacity="0.7"/><circle cx="727.1" cy="398.8" r="0.76" fill="#2a50d0" opacity="0.7"/><circle cx="673.5" cy="396.5" r="0.64" fill="#2a48c0" opacity="0.7"/><circle cx="666.7" cy="388.0" r="1.15" fill="#3050c8" opacity="0.7"/><circle cx="698.2" cy="370.7" r="0.66" fill="#2040a0" opacity="0.7"/><circle cx="609.8" cy="405.3" r="0.98" fill="#2a50d0" opacity="0.7"/><circle cx="637.6" cy="410.4" r="1.16" fill="#2040a0" opacity="0.7"/><circle cx="713.2" cy="403.7" r="0.88" fill="#2a48c0" opacity="0.7"/><circle cx="604.2" cy="359.8" r="1.01" fill="#2a48c0" opacity="0.7"/><circle cx="708.0" cy="381.8" r="0.64" fill="#2a48c0" opacity="0.7"/><circle cx="612.5" cy="382.9" r="1.05" fill="#2040a0" opacity="0.7"/><circle cx="654.9" cy="396.9" r="1.02" fill="#3050c8" opacity="0.7"/><circle cx="728.4" cy="357.9" r="1.19" fill="#2a48c0" opacity="0.7"/><circle cx="720.1" cy="410.4" r="1.13" fill="#2a48c0" opacity="0.7"/><circle cx="690.5" cy="408.9" r="0.72" fill="#2a50d0" opacity="0.7"/><circle cx="579.8" cy="415.6" r="0.80" fill="#3050c8" opacity="0.7"/><circle cx="670.2" cy="378.8" r="1.05" fill="#3050c8" opacity="0.7"/><circle cx="629.9" cy="408.2" r="0.98" fill="#2040a0" opacity="0.7"/><circle cx="684.0" cy="392.6" r="0.91" fill="#3050c8" opacity="0.7"/><circle cx="718.7" cy="423.1" r="1.05" fill="#2a48c0" opacity="0.7"/><circle cx="720.7" cy="378.9" r="0.65" fill="#2040a0" opacity="0.7"/><circle cx="666.8" cy="402.1" r="0.71" fill="#2040a0" opacity="0.7"/><circle cx="649.7" cy="379.0" r="0.96" fill="#2040a0" opacity="0.7"/><circle cx="719.9" cy="385.4" r="0.93" fill="#3050c8" opacity="0.7"/><circle cx="708.0" cy="367.7" r="0.97" fill="#2a48c0" opacity="0.7"/><circle cx="681.3" cy="386.3" r="0.77" fill="#2a48c0" opacity="0.7"/><circle cx="729.4" cy="354.2" r="1.08" fill="#3050c8" opacity="0.7"/><circle cx="715.4" cy="411.8" r="0.86" fill="#2a50d0" opacity="0.7"/><circle cx="665.0" cy="363.9" r="0.92" fill="#2040a0" opacity="0.7"/><circle cx="584.5" cy="392.3" r="0.81" fill="#3050c8" opacity="0.7"/><circle cx="731.3" cy="405.6" r="0.83" fill="#2a48c0" opacity="0.7"/><circle cx="600.1" cy="375.8" r="0.72" fill="#2a50d0" opacity="0.7"/><circle cx="632.1" cy="350.0" r="1.08" fill="#2040a0" opacity="0.7"/><circle cx="647.8" cy="369.9" r="0.76" fill="#3050c8" opacity="0.7"/><circle cx="704.5" cy="368.1" r="0.82" fill="#2a50d0" opacity="0.7"/><circle cx="588.0" cy="411.2" r="0.67" fill="#2a50d0" opacity="0.7"/><circle cx="705.6" cy="422.6" r="1.15" fill="#2040a0" opacity="0.7"/><circle cx="649.6" cy="393.7" r="1.09" fill="#2a48c0" opacity="0.7"/><circle cx="636.2" cy="356.3" r="0.70" fill="#2a48c0" opacity="0.7"/><circle cx="652.1" cy="371.3" r="0.68" fill="#2040a0" opacity="0.7"/><circle cx="675.5" cy="385.9" r="0.67" fill="#2a50d0" opacity="0.7"/><circle cx="699.0" cy="383.6" r="1.00" fill="#2a50d0" opacity="0.7"/><circle cx="617.3" cy="363.9" r="0.80" fill="#3050c8" opacity="0.7"/><path d="M672.0,382.3 q-4.5,-13.8 6.9,-20.5" stroke="#40b050" stroke-width="0.48" fill="none" opacity="0.49"/><path d="M607.3,380.1 q0.5,-12.4 7.9,-27.8" stroke="#40b050" stroke-width="0.48" fill="none" opacity="0.49"/><path d="M623.0,385.7 q0.7,-12.5 -5.2,-22.0" stroke="#40b050" stroke-width="0.48" fill="none" opacity="0.49"/><path d="M703.0,381.5 q-4.4,-13.7 -0.4,-20.4" stroke="#40b050" stroke-width="0.48" fill="none" opacity="0.49"/><path d="M713.2,389.2 q0.7,-11.2 1.8,-16.8" stroke="#40b050" stroke-width="0.48" fill="none" opacity="0.49"/><path d="M715.4,386.7 q-3.0,-12.5 -4.4,-16.7" stroke="#40b050" stroke-width="0.48" fill="none" opacity="0.49"/><path d="M669.0,381.3 q0.8,-11.9 7.6,-25.6" stroke="#40b050" stroke-width="0.48" fill="none" opacity="0.49"/><path d="M622.5,381.6 q-2.4,-13.2 7.0,-29.2" stroke="#40b050" stroke-width="0.48" fill="none" opacity="0.49"/><path d="M710.7,387.9 q-2.6,-13.2 3.3,-22.0" stroke="#40b050" stroke-width="0.48" fill="none" opacity="0.49"/><path d="M683.2,383.0 q0.9,-9.4 -4.6,-20.0" stroke="#40b050" stroke-width="0.48" fill="none" opacity="0.49"/><path d="M715.8,382.3 q2.2,-11.7 3.7,-16.2" stroke="#40b050" stroke-width="0.48" fill="none" opacity="0.49"/><path d="M664.8,389.6 q3.4,-8.2 1.2,-22.9" stroke="#40b050" stroke-width="0.48" fill="none" opacity="0.49"/><path d="M695.5,386.7 q2.4,-13.2 5.7,-29.1" stroke="#40b050" stroke-width="0.48" fill="none" opacity="0.49"/><path d="M671.0,388.7 q3.9,-9.3 -2.0,-16.3" stroke="#40b050" stroke-width="0.48" fill="none" opacity="0.49"/><path d="M688.4,383.8 q4.4,-11.2 0.7,-25.6" stroke="#40b050" stroke-width="0.48" fill="none" opacity="0.49"/><path d="M657.2,383.0 q2.1,-14.0 2.2,-24.9" stroke="#40b050" stroke-width="0.48" fill="none" opacity="0.49"/><path d="M675.2,380.2 q-3.6,-10.8 2.6,-28.0" stroke="#40b050" stroke-width="0.48" fill="none" opacity="0.49"/><path d="M660.8,382.4 q0.8,-8.9 -6.5,-27.4" stroke="#40b050" stroke-width="0.48" fill="none" opacity="0.49"/><path d="M649.1,384.8 q-1.0,-13.6 4.0,-21.5" stroke="#40b050" stroke-width="0.48" fill="none" opacity="0.49"/><path d="M730.5,388.6 q2.8,-11.6 -0.6,-16.6" stroke="#40b050" stroke-width="0.48" fill="none" opacity="0.49"/><path d="M650.6,380.3 q3.2,-12.7 -2.7,-19.6" stroke="#40b050" stroke-width="0.48" fill="none" opacity="0.49"/><path d="M708.7,387.0 q2.4,-8.6 0.6,-26.7" stroke="#40b050" stroke-width="0.48" fill="none" opacity="0.49"/><path d="M626.3,384.3 q4.8,-13.1 -1.4,-26.4" stroke="#40b050" stroke-width="0.48" fill="none" opacity="0.49"/><path d="M675.0,383.0 q4.0,-10.8 -2.4,-18.7" stroke="#40b050" stroke-width="0.48" fill="none" opacity="0.49"/><path d="M709.3,381.1 q4.2,-8.7 -5.5,-19.4" stroke="#40b050" stroke-width="0.48" fill="none" opacity="0.49"/><path d="M641.0,382.4 q1.9,-11.0 -5.4,-19.3" stroke="#40b050" stroke-width="0.48" fill="none" opacity="0.49"/><path d="M652.0,381.1 q-0.1,-12.0 -7.8,-17.6" stroke="#40b050" stroke-width="0.48" fill="none" opacity="0.49"/><path d="M705.5,387.2 q2.7,-9.6 -2.6,-27.2" stroke="#40b050" stroke-width="0.48" fill="none" opacity="0.49"/><path d="M699.3,386.3 q-3.8,-12.4 7.7,-17.9" stroke="#40b050" stroke-width="0.48" fill="none" opacity="0.49"/><path d="M603.0,379.9 q0.4,-9.6 -1.6,-16.0" stroke="#40b050" stroke-width="0.48" fill="none" opacity="0.49"/><path d="M581.1,385.0 q0.3,-9.5 -4.5,-27.0" stroke="#40b050" stroke-width="0.48" fill="none" opacity="0.49"/><path d="M683.7,385.0 q0.4,-9.7 3.6,-19.8" stroke="#40b050" stroke-width="0.48" fill="none" opacity="0.49"/><path d="M632.7,385.5 q1.2,-10.2 4.0,-27.7" stroke="#40b050" stroke-width="0.48" fill="none" opacity="0.49"/><path d="M674.2,382.6 q2.7,-10.4 -5.8,-16.1" stroke="#40b050" stroke-width="0.48" fill="none" opacity="0.49"/><path d="M624.6,379.9 q2.1,-11.7 0.4,-28.8" stroke="#40b050" stroke-width="0.48" fill="none" opacity="0.49"/><path d="M679.5,383.9 q-3.2,-8.3 1.4,-28.5" stroke="#40b050" stroke-width="0.48" fill="none" opacity="0.49"/><path d="M730.0,389.0 q-3.0,-8.6 -6.8,-21.3" stroke="#40b050" stroke-width="0.48" fill="none" opacity="0.49"/><path d="M662.9,384.9 q-3.4,-9.6 5.1,-17.8" stroke="#40b050" stroke-width="0.48" fill="none" opacity="0.49"/><path d="M705.2,383.3 q-3.4,-13.5 5.6,-28.6" stroke="#40b050" stroke-width="0.48" fill="none" opacity="0.49"/><path d="M717.1,382.3 q-0.2,-10.0 3.9,-21.8" stroke="#40b050" stroke-width="0.48" fill="none" opacity="0.49"/><path d="M622.9,377.9 q2.9,-8.0 0.0,-21.0" stroke="#c03050" stroke-width="0.40" fill="none" opacity="0.42"/><path d="M700.1,381.2 q3.6,-13.4 -7.7,-28.0" stroke="#c03050" stroke-width="0.40" fill="none" opacity="0.42"/><path d="M661.2,381.7 q-3.0,-9.5 -7.8,-17.7" stroke="#c03050" stroke-width="0.40" fill="none" opacity="0.42"/><path d="M717.3,380.0 q3.9,-11.2 0.5,-17.9" stroke="#c03050" stroke-width="0.40" fill="none" opacity="0.42"/><path d="M679.1,383.1 q-1.6,-10.9 -7.9,-24.8" stroke="#c03050" stroke-width="0.40" fill="none" opacity="0.42"/><path d="M716.3,379.2 q-3.7,-10.3 2.4,-26.3" stroke="#c03050" stroke-width="0.40" fill="none" opacity="0.42"/><path d="M720.2,380.0 q2.4,-9.0 -3.1,-23.3" stroke="#c03050" stroke-width="0.40" fill="none" opacity="0.42"/><path d="M663.5,382.1 q-1.2,-9.4 -3.9,-20.5" stroke="#c03050" stroke-width="0.40" fill="none" opacity="0.42"/><path d="M597.6,381.4 q-4.2,-11.8 2.3,-22.2" stroke="#c03050" stroke-width="0.40" fill="none" opacity="0.42"/><path d="M691.1,386.1 q2.7,-12.8 -2.2,-19.0" stroke="#c03050" stroke-width="0.40" fill="none" opacity="0.42"/><path d="M722.9,385.1 q2.6,-11.8 -3.4,-16.5" stroke="#c03050" stroke-width="0.40" fill="none" opacity="0.42"/><path d="M716.2,380.3 q4.9,-10.7 -1.1,-17.0" stroke="#c03050" stroke-width="0.40" fill="none" opacity="0.42"/><path d="M602.3,385.0 q4.3,-11.8 -2.6,-20.2" stroke="#c03050" stroke-width="0.40" fill="none" opacity="0.42"/><path d="M634.3,385.3 q3.4,-8.8 0.0,-26.8" stroke="#c03050" stroke-width="0.40" fill="none" opacity="0.42"/><path d="M615.3,383.4 q-5.0,-8.4 6.4,-27.5" stroke="#c03050" stroke-width="0.40" fill="none" opacity="0.42"/><path d="M602.1,410.5 q7.7,-1.6 10.9,3.4" stroke="#30a040" stroke-width="0.5" fill="none" opacity="0.6"/><path d="M700.4,413.5 q-4.8,4.9 10.9,-2.9" stroke="#30a040" stroke-width="0.5" fill="none" opacity="0.6"/><path d="M698.4,402.2 q-5.5,4.6 14.1,-3.5" stroke="#30a040" stroke-width="0.5" fill="none" opacity="0.6"/><path d="M637.9,404.7 q4.8,3.5 2.7,-1.3" stroke="#30a040" stroke-width="0.5" fill="none" opacity="0.6"/><path d="M602.2,403.3 q3.2,-2.8 -11.8,3.5" stroke="#30a040" stroke-width="0.5" fill="none" opacity="0.6"/><path d="M725.0,420.0 q0.0,2.2 -6.2,3.0" stroke="#30a040" stroke-width="0.5" fill="none" opacity="0.6"/><path d="M624.5,414.9 q4.0,-3.4 -7.5,-2.9" stroke="#30a040" stroke-width="0.5" fill="none" opacity="0.6"/><path d="M646.2,416.0 q-2.4,3.7 15.4,2.6" stroke="#30a040" stroke-width="0.5" fill="none" opacity="0.6"/><path d="M655.8,402.2 q4.2,0.2 4.0,0.7" stroke="#30a040" stroke-width="0.5" fill="none" opacity="0.6"/><path d="M724.3,421.1 q6.4,2.5 -1.8,1.9" stroke="#30a040" stroke-width="0.5" fill="none" opacity="0.6"/><path d="M632.6,417.7 q-4.9,4.9 2.4,0.5" stroke="#30a040" stroke-width="0.5" fill="none" opacity="0.6"/><path d="M624.5,406.5 q5.5,-1.8 -10.9,-2.3" stroke="#30a040" stroke-width="0.5" fill="none" opacity="0.6"/><path d="M671.3,405.3 q7.5,1.2 -4.4,-1.2" stroke="#30a040" stroke-width="0.5" fill="none" opacity="0.6"/><path d="M651.9,420.9 q-4.8,-1.9 -8.3,2.6" stroke="#30a040" stroke-width="0.5" fill="none" opacity="0.6"/><path d="M714.5,404.8 q0.2,0.8 7.0,3.8" stroke="#30a040" stroke-width="0.5" fill="none" opacity="0.6"/><path d="M606.0,407.7 q4.2,-1.6 -11.0,2.8" stroke="#30a040" stroke-width="0.5" fill="none" opacity="0.6"/><path d="M658.5,404.1 q-2.7,-1.3 -11.3,0.4" stroke="#30a040" stroke-width="0.5" fill="none" opacity="0.6"/><path d="M601.2,403.6 q8.0,0.7 -4.5,2.8" stroke="#30a040" stroke-width="0.5" fill="none" opacity="0.6"/><path d="M650.6,418.9 q-2.5,4.8 3.5,-1.6" stroke="#30a040" stroke-width="0.5" fill="none" opacity="0.6"/><path d="M689.0,416.5 q0.1,3.8 15.2,3.6" stroke="#30a040" stroke-width="0.5" fill="none" opacity="0.6"/><ellipse cx="626.9" cy="371.7" rx="1.9" ry="2.5" fill="#48c848"/><ellipse cx="637.1" cy="375.3" rx="1.9" ry="2.5" fill="#48c848"/><ellipse cx="644.3" cy="380.4" rx="1.9" ry="2.5" fill="#48c848"/><ellipse cx="658.1" cy="376.0" rx="1.9" ry="2.5" fill="#48c848"/><ellipse cx="666.9" cy="367.4" rx="1.9" ry="2.5" fill="#48c848"/><ellipse cx="604.3" cy="390.6" rx="1.9" ry="2.5" fill="#48c848"/><ellipse cx="606.5" cy="394.2" rx="1.9" ry="2.5" fill="#48c848"/><ellipse cx="634.9" cy="397.2" rx="1.9" ry="2.5" fill="#48c848"/><ellipse cx="594.9" cy="399.3" rx="1.9" ry="2.5" fill="#48c848"/><ellipse cx="583.3" cy="405.9" rx="1.9" ry="2.5" fill="#48c848"/><ellipse cx="700.3" cy="395.0" rx="1.9" ry="2.5" fill="#48c848"/><ellipse cx="706.8" cy="368.8" rx="1.9" ry="2.5" fill="#48c848"/><ellipse cx="707.6" cy="378.3" rx="1.9" ry="2.5" fill="#48c848"/><ellipse cx="712.6" cy="418.2" rx="1.9" ry="2.5" fill="#48c848"/><ellipse cx="729.4" cy="419.7" rx="1.9" ry="2.5" fill="#48c848"/><ellipse cx="578.2" cy="388.4" rx="1.9" ry="2.5" fill="#48c848"/><ellipse cx="663.2" cy="379.7" rx="1.9" ry="2.5" fill="#e02858"/><ellipse cx="655.2" cy="387.0" rx="1.9" ry="2.5" fill="#e02858"/><ellipse cx="712.6" cy="370.3" rx="1.9" ry="2.5" fill="#e02858"/><ellipse cx="717.7" cy="379.7" rx="1.9" ry="2.5" fill="#e02858"/><ellipse cx="706.8" cy="392.8" rx="1.9" ry="2.5" fill="#e02858"/><ellipse cx="729.4" cy="401.5" rx="1.9" ry="2.5" fill="#e02858"/><ellipse cx="597.8" cy="389.2" rx="2.2" ry="3" fill="#e0e050"/><ellipse cx="593.4" cy="380.4" rx="2.1" ry="2.7" fill="#d8e050"/><circle cx="593.4" cy="380.4" r="4.6" fill="none" stroke="#fff" stroke-width="1" stroke-dasharray="1.2 1"/><ellipse cx="653.8" cy="368.8" rx="2.1" ry="2.7" fill="#d8e050"/><circle cx="653.8" cy="368.8" r="4.6" fill="none" stroke="#fff" stroke-width="1" stroke-dasharray="1.2 1"/><ellipse cx="682.8" cy="365.9" rx="2.1" ry="2.7" fill="#d8e050"/><circle cx="682.8" cy="365.9" r="4.6" fill="none" stroke="#fff" stroke-width="1" stroke-dasharray="1.2 1"/><ellipse cx="678.5" cy="373.9" rx="2.1" ry="2.7" fill="#d8e050"/><circle cx="678.5" cy="373.9" r="4.6" fill="none" stroke="#fff" stroke-width="1" stroke-dasharray="1.2 1"/><ellipse cx="702.5" cy="373.2" rx="2.1" ry="2.7" fill="#d8e050"/><circle cx="702.5" cy="373.2" r="4.6" fill="none" stroke="#fff" stroke-width="1" stroke-dasharray="1.2 1"/><ellipse cx="698.1" cy="381.2" rx="2.1" ry="2.7" fill="#d8e050"/><circle cx="698.1" cy="381.2" r="4.6" fill="none" stroke="#fff" stroke-width="1" stroke-dasharray="1.2 1"/><ellipse cx="725.0" cy="379.7" rx="2.1" ry="2.7" fill="#d8e050"/><circle cx="725.0" cy="379.7" r="4.6" fill="none" stroke="#fff" stroke-width="1" stroke-dasharray="1.2 1"/><rect x="578.2" y="349.6" width="153.0999999999999" height="75.89999999999998" fill="#000" filter="url(#grain)" opacity="0.22"/></g><line x1="589.8" y1="421.4" x2="606.8" y2="421.4" stroke="#fff" stroke-width="0.9"/><text x="598.3" y="420.2" font-size="7" text-anchor="middle" fill="#fff">50 um</text><clipPath id="ll1"><rect x="580.2" y="485.6" width="153.0999999999999" height="72.29999999999995"/></clipPath><g clip-path="url(#ll1)"><rect x="580.2" y="485.6" width="153.0999999999999" height="72.29999999999995" fill="#2a1a3a"/><rect x="580.2" y="485.6" width="153.0999999999999" height="35" fill="#1e2050"/><path d="M560.0,516.0 L580.2,515.0 L620.0,512.0 L650.0,509.0 L690.0,503.0 L733.3,497.5 L750.0,497.0 L750.0,546.0 L733.3,545.5 L708.8,538.2 L679.8,533.2 L650.7,533.9 L621.6,538.2 L580.2,544.0 L560.0,545.0 Z" fill="#2040b8" filter="url(#blur1)"/><circle cx="732.4" cy="544.9" r="0.95" fill="#3050d8" opacity="0.75"/><circle cx="647.7" cy="500.7" r="0.87" fill="#2a48c0" opacity="0.75"/><circle cx="726.8" cy="553.1" r="0.69" fill="#3a58e0" opacity="0.75"/><circle cx="591.8" cy="492.6" r="0.61" fill="#3050d8" opacity="0.75"/><circle cx="635.8" cy="525.3" r="1.19" fill="#b03060" opacity="0.75"/><circle cx="691.4" cy="545.2" r="0.69" fill="#b03060" opacity="0.75"/><circle cx="719.7" cy="500.6" r="0.70" fill="#3050d8" opacity="0.75"/><circle cx="696.0" cy="541.9" r="1.16" fill="#3a58e0" opacity="0.75"/><circle cx="649.6" cy="536.8" r="1.19" fill="#3a58e0" opacity="0.75"/><circle cx="660.6" cy="548.9" r="1.02" fill="#a02870" opacity="0.75"/><circle cx="652.4" cy="526.8" r="1.04" fill="#2a48c0" opacity="0.75"/><circle cx="690.2" cy="540.5" r="0.67" fill="#2a48c0" opacity="0.75"/><circle cx="729.1" cy="495.1" r="0.71" fill="#2a48c0" opacity="0.75"/><circle cx="664.4" cy="486.7" r="0.99" fill="#a02870" opacity="0.75"/><circle cx="617.8" cy="529.1" r="0.94" fill="#3a58e0" opacity="0.75"/><circle cx="668.6" cy="525.4" r="1.19" fill="#2a48c0" opacity="0.75"/><circle cx="681.1" cy="524.5" r="1.06" fill="#b03060" opacity="0.75"/><circle cx="622.1" cy="522.2" r="1.18" fill="#b03060" opacity="0.75"/><circle cx="707.2" cy="499.2" r="1.06" fill="#2a48c0" opacity="0.75"/><circle cx="674.6" cy="524.5" r="0.61" fill="#3050d8" opacity="0.75"/><circle cx="699.5" cy="537.0" r="0.69" fill="#3a58e0" opacity="0.75"/><circle cx="633.9" cy="539.5" r="1.01" fill="#2a48c0" opacity="0.75"/><circle cx="715.5" cy="547.8" r="0.76" fill="#b03060" opacity="0.75"/><circle cx="604.2" cy="500.9" r="1.05" fill="#3050d8" opacity="0.75"/><circle cx="606.6" cy="510.7" r="0.71" fill="#a02870" opacity="0.75"/><circle cx="642.0" cy="490.7" r="0.98" fill="#3a58e0" opacity="0.75"/><circle cx="645.0" cy="540.1" r="0.88" fill="#a02870" opacity="0.75"/><circle cx="601.1" cy="535.0" r="1.02" fill="#b03060" opacity="0.75"/><circle cx="593.3" cy="499.7" r="0.61" fill="#2a48c0" opacity="0.75"/><circle cx="682.4" cy="524.7" r="0.86" fill="#2a48c0" opacity="0.75"/><circle cx="644.2" cy="511.0" r="1.05" fill="#a02870" opacity="0.75"/><circle cx="709.9" cy="553.7" r="1.17" fill="#b03060" opacity="0.75"/><circle cx="693.9" cy="546.1" r="1.15" fill="#b03060" opacity="0.75"/><circle cx="587.4" cy="514.6" r="0.93" fill="#a02870" opacity="0.75"/><circle cx="715.8" cy="491.9" r="1.00" fill="#2a48c0" opacity="0.75"/><circle cx="683.3" cy="540.5" r="1.20" fill="#2a48c0" opacity="0.75"/><circle cx="589.5" cy="550.9" r="0.96" fill="#a02870" opacity="0.75"/><circle cx="664.1" cy="517.8" r="0.74" fill="#b03060" opacity="0.75"/><circle cx="621.6" cy="518.5" r="1.08" fill="#2a48c0" opacity="0.75"/><circle cx="729.8" cy="551.2" r="0.70" fill="#b03060" opacity="0.75"/><circle cx="699.0" cy="545.8" r="1.05" fill="#b03060" opacity="0.75"/><circle cx="637.8" cy="509.0" r="0.86" fill="#3050d8" opacity="0.75"/><circle cx="592.1" cy="533.9" r="0.89" fill="#a02870" opacity="0.75"/><circle cx="728.1" cy="512.6" r="0.77" fill="#2a48c0" opacity="0.75"/><circle cx="724.0" cy="519.9" r="1.07" fill="#a02870" opacity="0.75"/><circle cx="666.1" cy="492.4" r="1.16" fill="#2a48c0" opacity="0.75"/><circle cx="720.6" cy="487.4" r="1.03" fill="#b03060" opacity="0.75"/><circle cx="691.5" cy="533.2" r="0.64" fill="#2a48c0" opacity="0.75"/><circle cx="682.3" cy="557.7" r="0.92" fill="#b03060" opacity="0.75"/><circle cx="593.8" cy="530.5" r="0.68" fill="#3050d8" opacity="0.75"/><circle cx="581.5" cy="530.3" r="0.73" fill="#b03060" opacity="0.75"/><circle cx="661.3" cy="555.5" r="0.67" fill="#3050d8" opacity="0.75"/><circle cx="652.4" cy="541.0" r="0.88" fill="#2a48c0" opacity="0.75"/><circle cx="685.6" cy="530.4" r="0.97" fill="#a02870" opacity="0.75"/><circle cx="622.3" cy="505.1" r="0.87" fill="#2a48c0" opacity="0.75"/><circle cx="732.5" cy="541.1" r="0.78" fill="#3050d8" opacity="0.75"/><circle cx="582.2" cy="532.3" r="1.10" fill="#a02870" opacity="0.75"/><circle cx="658.2" cy="551.3" r="0.76" fill="#3a58e0" opacity="0.75"/><circle cx="646.2" cy="500.5" r="0.83" fill="#3050d8" opacity="0.75"/><circle cx="650.8" cy="512.1" r="1.02" fill="#2a48c0" opacity="0.75"/><circle cx="604.8" cy="544.3" r="0.68" fill="#b03060" opacity="0.75"/><circle cx="674.3" cy="530.6" r="0.68" fill="#b03060" opacity="0.75"/><circle cx="586.1" cy="522.2" r="1.14" fill="#b03060" opacity="0.75"/><circle cx="593.6" cy="554.7" r="0.72" fill="#3a58e0" opacity="0.75"/><circle cx="629.5" cy="511.9" r="0.96" fill="#3a58e0" opacity="0.75"/><circle cx="688.8" cy="556.6" r="0.80" fill="#b03060" opacity="0.75"/><circle cx="664.6" cy="504.5" r="1.16" fill="#b03060" opacity="0.75"/><circle cx="719.6" cy="493.6" r="1.16" fill="#b03060" opacity="0.75"/><circle cx="592.9" cy="495.6" r="0.70" fill="#3050d8" opacity="0.75"/><circle cx="656.7" cy="507.5" r="0.69" fill="#2a48c0" opacity="0.75"/><circle cx="580.9" cy="493.3" r="0.79" fill="#3050d8" opacity="0.75"/><circle cx="667.5" cy="511.6" r="0.95" fill="#a02870" opacity="0.75"/><circle cx="608.9" cy="556.6" r="0.85" fill="#a02870" opacity="0.75"/><circle cx="689.5" cy="542.5" r="0.73" fill="#3a58e0" opacity="0.75"/><circle cx="626.2" cy="548.8" r="1.14" fill="#a02870" opacity="0.75"/><circle cx="670.3" cy="528.8" r="0.97" fill="#a02870" opacity="0.75"/><circle cx="697.4" cy="530.7" r="0.99" fill="#3050d8" opacity="0.75"/><circle cx="661.5" cy="504.0" r="0.64" fill="#3050d8" opacity="0.75"/><circle cx="644.6" cy="552.4" r="1.02" fill="#b03060" opacity="0.75"/><circle cx="710.0" cy="497.4" r="1.05" fill="#3050d8" opacity="0.75"/><circle cx="684.5" cy="530.5" r="0.82" fill="#3a58e0" opacity="0.75"/><circle cx="623.7" cy="530.5" r="1.02" fill="#3050d8" opacity="0.75"/><circle cx="711.5" cy="545.5" r="0.69" fill="#3050d8" opacity="0.75"/><circle cx="668.1" cy="500.9" r="1.07" fill="#a02870" opacity="0.75"/><circle cx="703.5" cy="499.4" r="0.94" fill="#3a58e0" opacity="0.75"/><circle cx="605.0" cy="529.9" r="1.15" fill="#b03060" opacity="0.75"/><circle cx="592.8" cy="540.6" r="0.71" fill="#b03060" opacity="0.75"/><circle cx="726.3" cy="541.5" r="1.03" fill="#a02870" opacity="0.75"/><circle cx="633.7" cy="510.9" r="0.63" fill="#b03060" opacity="0.75"/><circle cx="681.8" cy="544.4" r="0.98" fill="#3a58e0" opacity="0.75"/><circle cx="611.8" cy="534.1" r="1.05" fill="#2a48c0" opacity="0.75"/><circle cx="618.0" cy="504.4" r="1.04" fill="#a02870" opacity="0.75"/><circle cx="626.0" cy="505.2" r="0.68" fill="#3050d8" opacity="0.75"/><circle cx="588.1" cy="534.0" r="0.70" fill="#b03060" opacity="0.75"/><circle cx="623.4" cy="547.2" r="1.19" fill="#3050d8" opacity="0.75"/><circle cx="733.0" cy="543.8" r="0.79" fill="#b03060" opacity="0.75"/><circle cx="693.5" cy="552.3" r="0.87" fill="#b03060" opacity="0.75"/><circle cx="692.1" cy="551.5" r="1.00" fill="#3050d8" opacity="0.75"/><circle cx="654.9" cy="494.6" r="0.62" fill="#a02870" opacity="0.75"/><circle cx="673.7" cy="523.7" r="0.74" fill="#3a58e0" opacity="0.75"/><circle cx="610.7" cy="539.8" r="0.80" fill="#b03060" opacity="0.75"/><circle cx="708.6" cy="503.6" r="0.67" fill="#2a48c0" opacity="0.75"/><circle cx="606.7" cy="510.8" r="0.79" fill="#3a58e0" opacity="0.75"/><circle cx="702.3" cy="520.6" r="0.66" fill="#2a48c0" opacity="0.75"/><circle cx="715.8" cy="493.1" r="1.01" fill="#3a58e0" opacity="0.75"/><circle cx="642.6" cy="529.4" r="0.64" fill="#b03060" opacity="0.75"/><circle cx="682.5" cy="524.1" r="0.62" fill="#3a58e0" opacity="0.75"/><circle cx="635.8" cy="521.2" r="1.13" fill="#2a48c0" opacity="0.75"/><circle cx="702.4" cy="552.4" r="0.90" fill="#3a58e0" opacity="0.75"/><circle cx="689.0" cy="504.4" r="1.01" fill="#3a58e0" opacity="0.75"/><circle cx="596.9" cy="539.9" r="0.88" fill="#a02870" opacity="0.75"/><circle cx="679.5" cy="548.6" r="0.79" fill="#a02870" opacity="0.75"/><circle cx="649.2" cy="525.8" r="1.11" fill="#3050d8" opacity="0.75"/><circle cx="602.8" cy="499.2" r="0.87" fill="#b03060" opacity="0.75"/><circle cx="639.4" cy="545.8" r="0.87" fill="#2a48c0" opacity="0.75"/><circle cx="733.0" cy="515.1" r="1.07" fill="#2a48c0" opacity="0.75"/><circle cx="644.7" cy="530.5" r="0.84" fill="#2a48c0" opacity="0.75"/><circle cx="598.6" cy="513.7" r="0.68" fill="#a02870" opacity="0.75"/><circle cx="589.8" cy="551.6" r="0.99" fill="#3050d8" opacity="0.75"/><circle cx="672.5" cy="499.5" r="0.83" fill="#2a48c0" opacity="0.75"/><circle cx="600.2" cy="548.2" r="0.90" fill="#a02870" opacity="0.75"/><circle cx="592.4" cy="554.2" r="0.84" fill="#2a48c0" opacity="0.75"/><circle cx="601.0" cy="534.2" r="0.82" fill="#b03060" opacity="0.75"/><circle cx="649.2" cy="546.3" r="1.01" fill="#a02870" opacity="0.75"/><circle cx="635.5" cy="556.5" r="0.60" fill="#a02870" opacity="0.75"/><circle cx="589.9" cy="550.2" r="1.10" fill="#a02870" opacity="0.75"/><circle cx="626.7" cy="510.8" r="0.87" fill="#3050d8" opacity="0.75"/><circle cx="654.1" cy="514.7" r="1.01" fill="#3050d8" opacity="0.75"/><circle cx="732.4" cy="555.5" r="0.83" fill="#b03060" opacity="0.75"/><circle cx="633.0" cy="538.9" r="0.91" fill="#b03060" opacity="0.75"/><circle cx="621.3" cy="551.3" r="0.69" fill="#3050d8" opacity="0.75"/><circle cx="679.9" cy="529.6" r="0.69" fill="#2a48c0" opacity="0.75"/><circle cx="669.3" cy="493.5" r="0.93" fill="#a02870" opacity="0.75"/><circle cx="657.1" cy="494.4" r="0.66" fill="#b03060" opacity="0.75"/><circle cx="716.3" cy="546.1" r="1.02" fill="#a02870" opacity="0.75"/><circle cx="585.7" cy="520.6" r="1.09" fill="#3050d8" opacity="0.75"/><circle cx="629.4" cy="531.9" r="0.87" fill="#3050d8" opacity="0.75"/><circle cx="651.0" cy="540.2" r="0.67" fill="#3050d8" opacity="0.75"/><circle cx="713.1" cy="500.0" r="0.87" fill="#3050d8" opacity="0.75"/><circle cx="633.9" cy="495.7" r="0.83" fill="#b03060" opacity="0.75"/><circle cx="627.9" cy="540.7" r="0.74" fill="#3a58e0" opacity="0.75"/><circle cx="667.3" cy="508.7" r="0.70" fill="#b03060" opacity="0.75"/><circle cx="720.9" cy="513.8" r="0.97" fill="#3a58e0" opacity="0.75"/><circle cx="598.2" cy="511.5" r="1.05" fill="#3a58e0" opacity="0.75"/><circle cx="645.4" cy="520.3" r="0.93" fill="#3050d8" opacity="0.75"/><circle cx="700.0" cy="547.7" r="0.98" fill="#b03060" opacity="0.75"/><circle cx="697.1" cy="516.7" r="0.81" fill="#b03060" opacity="0.75"/><circle cx="582.3" cy="523.4" r="0.90" fill="#a02870" opacity="0.75"/><circle cx="718.4" cy="513.5" r="1.10" fill="#3a58e0" opacity="0.75"/><circle cx="588.1" cy="529.2" r="0.67" fill="#b03060" opacity="0.75"/><circle cx="628.1" cy="554.5" r="0.79" fill="#a02870" opacity="0.75"/><circle cx="715.9" cy="533.1" r="0.97" fill="#3a58e0" opacity="0.75"/><circle cx="623.2" cy="530.6" r="0.77" fill="#2a48c0" opacity="0.75"/><circle cx="614.1" cy="526.6" r="0.65" fill="#b03060" opacity="0.75"/><circle cx="620.3" cy="499.8" r="0.90" fill="#b03060" opacity="0.75"/><circle cx="700.8" cy="527.2" r="1.00" fill="#3050d8" opacity="0.75"/><circle cx="698.6" cy="550.6" r="0.98" fill="#2a48c0" opacity="0.75"/><circle cx="588.6" cy="514.9" r="0.78" fill="#3050d8" opacity="0.75"/><circle cx="603.9" cy="532.9" r="1.03" fill="#3a58e0" opacity="0.75"/><circle cx="587.8" cy="496.1" r="0.73" fill="#a02870" opacity="0.75"/><circle cx="679.5" cy="553.2" r="0.87" fill="#b03060" opacity="0.75"/><circle cx="645.8" cy="514.7" r="0.90" fill="#2a48c0" opacity="0.75"/><circle cx="632.5" cy="546.6" r="0.89" fill="#2a48c0" opacity="0.75"/><circle cx="616.3" cy="504.3" r="0.93" fill="#3050d8" opacity="0.75"/><circle cx="716.1" cy="505.7" r="0.64" fill="#3a58e0" opacity="0.75"/><circle cx="705.2" cy="499.7" r="0.94" fill="#2a48c0" opacity="0.75"/><circle cx="727.3" cy="524.6" r="1.10" fill="#3050d8" opacity="0.75"/><circle cx="633.9" cy="529.5" r="1.19" fill="#b03060" opacity="0.75"/><circle cx="639.1" cy="541.9" r="0.82" fill="#3050d8" opacity="0.75"/><circle cx="609.8" cy="500.6" r="0.67" fill="#b03060" opacity="0.75"/><circle cx="624.7" cy="546.9" r="0.91" fill="#3050d8" opacity="0.75"/><circle cx="706.8" cy="523.6" r="1.17" fill="#2a48c0" opacity="0.75"/><circle cx="711.8" cy="501.0" r="0.79" fill="#2a48c0" opacity="0.75"/><circle cx="599.3" cy="519.9" r="0.89" fill="#3a58e0" opacity="0.75"/><circle cx="617.0" cy="540.3" r="0.94" fill="#3050d8" opacity="0.75"/><circle cx="599.6" cy="536.2" r="0.62" fill="#b03060" opacity="0.75"/><circle cx="713.5" cy="517.0" r="0.86" fill="#b03060" opacity="0.75"/><circle cx="633.3" cy="531.7" r="0.66" fill="#a02870" opacity="0.75"/><circle cx="664.3" cy="492.9" r="1.13" fill="#3050d8" opacity="0.75"/><circle cx="620.7" cy="550.3" r="0.76" fill="#b03060" opacity="0.75"/><circle cx="611.6" cy="491.8" r="1.15" fill="#3050d8" opacity="0.75"/><circle cx="638.0" cy="490.7" r="0.73" fill="#2a48c0" opacity="0.75"/><circle cx="638.8" cy="513.2" r="0.61" fill="#b03060" opacity="0.75"/><circle cx="722.1" cy="515.2" r="0.91" fill="#a02870" opacity="0.75"/><circle cx="676.5" cy="500.8" r="0.91" fill="#3a58e0" opacity="0.75"/><circle cx="663.6" cy="548.6" r="0.67" fill="#b03060" opacity="0.75"/><circle cx="626.0" cy="501.0" r="0.88" fill="#b03060" opacity="0.75"/><circle cx="661.3" cy="500.6" r="0.83" fill="#2a48c0" opacity="0.75"/><circle cx="642.2" cy="508.6" r="1.03" fill="#a02870" opacity="0.75"/><circle cx="615.9" cy="514.1" r="0.91" fill="#a02870" opacity="0.75"/><circle cx="589.1" cy="528.3" r="0.93" fill="#2a48c0" opacity="0.75"/><circle cx="713.6" cy="502.1" r="1.20" fill="#3a58e0" opacity="0.75"/><circle cx="669.1" cy="555.1" r="1.11" fill="#a02870" opacity="0.75"/><circle cx="659.7" cy="539.0" r="0.73" fill="#3a58e0" opacity="0.75"/><circle cx="605.8" cy="522.4" r="0.74" fill="#a02870" opacity="0.75"/><circle cx="692.1" cy="524.3" r="0.62" fill="#2a48c0" opacity="0.75"/><circle cx="588.3" cy="487.8" r="1.03" fill="#a02870" opacity="0.75"/><circle cx="644.5" cy="543.8" r="0.78" fill="#a02870" opacity="0.75"/><circle cx="638.3" cy="552.4" r="1.12" fill="#2a48c0" opacity="0.75"/><circle cx="618.0" cy="537.6" r="1.08" fill="#2a48c0" opacity="0.75"/><circle cx="632.4" cy="511.4" r="0.62" fill="#3050d8" opacity="0.75"/><circle cx="703.7" cy="534.9" r="0.79" fill="#2a48c0" opacity="0.75"/><circle cx="668.3" cy="529.5" r="1.06" fill="#b03060" opacity="0.75"/><circle cx="597.8" cy="546.1" r="1.05" fill="#3050d8" opacity="0.75"/><circle cx="617.7" cy="489.8" r="0.96" fill="#3050d8" opacity="0.75"/><circle cx="647.7" cy="544.5" r="0.95" fill="#2a48c0" opacity="0.75"/><circle cx="681.0" cy="518.1" r="1.11" fill="#a02870" opacity="0.75"/><circle cx="726.0" cy="536.8" r="0.76" fill="#3050d8" opacity="0.75"/><circle cx="655.8" cy="515.7" r="0.78" fill="#b03060" opacity="0.75"/><circle cx="596.9" cy="545.5" r="0.61" fill="#3a58e0" opacity="0.75"/><circle cx="704.7" cy="493.0" r="0.66" fill="#3a58e0" opacity="0.75"/><circle cx="616.4" cy="521.8" r="0.73" fill="#b03060" opacity="0.75"/><circle cx="602.9" cy="496.4" r="1.08" fill="#b03060" opacity="0.75"/><circle cx="618.5" cy="509.1" r="0.91" fill="#b03060" opacity="0.75"/><circle cx="633.0" cy="518.0" r="1.03" fill="#b03060" opacity="0.75"/><circle cx="705.4" cy="540.5" r="0.70" fill="#a02870" opacity="0.75"/><circle cx="614.8" cy="515.0" r="0.79" fill="#2a48c0" opacity="0.75"/><circle cx="704.7" cy="506.9" r="1.19" fill="#3050d8" opacity="0.75"/><circle cx="667.7" cy="528.7" r="0.67" fill="#2a48c0" opacity="0.75"/><circle cx="726.9" cy="493.8" r="0.91" fill="#a02870" opacity="0.75"/><circle cx="650.9" cy="499.4" r="1.12" fill="#2a48c0" opacity="0.75"/><circle cx="639.9" cy="520.4" r="1.00" fill="#b03060" opacity="0.75"/><circle cx="690.9" cy="536.6" r="0.81" fill="#3050d8" opacity="0.75"/><circle cx="709.1" cy="540.8" r="1.13" fill="#b03060" opacity="0.75"/><circle cx="619.8" cy="500.2" r="0.75" fill="#2a48c0" opacity="0.75"/><circle cx="651.4" cy="490.6" r="0.91" fill="#a02870" opacity="0.75"/><circle cx="594.5" cy="537.3" r="0.98" fill="#2a48c0" opacity="0.75"/><circle cx="624.6" cy="545.0" r="0.65" fill="#b03060" opacity="0.75"/><circle cx="703.1" cy="529.4" r="0.61" fill="#3a58e0" opacity="0.75"/><circle cx="640.9" cy="488.7" r="1.19" fill="#3a58e0" opacity="0.75"/><circle cx="689.2" cy="528.6" r="0.68" fill="#2a48c0" opacity="0.75"/><circle cx="730.9" cy="513.5" r="0.98" fill="#a02870" opacity="0.75"/><circle cx="724.7" cy="492.7" r="0.72" fill="#b03060" opacity="0.75"/><circle cx="657.2" cy="538.1" r="1.08" fill="#a02870" opacity="0.75"/><circle cx="668.1" cy="505.2" r="0.82" fill="#a02870" opacity="0.75"/><circle cx="588.1" cy="533.5" r="0.62" fill="#2a48c0" opacity="0.75"/><circle cx="617.5" cy="511.4" r="0.76" fill="#b03060" opacity="0.75"/><circle cx="668.8" cy="493.8" r="1.02" fill="#3a58e0" opacity="0.75"/><circle cx="714.8" cy="513.9" r="0.76" fill="#2a48c0" opacity="0.75"/><circle cx="613.4" cy="551.0" r="1.12" fill="#a02870" opacity="0.75"/><circle cx="667.8" cy="532.1" r="0.84" fill="#3050d8" opacity="0.75"/><circle cx="700.4" cy="531.2" r="0.92" fill="#3a58e0" opacity="0.75"/><circle cx="589.7" cy="521.4" r="1.02" fill="#2a48c0" opacity="0.75"/><circle cx="712.7" cy="521.8" r="0.97" fill="#3050d8" opacity="0.75"/><circle cx="607.6" cy="516.3" r="0.97" fill="#3050d8" opacity="0.75"/><circle cx="603.8" cy="487.8" r="0.69" fill="#3a58e0" opacity="0.75"/><circle cx="692.4" cy="510.1" r="0.79" fill="#3050d8" opacity="0.75"/><circle cx="688.6" cy="511.9" r="0.64" fill="#2a48c0" opacity="0.75"/><circle cx="730.8" cy="503.5" r="1.11" fill="#3a58e0" opacity="0.75"/><circle cx="642.2" cy="534.6" r="1.07" fill="#b03060" opacity="0.75"/><circle cx="613.1" cy="489.2" r="0.82" fill="#b03060" opacity="0.75"/><circle cx="703.4" cy="507.3" r="0.63" fill="#3050d8" opacity="0.75"/><circle cx="666.3" cy="497.6" r="0.60" fill="#2a48c0" opacity="0.75"/><circle cx="624.7" cy="500.4" r="0.76" fill="#3050d8" opacity="0.75"/><circle cx="641.0" cy="500.7" r="0.85" fill="#3050d8" opacity="0.75"/><circle cx="706.9" cy="513.4" r="1.02" fill="#2a48c0" opacity="0.75"/><circle cx="718.3" cy="551.8" r="1.09" fill="#3a58e0" opacity="0.75"/><circle cx="616.2" cy="489.2" r="1.01" fill="#3a58e0" opacity="0.75"/><circle cx="675.1" cy="527.4" r="0.96" fill="#2a48c0" opacity="0.75"/><circle cx="660.3" cy="528.1" r="1.13" fill="#3a58e0" opacity="0.75"/><circle cx="730.2" cy="549.2" r="0.78" fill="#3a58e0" opacity="0.75"/><circle cx="602.7" cy="517.7" r="0.98" fill="#3050d8" opacity="0.75"/><circle cx="719.8" cy="527.4" r="0.84" fill="#b03060" opacity="0.75"/><circle cx="684.6" cy="513.3" r="1.13" fill="#3a58e0" opacity="0.75"/><circle cx="630.6" cy="498.6" r="1.04" fill="#b03060" opacity="0.75"/><circle cx="642.6" cy="544.9" r="0.60" fill="#b03060" opacity="0.75"/><circle cx="708.7" cy="549.1" r="1.08" fill="#2a48c0" opacity="0.75"/><circle cx="645.4" cy="516.9" r="1.10" fill="#3050d8" opacity="0.75"/><circle cx="594.8" cy="499.7" r="0.89" fill="#b03060" opacity="0.75"/><circle cx="582.3" cy="500.5" r="1.15" fill="#a02870" opacity="0.75"/><circle cx="605.1" cy="497.7" r="0.94" fill="#3050d8" opacity="0.75"/><circle cx="581.6" cy="555.0" r="0.76" fill="#2a48c0" opacity="0.75"/><circle cx="640.2" cy="555.3" r="0.66" fill="#3050d8" opacity="0.75"/><circle cx="668.5" cy="553.8" r="1.10" fill="#2a48c0" opacity="0.75"/><circle cx="723.6" cy="514.5" r="1.09" fill="#3a58e0" opacity="0.75"/><circle cx="671.6" cy="546.3" r="1.15" fill="#2a48c0" opacity="0.75"/><circle cx="719.0" cy="548.7" r="1.06" fill="#2a48c0" opacity="0.75"/><circle cx="608.5" cy="538.4" r="0.77" fill="#a02870" opacity="0.75"/><circle cx="713.7" cy="556.1" r="0.85" fill="#a02870" opacity="0.75"/><circle cx="595.8" cy="486.5" r="0.68" fill="#3a58e0" opacity="0.75"/><circle cx="580.3" cy="508.2" r="0.86" fill="#2a48c0" opacity="0.75"/><circle cx="689.4" cy="498.4" r="0.94" fill="#3a58e0" opacity="0.75"/><circle cx="663.5" cy="544.1" r="0.84" fill="#3a58e0" opacity="0.75"/><circle cx="597.7" cy="522.7" r="0.73" fill="#3a58e0" opacity="0.75"/><circle cx="704.0" cy="546.9" r="1.01" fill="#3a58e0" opacity="0.75"/><circle cx="732.4" cy="518.2" r="0.80" fill="#a02870" opacity="0.75"/><circle cx="722.0" cy="490.2" r="1.03" fill="#3050d8" opacity="0.75"/><circle cx="589.6" cy="497.9" r="1.16" fill="#a02870" opacity="0.75"/><circle cx="595.3" cy="530.3" r="1.16" fill="#2a48c0" opacity="0.75"/><circle cx="714.6" cy="498.4" r="1.18" fill="#3050d8" opacity="0.75"/><circle cx="597.2" cy="488.1" r="1.17" fill="#3050d8" opacity="0.75"/><circle cx="639.4" cy="541.0" r="0.70" fill="#2a48c0" opacity="0.75"/><circle cx="608.7" cy="549.2" r="0.69" fill="#3a58e0" opacity="0.75"/><circle cx="645.4" cy="487.4" r="0.69" fill="#b03060" opacity="0.75"/><circle cx="634.8" cy="555.3" r="0.89" fill="#2a48c0" opacity="0.75"/><circle cx="666.9" cy="488.6" r="0.63" fill="#3a58e0" opacity="0.75"/><circle cx="685.9" cy="511.5" r="0.63" fill="#2a48c0" opacity="0.75"/><circle cx="662.6" cy="501.3" r="0.74" fill="#3050d8" opacity="0.75"/><circle cx="602.7" cy="534.9" r="0.76" fill="#2a48c0" opacity="0.75"/><circle cx="688.0" cy="489.2" r="1.02" fill="#3a58e0" opacity="0.75"/><path d="M633.5,520.8 q-1.4,-11.0 7.5,-18.4" stroke="#a08040" stroke-width="0.40" fill="none" opacity="0.42"/><path d="M655.2,518.9 q2.7,-13.6 -3.2,-23.0" stroke="#a08040" stroke-width="0.40" fill="none" opacity="0.42"/><path d="M661.9,524.6 q2.4,-12.1 -1.7,-26.9" stroke="#a08040" stroke-width="0.40" fill="none" opacity="0.42"/><path d="M635.8,519.9 q-4.5,-12.7 -2.7,-26.3" stroke="#a08040" stroke-width="0.40" fill="none" opacity="0.42"/><path d="M613.7,521.6 q4.6,-12.9 5.5,-28.0" stroke="#a08040" stroke-width="0.40" fill="none" opacity="0.42"/><path d="M695.7,518.4 q3.6,-13.5 4.9,-27.7" stroke="#a08040" stroke-width="0.40" fill="none" opacity="0.42"/><path d="M657.2,519.6 q0.4,-13.9 -2.0,-20.5" stroke="#a08040" stroke-width="0.40" fill="none" opacity="0.42"/><path d="M667.7,524.9 q1.5,-12.6 -7.5,-28.4" stroke="#a08040" stroke-width="0.40" fill="none" opacity="0.42"/><path d="M627.0,523.7 q3.0,-12.7 -5.7,-27.6" stroke="#a08040" stroke-width="0.40" fill="none" opacity="0.42"/><path d="M581.3,524.4 q-3.7,-12.8 -1.5,-18.3" stroke="#a08040" stroke-width="0.40" fill="none" opacity="0.42"/><path d="M658.3,524.9 q-1.1,-11.1 5.5,-29.8" stroke="#a08040" stroke-width="0.40" fill="none" opacity="0.42"/><path d="M651.1,521.4 q1.3,-10.5 -0.7,-25.7" stroke="#a08040" stroke-width="0.40" fill="none" opacity="0.42"/><path d="M594.9,519.5 q-0.5,-11.3 -7.5,-23.3" stroke="#a08040" stroke-width="0.40" fill="none" opacity="0.42"/><path d="M713.4,524.0 q-4.7,-9.6 7.6,-28.9" stroke="#a08040" stroke-width="0.40" fill="none" opacity="0.42"/><path d="M616.7,520.6 q1.6,-9.8 5.8,-22.4" stroke="#a08040" stroke-width="0.40" fill="none" opacity="0.42"/><path d="M675.2,524.6 q-4.8,-10.8 -3.8,-25.1" stroke="#a08040" stroke-width="0.40" fill="none" opacity="0.42"/><path d="M697.1,522.4 q-4.6,-9.9 -7.1,-16.2" stroke="#a08040" stroke-width="0.40" fill="none" opacity="0.42"/><path d="M676.4,523.4 q4.2,-8.9 7.9,-29.3" stroke="#a08040" stroke-width="0.40" fill="none" opacity="0.42"/><path d="M697.9,524.0 q-0.9,-13.7 1.8,-19.9" stroke="#a08040" stroke-width="0.40" fill="none" opacity="0.42"/><path d="M613.3,523.3 q4.8,-12.4 -3.5,-22.2" stroke="#a08040" stroke-width="0.40" fill="none" opacity="0.42"/><path d="M650.2,518.3 q1.5,-10.9 0.9,-29.7" stroke="#a08040" stroke-width="0.40" fill="none" opacity="0.42"/><path d="M732.2,521.0 q-2.9,-9.6 -7.3,-21.4" stroke="#a08040" stroke-width="0.40" fill="none" opacity="0.42"/><path d="M703.0,521.3 q4.9,-12.4 -6.6,-21.8" stroke="#a08040" stroke-width="0.40" fill="none" opacity="0.42"/><path d="M635.7,521.0 q2.3,-10.4 1.1,-26.9" stroke="#a08040" stroke-width="0.40" fill="none" opacity="0.42"/><path d="M692.2,518.2 q-1.8,-8.5 5.8,-20.4" stroke="#a08040" stroke-width="0.40" fill="none" opacity="0.42"/><path d="M581.7,521.5 q2.4,-8.9 -1.6,-16.4" stroke="#a08040" stroke-width="0.40" fill="none" opacity="0.42"/><path d="M691.4,520.6 q-2.3,-10.1 -2.1,-28.3" stroke="#a08040" stroke-width="0.40" fill="none" opacity="0.42"/><path d="M584.4,523.8 q1.0,-9.6 -3.4,-29.6" stroke="#a08040" stroke-width="0.40" fill="none" opacity="0.42"/><path d="M728.4,523.8 q-0.8,-9.0 7.2,-25.9" stroke="#a08040" stroke-width="0.40" fill="none" opacity="0.42"/><path d="M581.3,525.5 q2.1,-12.5 -5.0,-25.5" stroke="#a08040" stroke-width="0.40" fill="none" opacity="0.42"/><path d="M605.3,522.9 q3.6,-11.3 -0.7,-23.1" stroke="#a08040" stroke-width="0.40" fill="none" opacity="0.42"/><path d="M733.0,522.4 q-3.2,-13.6 2.2,-22.8" stroke="#a08040" stroke-width="0.40" fill="none" opacity="0.42"/><path d="M729.6,523.2 q2.9,-10.4 7.2,-25.5" stroke="#a08040" stroke-width="0.40" fill="none" opacity="0.42"/><path d="M620.0,523.7 q4.2,-10.4 -5.0,-17.1" stroke="#a08040" stroke-width="0.40" fill="none" opacity="0.42"/><path d="M640.7,518.9 q-2.5,-13.6 3.6,-20.7" stroke="#a08040" stroke-width="0.40" fill="none" opacity="0.42"/><path d="M725.2,524.6 q0.4,-11.9 -6.7,-27.5" stroke="#a08040" stroke-width="0.40" fill="none" opacity="0.42"/><path d="M626.8,520.2 q0.4,-13.6 7.7,-28.8" stroke="#a08040" stroke-width="0.40" fill="none" opacity="0.42"/><path d="M714.7,521.2 q3.8,-8.3 -4.2,-21.8" stroke="#a08040" stroke-width="0.40" fill="none" opacity="0.42"/><path d="M644.8,524.1 q-3.8,-8.2 -7.1,-19.6" stroke="#a08040" stroke-width="0.40" fill="none" opacity="0.42"/><path d="M663.6,518.6 q-3.8,-13.7 4.2,-25.4" stroke="#a08040" stroke-width="0.40" fill="none" opacity="0.42"/><ellipse cx="600.5" cy="517.6" rx="1.9" ry="2.4" fill="#40d080"/><ellipse cx="604.9" cy="531.7" rx="1.9" ry="2.4" fill="#40d080"/><ellipse cx="655.8" cy="511.3" rx="1.9" ry="2.4" fill="#40d080"/><ellipse cx="686.7" cy="504.1" rx="1.9" ry="2.4" fill="#40d080"/><ellipse cx="696.5" cy="512.8" rx="1.9" ry="2.4" fill="#40d080"/><ellipse cx="716.8" cy="522.2" rx="1.9" ry="2.4" fill="#40d080"/><ellipse cx="610.3" cy="501.2" rx="2.3" ry="2.7" fill="#f0a020"/><ellipse cx="604.2" cy="521.5" rx="2.1" ry="2.7" fill="#f0c030"/><circle cx="604.2" cy="521.5" r="4.6" fill="none" stroke="#fff" stroke-width="1" stroke-dasharray="1.2 1"/><ellipse cx="631.1" cy="520.8" rx="2.1" ry="2.7" fill="#f0c030"/><circle cx="631.1" cy="520.8" r="4.6" fill="none" stroke="#fff" stroke-width="1" stroke-dasharray="1.2 1"/><ellipse cx="674.0" cy="503.4" rx="2.1" ry="2.7" fill="#f0c030"/><circle cx="674.0" cy="503.4" r="4.6" fill="none" stroke="#fff" stroke-width="1" stroke-dasharray="1.2 1"/><ellipse cx="676.9" cy="507.7" rx="2.1" ry="2.7" fill="#f0c030"/><circle cx="676.9" cy="507.7" r="4.6" fill="none" stroke="#fff" stroke-width="1" stroke-dasharray="1.2 1"/><ellipse cx="694.3" cy="500.4" rx="2.1" ry="2.7" fill="#f0c030"/><circle cx="694.3" cy="500.4" r="4.6" fill="none" stroke="#fff" stroke-width="1" stroke-dasharray="1.2 1"/><ellipse cx="710.3" cy="509.9" rx="2.1" ry="2.7" fill="#f0c030"/><circle cx="710.3" cy="509.9" r="4.6" fill="none" stroke="#fff" stroke-width="1" stroke-dasharray="1.2 1"/><rect x="580.2" y="485.6" width="153.0999999999999" height="72.29999999999995" fill="#000" filter="url(#grain)" opacity="0.22"/></g><line x1="673.2" y1="546.2" x2="690" y2="546.2" stroke="#fff" stroke-width="0.9"/><text x="681.6" y="545.0" font-size="7" text-anchor="middle" fill="#fff">50 um</text><clipPath id="ll2"><rect x="580.2" y="564.2" width="153.0999999999999" height="72.19999999999993"/></clipPath><g clip-path="url(#ll2)"><rect x="580.2" y="564.2" width="153.0999999999999" height="72.19999999999993" fill="#2a1c40"/><path d="M560.0,628.0 L580.2,620.0 L607.0,610.0 L636.1,595.4 L665.2,579.4 L679.8,564.2 L690.0,550.0 L750.0,550.0 L750.0,610.0 L733.3,610.0 L708.8,605.6 L687.0,604.2 L672.5,610.0 L643.4,620.1 L614.3,636.4 L600.0,650.0 L560.0,650.0 Z" fill="#2444b0" filter="url(#blur1)"/><path d="M680.0,550.0 L750.0,550.0 L750.0,600.0 L700.0,600.0 L680.0,590.0 Z" fill="#3a3aa0" filter="url(#blur2)" opacity="0.5"/><path d="M560.0,550.0 L680.0,550.0 L640.0,580.0 L600.0,605.0 L560.0,630.0 Z" fill="#3a2a70" filter="url(#blur2)" opacity="0.5"/><circle cx="620.5" cy="619.4" r="0.97" fill="#8a3080" opacity="0.7"/><circle cx="619.8" cy="619.0" r="1.22" fill="#3a58e0" opacity="0.7"/><circle cx="590.0" cy="624.6" r="1.12" fill="#3050d8" opacity="0.7"/><circle cx="624.8" cy="593.5" r="1.27" fill="#3a58e0" opacity="0.7"/><circle cx="670.5" cy="584.9" r="0.80" fill="#8a3080" opacity="0.7"/><circle cx="680.1" cy="627.2" r="0.73" fill="#3050d8" opacity="0.7"/><circle cx="649.5" cy="632.7" r="1.19" fill="#2a48c0" opacity="0.7"/><circle cx="615.8" cy="591.4" r="1.15" fill="#2a48c0" opacity="0.7"/><circle cx="708.6" cy="597.9" r="1.06" fill="#3a58e0" opacity="0.7"/><circle cx="613.1" cy="608.9" r="1.24" fill="#3050d0" opacity="0.7"/><circle cx="633.4" cy="629.0" r="1.14" fill="#3050d8" opacity="0.7"/><circle cx="599.1" cy="621.5" r="1.05" fill="#3050d0" opacity="0.7"/><circle cx="662.3" cy="599.6" r="1.22" fill="#2a48c0" opacity="0.7"/><circle cx="679.5" cy="630.6" r="0.85" fill="#3050d0" opacity="0.7"/><circle cx="716.9" cy="573.6" r="0.91" fill="#3050d8" opacity="0.7"/><circle cx="655.5" cy="621.1" r="1.39" fill="#3a58e0" opacity="0.7"/><circle cx="615.3" cy="615.1" r="1.05" fill="#3a58e0" opacity="0.7"/><circle cx="652.3" cy="576.1" r="1.16" fill="#3050d0" opacity="0.7"/><circle cx="657.1" cy="609.0" r="0.95" fill="#3050d8" opacity="0.7"/><circle cx="678.4" cy="569.5" r="1.29" fill="#3050d8" opacity="0.7"/><circle cx="581.8" cy="597.0" r="0.73" fill="#3a58e0" opacity="0.7"/><circle cx="716.6" cy="634.1" r="1.05" fill="#3050d8" opacity="0.7"/><circle cx="645.8" cy="566.7" r="1.22" fill="#3050d8" opacity="0.7"/><circle cx="703.0" cy="564.5" r="1.28" fill="#3050d0" opacity="0.7"/><circle cx="595.3" cy="583.3" r="1.37" fill="#3050d8" opacity="0.7"/><circle cx="666.9" cy="578.4" r="1.28" fill="#2a48c0" opacity="0.7"/><circle cx="687.2" cy="591.4" r="1.18" fill="#8a3080" opacity="0.7"/><circle cx="652.8" cy="573.5" r="1.16" fill="#3a58e0" opacity="0.7"/><circle cx="602.8" cy="604.0" r="1.02" fill="#8a3080" opacity="0.7"/><circle cx="632.9" cy="594.8" r="1.19" fill="#3050d8" opacity="0.7"/><circle cx="672.8" cy="599.8" r="0.89" fill="#8a3080" opacity="0.7"/><circle cx="697.5" cy="614.8" r="0.95" fill="#8a3080" opacity="0.7"/><circle cx="601.6" cy="578.4" r="1.34" fill="#3050d8" opacity="0.7"/><circle cx="612.3" cy="625.9" r="1.07" fill="#3a58e0" opacity="0.7"/><circle cx="595.0" cy="621.1" r="1.35" fill="#3050d8" opacity="0.7"/><circle cx="646.7" cy="567.2" r="1.39" fill="#3050d0" opacity="0.7"/><circle cx="676.9" cy="633.8" r="1.02" fill="#2a48c0" opacity="0.7"/><circle cx="611.3" cy="594.8" r="0.84" fill="#3050d8" opacity="0.7"/><circle cx="639.5" cy="634.1" r="0.72" fill="#3050d8" opacity="0.7"/><circle cx="697.3" cy="593.5" r="1.10" fill="#3a58e0" opacity="0.7"/><circle cx="660.7" cy="597.4" r="1.27" fill="#3050d0" opacity="0.7"/><circle cx="601.1" cy="590.0" r="1.02" fill="#8a3080" opacity="0.7"/><circle cx="731.5" cy="602.5" r="0.92" fill="#3050d0" opacity="0.7"/><circle cx="631.7" cy="635.5" r="1.12" fill="#3050d8" opacity="0.7"/><circle cx="592.5" cy="573.6" r="0.96" fill="#8a3080" opacity="0.7"/><circle cx="681.4" cy="576.1" r="1.06" fill="#3050d8" opacity="0.7"/><circle cx="597.1" cy="573.5" r="1.03" fill="#2a48c0" opacity="0.7"/><circle cx="639.2" cy="576.2" r="0.83" fill="#2a48c0" opacity="0.7"/><circle cx="609.9" cy="602.5" r="1.05" fill="#2a48c0" opacity="0.7"/><circle cx="685.6" cy="622.3" r="1.16" fill="#2a48c0" opacity="0.7"/><circle cx="658.2" cy="569.5" r="1.15" fill="#3050d0" opacity="0.7"/><circle cx="705.2" cy="572.1" r="1.33" fill="#8a3080" opacity="0.7"/><circle cx="726.6" cy="617.1" r="1.34" fill="#8a3080" opacity="0.7"/><circle cx="597.1" cy="579.6" r="0.89" fill="#3050d0" opacity="0.7"/><circle cx="656.7" cy="601.7" r="1.15" fill="#3050d0" opacity="0.7"/><circle cx="688.0" cy="599.3" r="0.89" fill="#2a48c0" opacity="0.7"/><circle cx="727.1" cy="581.1" r="1.29" fill="#2a48c0" opacity="0.7"/><circle cx="650.6" cy="616.4" r="0.75" fill="#3a58e0" opacity="0.7"/><circle cx="722.6" cy="618.5" r="1.02" fill="#3050d8" opacity="0.7"/><circle cx="708.5" cy="618.1" r="0.81" fill="#8a3080" opacity="0.7"/><circle cx="645.1" cy="606.9" r="0.90" fill="#3050d8" opacity="0.7"/><circle cx="638.1" cy="612.1" r="0.99" fill="#3050d8" opacity="0.7"/><circle cx="663.2" cy="604.3" r="0.88" fill="#8a3080" opacity="0.7"/><circle cx="584.1" cy="604.4" r="1.30" fill="#3050d0" opacity="0.7"/><circle cx="668.0" cy="579.5" r="1.01" fill="#2a48c0" opacity="0.7"/><circle cx="712.5" cy="595.0" r="0.92" fill="#3050d0" opacity="0.7"/><circle cx="605.6" cy="601.2" r="0.86" fill="#3a58e0" opacity="0.7"/><circle cx="664.2" cy="585.0" r="0.70" fill="#8a3080" opacity="0.7"/><circle cx="600.7" cy="629.0" r="0.95" fill="#3050d8" opacity="0.7"/><circle cx="641.6" cy="614.3" r="0.86" fill="#8a3080" opacity="0.7"/><circle cx="633.0" cy="635.0" r="0.73" fill="#3050d8" opacity="0.7"/><circle cx="638.1" cy="565.2" r="0.71" fill="#2a48c0" opacity="0.7"/><circle cx="695.5" cy="630.9" r="1.02" fill="#3050d8" opacity="0.7"/><circle cx="709.2" cy="570.3" r="1.13" fill="#3050d0" opacity="0.7"/><circle cx="679.4" cy="594.2" r="0.94" fill="#3a58e0" opacity="0.7"/><circle cx="717.5" cy="578.9" r="0.84" fill="#2a48c0" opacity="0.7"/><circle cx="616.8" cy="587.7" r="1.00" fill="#3050d0" opacity="0.7"/><circle cx="593.6" cy="626.7" r="0.88" fill="#2a48c0" opacity="0.7"/><circle cx="657.6" cy="574.6" r="1.01" fill="#3050d0" opacity="0.7"/><circle cx="669.0" cy="601.1" r="1.33" fill="#3050d8" opacity="0.7"/><circle cx="702.9" cy="602.6" r="1.29" fill="#2a48c0" opacity="0.7"/><circle cx="710.1" cy="619.9" r="0.93" fill="#3050d8" opacity="0.7"/><circle cx="725.2" cy="585.3" r="0.73" fill="#3050d8" opacity="0.7"/><circle cx="733.2" cy="571.7" r="0.93" fill="#3a58e0" opacity="0.7"/><circle cx="633.8" cy="619.5" r="1.11" fill="#3050d0" opacity="0.7"/><circle cx="660.3" cy="568.4" r="1.34" fill="#3050d8" opacity="0.7"/><circle cx="601.5" cy="567.7" r="0.92" fill="#2a48c0" opacity="0.7"/><circle cx="618.0" cy="582.3" r="1.03" fill="#3a58e0" opacity="0.7"/><circle cx="608.0" cy="577.7" r="1.07" fill="#2a48c0" opacity="0.7"/><circle cx="713.8" cy="612.3" r="0.71" fill="#3050d0" opacity="0.7"/><circle cx="611.3" cy="584.5" r="0.96" fill="#3a58e0" opacity="0.7"/><circle cx="668.2" cy="585.9" r="1.03" fill="#3050d0" opacity="0.7"/><circle cx="680.4" cy="577.5" r="1.35" fill="#2a48c0" opacity="0.7"/><circle cx="632.0" cy="578.5" r="0.86" fill="#3a58e0" opacity="0.7"/><circle cx="708.1" cy="587.4" r="1.33" fill="#3050d0" opacity="0.7"/><circle cx="674.4" cy="623.5" r="0.76" fill="#3050d0" opacity="0.7"/><circle cx="606.7" cy="581.3" r="0.73" fill="#3050d8" opacity="0.7"/><circle cx="727.6" cy="605.3" r="1.01" fill="#3050d8" opacity="0.7"/><circle cx="663.7" cy="610.5" r="1.00" fill="#3050d8" opacity="0.7"/><circle cx="635.8" cy="601.8" r="0.96" fill="#8a3080" opacity="0.7"/><circle cx="629.4" cy="621.0" r="1.23" fill="#3050d8" opacity="0.7"/><circle cx="623.9" cy="633.4" r="1.08" fill="#8a3080" opacity="0.7"/><circle cx="703.5" cy="601.6" r="0.93" fill="#3a58e0" opacity="0.7"/><circle cx="722.1" cy="589.2" r="0.71" fill="#8a3080" opacity="0.7"/><circle cx="626.1" cy="593.3" r="0.94" fill="#2a48c0" opacity="0.7"/><circle cx="624.4" cy="599.2" r="1.31" fill="#3a58e0" opacity="0.7"/><circle cx="685.7" cy="569.7" r="1.34" fill="#3a58e0" opacity="0.7"/><circle cx="596.1" cy="623.4" r="1.29" fill="#3a58e0" opacity="0.7"/><circle cx="722.8" cy="586.4" r="1.24" fill="#3050d8" opacity="0.7"/><circle cx="707.6" cy="607.8" r="1.16" fill="#8a3080" opacity="0.7"/><circle cx="638.8" cy="632.5" r="0.91" fill="#3050d0" opacity="0.7"/><circle cx="599.9" cy="567.5" r="1.26" fill="#2a48c0" opacity="0.7"/><circle cx="715.9" cy="620.6" r="0.93" fill="#8a3080" opacity="0.7"/><circle cx="657.9" cy="592.6" r="0.98" fill="#3a58e0" opacity="0.7"/><circle cx="613.0" cy="605.5" r="1.25" fill="#3050d8" opacity="0.7"/><circle cx="665.0" cy="613.2" r="0.87" fill="#3050d8" opacity="0.7"/><circle cx="716.3" cy="609.0" r="0.83" fill="#3a58e0" opacity="0.7"/><circle cx="638.4" cy="565.4" r="0.90" fill="#3a58e0" opacity="0.7"/><circle cx="601.2" cy="566.4" r="1.19" fill="#3050d8" opacity="0.7"/><circle cx="610.4" cy="584.1" r="0.92" fill="#3050d0" opacity="0.7"/><circle cx="596.5" cy="575.6" r="1.30" fill="#8a3080" opacity="0.7"/><circle cx="678.1" cy="574.5" r="1.16" fill="#8a3080" opacity="0.7"/><circle cx="623.3" cy="595.1" r="1.20" fill="#3a58e0" opacity="0.7"/><circle cx="592.6" cy="623.3" r="0.70" fill="#3050d0" opacity="0.7"/><circle cx="674.5" cy="568.3" r="1.36" fill="#3050d8" opacity="0.7"/><circle cx="637.9" cy="596.3" r="0.82" fill="#3a58e0" opacity="0.7"/><circle cx="715.9" cy="632.7" r="1.33" fill="#3050d0" opacity="0.7"/><circle cx="687.6" cy="628.1" r="1.33" fill="#3050d0" opacity="0.7"/><circle cx="652.3" cy="603.7" r="0.76" fill="#3050d0" opacity="0.7"/><circle cx="684.5" cy="623.8" r="1.33" fill="#8a3080" opacity="0.7"/><circle cx="606.0" cy="566.9" r="1.35" fill="#3a58e0" opacity="0.7"/><circle cx="652.9" cy="572.7" r="1.06" fill="#8a3080" opacity="0.7"/><circle cx="593.5" cy="632.4" r="1.33" fill="#3a58e0" opacity="0.7"/><circle cx="668.3" cy="611.6" r="1.06" fill="#3050d0" opacity="0.7"/><circle cx="723.9" cy="622.3" r="1.26" fill="#3050d8" opacity="0.7"/><circle cx="716.0" cy="566.9" r="1.11" fill="#3050d0" opacity="0.7"/><circle cx="700.6" cy="588.1" r="1.31" fill="#3a58e0" opacity="0.7"/><circle cx="650.0" cy="604.4" r="1.24" fill="#3050d8" opacity="0.7"/><circle cx="713.1" cy="566.8" r="0.93" fill="#3050d8" opacity="0.7"/><circle cx="627.3" cy="577.0" r="0.95" fill="#2a48c0" opacity="0.7"/><circle cx="601.3" cy="581.9" r="0.84" fill="#2a48c0" opacity="0.7"/><circle cx="602.1" cy="629.4" r="1.23" fill="#3050d8" opacity="0.7"/><circle cx="638.8" cy="578.4" r="1.02" fill="#3050d8" opacity="0.7"/><circle cx="698.1" cy="627.6" r="1.37" fill="#3a58e0" opacity="0.7"/><circle cx="727.8" cy="564.6" r="0.91" fill="#2a48c0" opacity="0.7"/><circle cx="611.7" cy="583.5" r="0.85" fill="#8a3080" opacity="0.7"/><circle cx="620.9" cy="634.6" r="0.86" fill="#3050d0" opacity="0.7"/><circle cx="600.0" cy="569.7" r="1.26" fill="#3a58e0" opacity="0.7"/><circle cx="700.2" cy="586.5" r="0.72" fill="#2a48c0" opacity="0.7"/><circle cx="719.3" cy="602.1" r="0.78" fill="#3050d8" opacity="0.7"/><circle cx="615.8" cy="592.0" r="0.93" fill="#2a48c0" opacity="0.7"/><circle cx="631.2" cy="600.7" r="1.12" fill="#3050d0" opacity="0.7"/><circle cx="664.2" cy="574.5" r="0.99" fill="#8a3080" opacity="0.7"/><circle cx="664.0" cy="628.1" r="1.08" fill="#8a3080" opacity="0.7"/><circle cx="717.7" cy="580.9" r="1.32" fill="#3a58e0" opacity="0.7"/><circle cx="616.6" cy="569.3" r="0.73" fill="#3050d0" opacity="0.7"/><circle cx="600.0" cy="631.7" r="0.86" fill="#8a3080" opacity="0.7"/><circle cx="628.4" cy="572.0" r="0.96" fill="#8a3080" opacity="0.7"/><circle cx="702.4" cy="583.5" r="0.71" fill="#3050d8" opacity="0.7"/><circle cx="677.8" cy="575.0" r="1.30" fill="#8a3080" opacity="0.7"/><circle cx="684.5" cy="590.1" r="1.10" fill="#3a58e0" opacity="0.7"/><circle cx="715.7" cy="630.8" r="0.92" fill="#3a58e0" opacity="0.7"/><circle cx="663.3" cy="612.7" r="1.16" fill="#8a3080" opacity="0.7"/><circle cx="631.6" cy="580.1" r="1.27" fill="#3a58e0" opacity="0.7"/><circle cx="701.3" cy="580.1" r="0.88" fill="#2a48c0" opacity="0.7"/><circle cx="650.1" cy="633.8" r="1.06" fill="#3050d8" opacity="0.7"/><circle cx="581.7" cy="592.7" r="1.25" fill="#2a48c0" opacity="0.7"/><circle cx="580.5" cy="574.5" r="1.35" fill="#8a3080" opacity="0.7"/><circle cx="721.7" cy="576.7" r="0.82" fill="#3050d0" opacity="0.7"/><circle cx="602.2" cy="608.5" r="0.91" fill="#3050d8" opacity="0.7"/><circle cx="698.1" cy="610.5" r="1.06" fill="#2a48c0" opacity="0.7"/><circle cx="646.4" cy="617.0" r="0.82" fill="#3050d0" opacity="0.7"/><circle cx="646.0" cy="624.5" r="1.39" fill="#3a58e0" opacity="0.7"/><circle cx="731.2" cy="628.5" r="0.91" fill="#8a3080" opacity="0.7"/><circle cx="628.6" cy="570.6" r="1.03" fill="#3050d8" opacity="0.7"/><circle cx="605.0" cy="613.8" r="0.82" fill="#3050d0" opacity="0.7"/><circle cx="609.1" cy="611.9" r="1.39" fill="#3050d8" opacity="0.7"/><circle cx="639.1" cy="565.2" r="0.73" fill="#2a48c0" opacity="0.7"/><circle cx="656.9" cy="590.4" r="1.10" fill="#2a48c0" opacity="0.7"/><circle cx="722.5" cy="594.3" r="1.38" fill="#3a58e0" opacity="0.7"/><circle cx="730.9" cy="575.1" r="0.92" fill="#8a3080" opacity="0.7"/><circle cx="607.3" cy="624.6" r="0.94" fill="#8a3080" opacity="0.7"/><circle cx="698.4" cy="594.0" r="0.90" fill="#3a58e0" opacity="0.7"/><circle cx="608.5" cy="609.6" r="1.20" fill="#3a58e0" opacity="0.7"/><circle cx="644.8" cy="625.0" r="1.38" fill="#3a58e0" opacity="0.7"/><circle cx="630.5" cy="612.8" r="0.87" fill="#3050d8" opacity="0.7"/><circle cx="714.8" cy="588.2" r="0.79" fill="#8a3080" opacity="0.7"/><circle cx="597.4" cy="615.6" r="1.24" fill="#3050d0" opacity="0.7"/><circle cx="638.3" cy="614.3" r="1.35" fill="#8a3080" opacity="0.7"/><circle cx="644.0" cy="597.1" r="1.13" fill="#2a48c0" opacity="0.7"/><circle cx="620.5" cy="591.1" r="0.83" fill="#3a58e0" opacity="0.7"/><circle cx="693.9" cy="625.5" r="0.79" fill="#2a48c0" opacity="0.7"/><circle cx="620.3" cy="576.9" r="0.92" fill="#2a48c0" opacity="0.7"/><circle cx="649.5" cy="570.4" r="0.84" fill="#8a3080" opacity="0.7"/><circle cx="688.8" cy="577.8" r="1.08" fill="#3050d0" opacity="0.7"/><circle cx="622.1" cy="579.9" r="1.27" fill="#3050d0" opacity="0.7"/><circle cx="732.5" cy="610.1" r="1.17" fill="#2a48c0" opacity="0.7"/><circle cx="600.0" cy="596.5" r="1.03" fill="#3050d0" opacity="0.7"/><circle cx="640.2" cy="609.5" r="0.85" fill="#8a3080" opacity="0.7"/><circle cx="581.9" cy="624.3" r="1.13" fill="#3050d8" opacity="0.7"/><circle cx="708.0" cy="597.7" r="1.06" fill="#3050d8" opacity="0.7"/><circle cx="699.2" cy="584.1" r="1.38" fill="#3050d8" opacity="0.7"/><circle cx="696.4" cy="631.9" r="1.02" fill="#8a3080" opacity="0.7"/><circle cx="597.6" cy="614.7" r="0.99" fill="#3a58e0" opacity="0.7"/><circle cx="665.8" cy="592.6" r="0.80" fill="#8a3080" opacity="0.7"/><circle cx="725.2" cy="627.1" r="0.71" fill="#8a3080" opacity="0.7"/><circle cx="720.5" cy="568.2" r="1.11" fill="#3050d0" opacity="0.7"/><circle cx="622.6" cy="564.4" r="1.17" fill="#2a48c0" opacity="0.7"/><circle cx="718.3" cy="588.8" r="0.99" fill="#3050d8" opacity="0.7"/><circle cx="617.6" cy="587.4" r="0.73" fill="#3050d8" opacity="0.7"/><circle cx="728.4" cy="615.3" r="1.34" fill="#3a58e0" opacity="0.7"/><circle cx="656.2" cy="607.0" r="1.00" fill="#2a48c0" opacity="0.7"/><circle cx="648.0" cy="626.4" r="1.21" fill="#2a48c0" opacity="0.7"/><circle cx="614.7" cy="578.4" r="1.00" fill="#3050d0" opacity="0.7"/><circle cx="729.5" cy="633.3" r="1.39" fill="#3a58e0" opacity="0.7"/><circle cx="715.8" cy="621.6" r="1.04" fill="#3050d8" opacity="0.7"/><circle cx="644.4" cy="573.4" r="0.78" fill="#3a58e0" opacity="0.7"/><circle cx="718.4" cy="576.7" r="1.03" fill="#3050d8" opacity="0.7"/><circle cx="696.5" cy="629.9" r="1.32" fill="#2a48c0" opacity="0.7"/><circle cx="592.9" cy="566.5" r="1.04" fill="#8a3080" opacity="0.7"/><circle cx="724.0" cy="622.6" r="0.97" fill="#3050d8" opacity="0.7"/><circle cx="658.3" cy="580.1" r="1.31" fill="#3050d0" opacity="0.7"/><circle cx="720.3" cy="636.1" r="1.27" fill="#3050d8" opacity="0.7"/><circle cx="626.4" cy="565.7" r="0.78" fill="#8a3080" opacity="0.7"/><circle cx="720.1" cy="597.8" r="0.77" fill="#3050d8" opacity="0.7"/><circle cx="584.4" cy="611.3" r="1.33" fill="#3a58e0" opacity="0.7"/><circle cx="597.9" cy="589.7" r="1.07" fill="#8a3080" opacity="0.7"/><circle cx="688.3" cy="575.9" r="1.00" fill="#3050d8" opacity="0.7"/><circle cx="651.4" cy="620.5" r="0.92" fill="#3050d8" opacity="0.7"/><circle cx="644.1" cy="607.4" r="0.73" fill="#8a3080" opacity="0.7"/><circle cx="691.1" cy="570.5" r="1.26" fill="#3050d8" opacity="0.7"/><circle cx="597.3" cy="571.8" r="1.11" fill="#3050d0" opacity="0.7"/><circle cx="715.5" cy="609.4" r="0.76" fill="#2a48c0" opacity="0.7"/><circle cx="648.8" cy="576.3" r="1.25" fill="#2a48c0" opacity="0.7"/><circle cx="621.4" cy="586.0" r="0.98" fill="#3050d8" opacity="0.7"/><circle cx="633.4" cy="583.0" r="0.96" fill="#3050d8" opacity="0.7"/><circle cx="688.1" cy="572.5" r="0.83" fill="#2a48c0" opacity="0.7"/><circle cx="594.0" cy="576.1" r="1.24" fill="#3050d0" opacity="0.7"/><circle cx="718.8" cy="578.2" r="1.37" fill="#3a58e0" opacity="0.7"/><circle cx="696.7" cy="630.2" r="1.05" fill="#3050d8" opacity="0.7"/><circle cx="691.6" cy="587.8" r="1.30" fill="#2a48c0" opacity="0.7"/><circle cx="723.0" cy="575.1" r="1.01" fill="#3a58e0" opacity="0.7"/><circle cx="613.2" cy="619.2" r="1.11" fill="#8a3080" opacity="0.7"/><circle cx="587.6" cy="635.4" r="0.92" fill="#3050d0" opacity="0.7"/><circle cx="716.0" cy="592.5" r="0.71" fill="#3050d0" opacity="0.7"/><circle cx="591.4" cy="569.3" r="1.34" fill="#3050d8" opacity="0.7"/><circle cx="650.7" cy="635.3" r="0.78" fill="#3a58e0" opacity="0.7"/><circle cx="705.9" cy="582.1" r="0.88" fill="#8a3080" opacity="0.7"/><circle cx="688.6" cy="570.5" r="1.39" fill="#3050d0" opacity="0.7"/><circle cx="713.3" cy="593.9" r="1.19" fill="#2a48c0" opacity="0.7"/><circle cx="637.7" cy="623.1" r="0.94" fill="#3050d0" opacity="0.7"/><circle cx="720.4" cy="590.0" r="1.32" fill="#2a48c0" opacity="0.7"/><circle cx="691.1" cy="617.1" r="0.93" fill="#8a3080" opacity="0.7"/><circle cx="597.1" cy="574.0" r="1.33" fill="#3a58e0" opacity="0.7"/><circle cx="635.8" cy="630.0" r="0.80" fill="#3050d0" opacity="0.7"/><circle cx="702.6" cy="579.6" r="0.70" fill="#3050d0" opacity="0.7"/><circle cx="628.0" cy="603.1" r="0.84" fill="#3050d8" opacity="0.7"/><circle cx="591.0" cy="564.4" r="0.86" fill="#3050d8" opacity="0.7"/><circle cx="639.6" cy="591.3" r="0.89" fill="#3050d8" opacity="0.7"/><circle cx="608.3" cy="596.0" r="0.73" fill="#2a48c0" opacity="0.7"/><circle cx="652.8" cy="604.4" r="1.00" fill="#3050d8" opacity="0.7"/><circle cx="586.8" cy="568.5" r="1.13" fill="#8a3080" opacity="0.7"/><circle cx="584.3" cy="572.4" r="0.87" fill="#2a48c0" opacity="0.7"/><circle cx="700.9" cy="577.2" r="1.10" fill="#3050d8" opacity="0.7"/><circle cx="694.1" cy="586.3" r="1.26" fill="#3050d0" opacity="0.7"/><circle cx="669.3" cy="601.7" r="1.09" fill="#3a58e0" opacity="0.7"/><circle cx="711.5" cy="581.5" r="1.20" fill="#3a58e0" opacity="0.7"/><circle cx="712.7" cy="603.9" r="0.84" fill="#3a58e0" opacity="0.7"/><circle cx="707.1" cy="634.5" r="1.38" fill="#3050d8" opacity="0.7"/><circle cx="687.6" cy="636.2" r="1.29" fill="#3050d0" opacity="0.7"/><circle cx="695.5" cy="597.1" r="0.77" fill="#3a58e0" opacity="0.7"/><circle cx="715.1" cy="631.7" r="0.87" fill="#3a58e0" opacity="0.7"/><circle cx="580.4" cy="572.5" r="1.13" fill="#3050d0" opacity="0.7"/><circle cx="666.7" cy="570.7" r="0.76" fill="#3050d8" opacity="0.7"/><circle cx="656.3" cy="623.2" r="0.89" fill="#3050d8" opacity="0.7"/><circle cx="589.4" cy="569.2" r="1.01" fill="#3050d8" opacity="0.7"/><circle cx="701.9" cy="625.8" r="0.94" fill="#8a3080" opacity="0.7"/><circle cx="592.5" cy="584.5" r="0.99" fill="#2a48c0" opacity="0.7"/><circle cx="708.7" cy="581.4" r="0.81" fill="#3050d0" opacity="0.7"/><circle cx="706.9" cy="629.3" r="1.39" fill="#8a3080" opacity="0.7"/><circle cx="695.6" cy="593.5" r="0.90" fill="#3a58e0" opacity="0.7"/><circle cx="721.9" cy="572.6" r="1.35" fill="#3050d8" opacity="0.7"/><circle cx="591.4" cy="628.7" r="1.21" fill="#3050d8" opacity="0.7"/><circle cx="606.3" cy="632.3" r="0.97" fill="#3a58e0" opacity="0.7"/><circle cx="612.6" cy="598.7" r="1.30" fill="#3a58e0" opacity="0.7"/><circle cx="617.3" cy="631.1" r="0.77" fill="#2a48c0" opacity="0.7"/><circle cx="604.6" cy="579.6" r="1.27" fill="#3a58e0" opacity="0.7"/><circle cx="652.8" cy="636.3" r="0.93" fill="#3050d8" opacity="0.7"/><circle cx="607.0" cy="605.5" r="1.27" fill="#3a58e0" opacity="0.7"/><circle cx="632.3" cy="628.9" r="1.21" fill="#3050d0" opacity="0.7"/><circle cx="692.4" cy="608.5" r="1.09" fill="#3a58e0" opacity="0.7"/><circle cx="631.7" cy="576.2" r="1.35" fill="#3050d0" opacity="0.7"/><circle cx="590.4" cy="628.2" r="1.21" fill="#8a3080" opacity="0.7"/><circle cx="582.7" cy="599.3" r="1.06" fill="#3a58e0" opacity="0.7"/><circle cx="679.1" cy="608.1" r="1.15" fill="#8a3080" opacity="0.7"/><circle cx="602.1" cy="614.2" r="0.97" fill="#3a58e0" opacity="0.7"/><circle cx="675.4" cy="633.0" r="1.38" fill="#3a58e0" opacity="0.7"/><circle cx="603.3" cy="595.1" r="0.86" fill="#8a3080" opacity="0.7"/><circle cx="654.8" cy="566.0" r="1.10" fill="#2a48c0" opacity="0.7"/><circle cx="678.5" cy="633.6" r="1.38" fill="#3a58e0" opacity="0.7"/><path d="M589.1,613.5 q-0.6,-11.8 0.4,-30.0" stroke="#d03050" stroke-width="0.48" fill="none" opacity="0.49"/><path d="M672.6,609.6 q3.0,-11.6 -4.5,-23.1" stroke="#d03050" stroke-width="0.48" fill="none" opacity="0.49"/><path d="M602.2,617.9 q4.9,-9.3 -2.3,-19.5" stroke="#d03050" stroke-width="0.48" fill="none" opacity="0.49"/><path d="M652.0,613.6 q-4.6,-12.4 -7.3,-29.9" stroke="#d03050" stroke-width="0.48" fill="none" opacity="0.49"/><path d="M604.6,611.0 q0.5,-13.8 6.9,-23.0" stroke="#d03050" stroke-width="0.48" fill="none" opacity="0.49"/><path d="M585.2,605.1 q-3.9,-13.6 7.4,-22.6" stroke="#d03050" stroke-width="0.48" fill="none" opacity="0.49"/><path d="M603.8,618.7 q-1.5,-10.8 7.4,-17.6" stroke="#d03050" stroke-width="0.48" fill="none" opacity="0.49"/><path d="M644.5,620.5 q1.5,-13.9 7.5,-17.7" stroke="#d03050" stroke-width="0.48" fill="none" opacity="0.49"/><path d="M593.0,608.4 q2.7,-9.2 2.4,-22.7" stroke="#d03050" stroke-width="0.48" fill="none" opacity="0.49"/><path d="M592.8,621.8 q-3.6,-11.5 -4.4,-18.0" stroke="#d03050" stroke-width="0.48" fill="none" opacity="0.49"/><path d="M597.6,606.5 q2.9,-10.6 -6.2,-19.5" stroke="#d03050" stroke-width="0.48" fill="none" opacity="0.49"/><path d="M676.6,619.9 q2.9,-12.4 7.7,-20.6" stroke="#d03050" stroke-width="0.48" fill="none" opacity="0.49"/><path d="M647.6,615.1 q-4.6,-13.1 -7.8,-16.9" stroke="#d03050" stroke-width="0.48" fill="none" opacity="0.49"/><path d="M613.5,622.7 q4.8,-13.4 3.7,-21.8" stroke="#d03050" stroke-width="0.48" fill="none" opacity="0.49"/><path d="M631.5,621.2 q-4.5,-13.4 -4.9,-18.2" stroke="#d03050" stroke-width="0.48" fill="none" opacity="0.49"/><path d="M635.1,607.0 q0.5,-11.5 3.5,-27.7" stroke="#d03050" stroke-width="0.48" fill="none" opacity="0.49"/><path d="M590.9,612.0 q-2.5,-10.3 7.6,-24.5" stroke="#d03050" stroke-width="0.48" fill="none" opacity="0.49"/><path d="M589.1,616.6 q-0.9,-10.5 -5.6,-18.7" stroke="#d03050" stroke-width="0.48" fill="none" opacity="0.49"/><ellipse cx="678.0" cy="568.1" rx="1.9" ry="2.5" fill="#40d8a0"/><ellipse cx="674.0" cy="594.7" rx="1.9" ry="2.5" fill="#40d8a0"/><ellipse cx="668.9" cy="598.3" rx="1.9" ry="2.5" fill="#40d8a0"/><ellipse cx="664.9" cy="605.6" rx="1.9" ry="2.5" fill="#40d8a0"/><ellipse cx="641.7" cy="610.7" rx="1.9" ry="2.5" fill="#40d8a0"/><ellipse cx="619.4" cy="612.2" rx="1.9" ry="2.5" fill="#40d8a0"/><ellipse cx="587.4" cy="631.8" rx="1.9" ry="2.5" fill="#40d8a0"/><ellipse cx="616.1" cy="620.9" rx="1.9" ry="2.5" fill="#40d8a0"/><ellipse cx="606.3" cy="612.2" rx="3" ry="3" fill="#f02860"/><ellipse cx="640.5" cy="600.5" rx="2" ry="2.6" fill="#e04080"/><ellipse cx="664.9" cy="587.4" rx="2" ry="2.6" fill="#e04080"/><ellipse cx="591.1" cy="617.0" rx="2" ry="2" fill="#e03070"/><rect x="580.2" y="564.2" width="153.0999999999999" height="72.19999999999993" fill="#000" filter="url(#grain)" opacity="0.22"/></g><line x1="686.3" y1="619" x2="703.3" y2="619" stroke="#fff" stroke-width="0.9"/><text x="694.8" y="617.8" font-size="7" text-anchor="middle" fill="#fff">50 um</text>
<rect x="2.00" y="2.00" width="1076.00" height="665.60" fill="none" stroke="#3d3d3d" stroke-width="1.3" stroke-dasharray="4.6 4.1"/>
<line x1="2.00" y1="458.00" x2="1078.00" y2="458.00" stroke="#555" stroke-width="1.3" stroke-dasharray="4.6 4.1"/>
<line x1="540.00" y1="213.50" x2="540.00" y2="458.00" stroke="#3d3d3d" stroke-width="1.3" stroke-dasharray="4.6 4.1"/>
<rect x="2.50" y="196.30" width="537.50" height="16.60" fill="none" stroke="#f0aa4a" stroke-width="1.4"/>
<rect x="540.00" y="196.30" width="537.50" height="16.60" fill="none" stroke="#a5519d" stroke-width="1.4"/>
<text x="271.00" y="209.70" font-size="12.8" text-anchor="middle" fill="#e8952a" stroke="#e8952a" stroke-width="0.2">Fos ensemble</text>
<text x="808.00" y="209.70" font-size="12.8" text-anchor="middle" fill="#87207f" stroke="#87207f" stroke-width="0.2">NRAM ensemble</text>
<text x="9.20" y="28.90" font-size="19.5" text-anchor="start" fill="#000" font-weight="bold">A</text>
<text x="889.00" y="29.00" font-size="19.5" text-anchor="start" fill="#000" font-weight="bold">B</text>
<text x="8.60" y="259.90" font-size="19.5" text-anchor="start" fill="#000" font-weight="bold">C</text>
<text x="200.50" y="260.10" font-size="19.5" text-anchor="start" fill="#000" font-weight="bold">D</text>
<text x="327.60" y="259.70" font-size="19.5" text-anchor="start" fill="#000" font-weight="bold">E</text>
<text x="433.40" y="259.50" font-size="19.5" text-anchor="start" fill="#000" font-weight="bold">F</text>
<text x="550.60" y="259.30" font-size="19.5" text-anchor="start" fill="#000" font-weight="bold">G</text>
<text x="743.50" y="259.90" font-size="19.5" text-anchor="start" fill="#000" font-weight="bold">H</text>
<text x="866.00" y="259.90" font-size="19.5" text-anchor="start" fill="#000" font-weight="bold">I</text>
<text x="963.20" y="258.90" font-size="19.5" text-anchor="start" fill="#000" font-weight="bold">J</text>
<text x="34.00" y="486.90" font-size="19.5" text-anchor="start" fill="#000" font-weight="bold">K</text>
<text x="527.00" y="486.40" font-size="19.5" text-anchor="start" fill="#000" font-weight="bold">L</text>
<text x="902.00" y="486.90" font-size="19.5" text-anchor="start" fill="#000" font-weight="bold">M</text>
<rect x="45.00" y="60.00" width="161.50" height="85.50" fill="none" stroke="#3d3d3d" stroke-width="1.3" rx="21" stroke-dasharray="4.4 3.6"/>
<rect x="235.30" y="61.00" width="161.30" height="85.30" fill="none" stroke="#3d3d3d" stroke-width="1.3" rx="21" stroke-dasharray="4.4 3.6"/>
<text x="219.50" y="105.30" font-size="12.9" text-anchor="middle" fill="#231f20" stroke="#231f20" stroke-width="0.2">or</text>
<path d="M65.8,74.7 L92.3,74.7 L95.8,83.0 L92.3,91.3 L65.8,91.3 Z" fill="#fff" stroke="#eea83c" stroke-width="1.1"/>
<line x1="61.80" y1="83.00" x2="65.80" y2="83.00" stroke="#231f20" stroke-width="1"/>
<text x="79.80" y="87.40" font-size="12.9" text-anchor="middle" fill="#eea83c" stroke="#eea83c" stroke-width="0.2">Fos</text>
<line x1="95.80" y1="83.00" x2="98.30" y2="83.00" stroke="#231f20" stroke-width="1"/>
<rect x="98.30" y="74.70" width="80.90" height="16.60" fill="#fff" stroke="#3d3a3a" stroke-width="1.1"/>
<line x1="179.20" y1="83.00" x2="183.00" y2="83.00" stroke="#231f20" stroke-width="1"/>
<text x="101.5" y="87.4" font-size="12.9" fill="#231f20" stroke="#231f20" stroke-width="0.2">ER<tspan font-size="8" dy="-4.6">T2</tspan><tspan dy="4.6">CreER</tspan><tspan font-size="8" dy="-4.6">T2</tspan></text>
<text x="124.00" y="106.50" font-size="11.5" text-anchor="middle" fill="#231f20" stroke="#231f20" stroke-width="0.2">+</text>
<path d="M65.8,114.3 L98.4,114.3 L101.9,122.65 L98.4,131 L65.8,131 Z" fill="#fff" stroke="#3d3a3a" stroke-width="1.1"/>
<line x1="61.80" y1="122.65" x2="65.80" y2="122.65" stroke="#231f20" stroke-width="1"/>
<text x="82.85" y="127.05" font-size="12.9" text-anchor="middle" fill="#231f20" stroke="#231f20" stroke-width="0.2">Ef1α</text>
<line x1="101.90" y1="122.60" x2="105.00" y2="122.60" stroke="#231f20" stroke-width="1"/>
<path d="M104.7,115.2 L108.9,122.6 L104.7,130.2 Z" fill="#231f20" stroke="none" stroke-width="1"/>
<path d="M108,115.2 L112.2,122.6 L108,130.2 Z" fill="#231f20" stroke="none" stroke-width="1"/>
<path d="M110,116 L113.6,122.6 L110,129.4 Z" fill="#fff" stroke="#231f20" stroke-width="0.8"/>
<rect x="114.30" y="114.30" width="62.20" height="16.70" fill="#fff" stroke="#d2232a" stroke-width="1.1"/>
<text x="145.4" y="127.05000000000001" font-size="12.9" text-anchor="middle" fill="#c8202a" transform="rotate(180 145.4 122.65)">mScarlet</text>
<path d="M182.5,115.2 L177.2,122.6 L182.5,130.2 Z" fill="#231f20" stroke="none" stroke-width="1"/>
<path d="M186.5,116 L182.6,122.6 L186.5,129.4 Z" fill="#fff" stroke="#231f20" stroke-width="0.8"/>
<line x1="186.50" y1="122.60" x2="192.20" y2="122.60" stroke="#231f20" stroke-width="1"/>
<path d="M268.5,74.2 L317.8,74.2 L321.3,82.95 L317.8,91.7 L268.5,91.7 Z" fill="#fff" stroke="#9b2d92" stroke-width="1.1"/>
<line x1="264.50" y1="82.95" x2="268.50" y2="82.95" stroke="#231f20" stroke-width="1"/>
<text x="293.90" y="87.35" font-size="12.9" text-anchor="middle" fill="#9b2d92" stroke="#9b2d92" stroke-width="0.2">N-RAM</text>
<line x1="321.30" y1="83.00" x2="323.00" y2="83.00" stroke="#231f20" stroke-width="1"/>
<rect x="323.00" y="74.20" width="40.30" height="17.50" fill="#fff" stroke="#3d3a3a" stroke-width="1.1"/>
<line x1="363.30" y1="82.95" x2="367.30" y2="82.95" stroke="#231f20" stroke-width="1"/>
<text x="343.15" y="87.35" font-size="12.9" text-anchor="middle" fill="#231f20" stroke="#231f20" stroke-width="0.2">d2tTA</text>
<text x="315.20" y="105.50" font-size="11.5" text-anchor="middle" fill="#231f20" stroke="#231f20" stroke-width="0.2">+</text>
<path d="M268.5,115.2 L317.8,115.2 L321.3,124.0 L317.8,132.8 L268.5,132.8 Z" fill="#fff" stroke="#3d3a3a" stroke-width="1.1"/>
<line x1="264.50" y1="124.00" x2="268.50" y2="124.00" stroke="#231f20" stroke-width="1"/>
<text x="293.90" y="128.40" font-size="12.9" text-anchor="middle" fill="#231f20" stroke="#231f20" stroke-width="0.2">TRE</text>
<line x1="321.30" y1="124.00" x2="323.00" y2="124.00" stroke="#231f20" stroke-width="1"/>
<rect x="323.00" y="115.20" width="40.30" height="17.60" fill="#fff" stroke="#2e9a48" stroke-width="1.1"/>
<line x1="363.30" y1="124.00" x2="367.30" y2="124.00" stroke="#231f20" stroke-width="1"/>
<text x="343.15" y="128.40" font-size="12.9" text-anchor="middle" fill="#2e9a48" stroke="#2e9a48" stroke-width="0.2">EGFP</text>
<path d="M447.70,78.60 C461.70,77.80 482.20,82.30 482.20,99.30 C482.20,111.30 477.70,123.30 469.70,123.30 C463.70,123.30 461.20,119.30 459.70,118.50 C456.70,121.30 453.70,122.80 447.70,122.80 C441.70,122.80 438.70,121.30 435.70,118.50 C434.20,119.30 431.70,123.30 425.70,123.30 C417.70,123.30 413.20,111.30 413.20,99.30 C413.20,82.30 433.70,77.80 447.70,78.60 Z" fill="#fff" stroke="#231f20" stroke-width="1.2"/>
<line x1="447.70" y1="78.60" x2="447.70" y2="98.00" stroke="#231f20" stroke-width="0.9"/>
<line x1="445.00" y1="93.60" x2="450.50" y2="93.60" stroke="#231f20" stroke-width="0.9"/>
<path d="M447.70,89.10 C449.70,87.30 451.70,84.80 453.70,85.00 C456.70,85.30 462.70,86.30 468.20,93.80" fill="none" stroke="#9a9a9a" stroke-width="2.4"/>
<path d="M448.70,93.30 C452.70,89.30 457.70,87.30 461.70,88.30 C465.70,89.30 468.70,92.30 468.70,100.30" fill="none" stroke="#231f20" stroke-width="1.3"/>
<path d="M448.20,93.80 C453.70,94.30 461.70,94.80 467.70,95.80" fill="none" stroke="#231f20" stroke-width="1.1"/>
<ellipse cx="455.70" cy="93.00" rx="4.60" ry="2.20" fill="#a8c0ac" stroke="#3a4a3a" stroke-width="0.6"/>
<path d="M475.90,98.30 C474.70,104.30 472.70,110.30 470.30,115.30" fill="none" stroke="#b0b0b0" stroke-width="0.7"/>
<path d="M447.70,89.10 C445.70,87.30 443.70,84.80 441.70,85.00 C438.70,85.30 432.70,86.30 427.20,93.80" fill="none" stroke="#9a9a9a" stroke-width="2.4"/>
<path d="M446.70,93.30 C442.70,89.30 437.70,87.30 433.70,88.30 C429.70,89.30 426.70,92.30 426.70,100.30" fill="none" stroke="#231f20" stroke-width="1.3"/>
<path d="M447.20,93.80 C441.70,94.30 433.70,94.80 427.70,95.80" fill="none" stroke="#231f20" stroke-width="1.1"/>
<ellipse cx="439.70" cy="93.00" rx="4.60" ry="2.20" fill="#a8c0ac" stroke="#3a4a3a" stroke-width="0.6"/>
<path d="M419.50,98.30 C420.70,104.30 422.70,110.30 425.10,115.30" fill="none" stroke="#b0b0b0" stroke-width="0.7"/>
<rect x="437.00" y="59.30" width="3.80" height="2.00" fill="#231f20" stroke="none" stroke-width="1"/>
<line x1="438.90" y1="61.30" x2="438.90" y2="62.60" stroke="#231f20" stroke-width="1"/>
<rect x="436.70" y="62.60" width="4.40" height="14.00" fill="#7a7a7a" stroke="#231f20" stroke-width="0.9"/>
<line x1="438.90" y1="76.60" x2="438.90" y2="90.50" stroke="#231f20" stroke-width="0.8"/>
<rect x="455.00" y="59.30" width="3.80" height="2.00" fill="#231f20" stroke="none" stroke-width="1"/>
<line x1="456.90" y1="61.30" x2="456.90" y2="62.60" stroke="#231f20" stroke-width="1"/>
<rect x="454.70" y="62.60" width="4.40" height="14.00" fill="#7a7a7a" stroke="#231f20" stroke-width="0.9"/>
<line x1="456.90" y1="76.60" x2="456.90" y2="90.50" stroke="#231f20" stroke-width="0.8"/>
<text x="439.00" y="110.80" font-size="11.5" text-anchor="middle" fill="#231f20" stroke="#231f20" stroke-width="0.2">dDG</text>
<text x="448.00" y="141.00" font-size="12.9" text-anchor="middle" fill="#231f20" stroke="#231f20" stroke-width="0.2">7 month old</text>
<text x="448.50" y="156.60" font-size="12.9" text-anchor="middle" fill="#231f20" stroke="#231f20" stroke-width="0.2">Control or AD</text>
<line x1="492.90" y1="97.30" x2="532.00" y2="97.30" stroke="#231f20" stroke-width="1.1"/>
<path d="M537,97.3 L530.5,94.1 L530.5,100.5 Z" fill="#231f20" stroke="none" stroke-width="1"/>
<text x="510.50" y="91.00" font-size="12.9" text-anchor="middle" fill="#231f20" stroke="#231f20" stroke-width="0.2">2w</text>
<path d="M541.7,122.1 L599.1,122.1 L617.3000000000001,111.19999999999999 L559.9000000000001,111.19999999999999 Z" fill="#a8a8a8" stroke="none" stroke-width="1"/>
<line x1="559.90" y1="57.50" x2="559.90" y2="111.20" stroke="#2b2727" stroke-width="1.3" stroke-dasharray="3.6 2.4"/>
<line x1="559.90" y1="111.20" x2="617.30" y2="111.20" stroke="#2b2727" stroke-width="1.3" stroke-dasharray="3.6 2.4"/>
<line x1="541.70" y1="122.10" x2="559.90" y2="111.20" stroke="#2b2727" stroke-width="1.3" stroke-dasharray="3.6 2.4"/>
<path d="M562.00,109.70 C567.00,110.90 571.00,111.30 576.00,110.70" fill="none" stroke="#d6a6a2" stroke-width="0.9"/>
<ellipse cx="581.60" cy="105.60" rx="8.30" ry="6.30" fill="#3c3330"/>
<ellipse cx="589.00" cy="103.90" rx="4.20" ry="3.30" fill="#3c3330" transform="rotate(22 589.00 103.90)"/>
<path d="M590.00,102.00 L593.60,105.30 L590.50,106.50 Z" fill="#3c3330" stroke="none" stroke-width="1"/>
<circle cx="587.60" cy="100.30" r="1.90" fill="#c9a0a0" stroke="#3c3330" stroke-width="0.6"/>
<path d="M577.00,111.50 L580.00,111.50 M586.00,111.50 L589.00,111.50" fill="none" stroke="#3c3330" stroke-width="1.2"/>
<path d="M585.20,71.90 L589.70,75.90 L586.70,79.90 L588.20,81.10 L579.20,93.90 L583.20,82.90 L581.70,81.90 Z" fill="#ffe100" stroke="#231f20" stroke-width="0.8"/>
<path d="M541.7,68.4 L559.9000000000001,57.50000000000001 L617.3000000000001,57.50000000000001 L599.1,68.4 Z M617.3000000000001,57.50000000000001 L617.3000000000001,111.19999999999999 L599.1,122.1" fill="none" stroke="#2b2727" stroke-width="1.2" stroke-linejoin="round"/>
<rect x="541.70" y="68.40" width="57.40" height="53.70" fill="none" stroke="#2b2727" stroke-width="1.2"/>
<text x="578.60" y="50.40" font-size="12.9" text-anchor="middle" fill="#231f20" stroke="#231f20" stroke-width="0.2">CFC</text>
<rect x="534.00" y="128.00" width="88.80" height="16.40" fill="#555555" stroke="#333" stroke-width="0.8"/>
<text x="578.40" y="140.60" font-size="12.8" text-anchor="middle" fill="#e6e6e6" stroke="#e6e6e6" stroke-width="0.2">OFF-Dox</text>
<line x1="621.80" y1="97.30" x2="649.00" y2="97.30" stroke="#231f20" stroke-width="1.1"/>
<path d="M654,97.3 L647.5,94.1 L647.5,100.5 Z" fill="#231f20" stroke="none" stroke-width="1"/>
<text x="635.30" y="91.70" font-size="12.9" text-anchor="middle" fill="#231f20" stroke="#231f20" stroke-width="0.2">1d</text>
<path d="M656.5,123.1 L713.7,123.1 L731.9000000000001,112.19999999999999 L674.7,112.19999999999999 Z" fill="#a8a8a8" stroke="none" stroke-width="1"/>
<line x1="674.70" y1="57.50" x2="674.70" y2="112.20" stroke="#2b2727" stroke-width="1.3" stroke-dasharray="3.6 2.4"/>
<line x1="674.70" y1="112.20" x2="731.90" y2="112.20" stroke="#2b2727" stroke-width="1.3" stroke-dasharray="3.6 2.4"/>
<line x1="656.50" y1="123.10" x2="674.70" y2="112.20" stroke="#2b2727" stroke-width="1.3" stroke-dasharray="3.6 2.4"/>
<path d="M677.50,110.70 C682.50,111.90 686.50,112.30 691.50,111.70" fill="none" stroke="#d6a6a2" stroke-width="0.9"/>
<ellipse cx="697.10" cy="106.60" rx="8.30" ry="6.30" fill="#3c3330"/>
<ellipse cx="704.50" cy="104.90" rx="4.20" ry="3.30" fill="#3c3330" transform="rotate(22 704.50 104.90)"/>
<path d="M705.50,103.00 L709.10,106.30 L706.00,107.50 Z" fill="#3c3330" stroke="none" stroke-width="1"/>
<circle cx="703.10" cy="101.30" r="1.90" fill="#c9a0a0" stroke="#3c3330" stroke-width="0.6"/>
<path d="M692.50,112.50 L695.50,112.50 M701.50,112.50 L704.50,112.50" fill="none" stroke="#3c3330" stroke-width="1.2"/>
<path d="M656.5,68.4 L674.7,57.50000000000001 L731.9000000000001,57.50000000000001 L713.7,68.4 Z M731.9000000000001,57.50000000000001 L731.9000000000001,112.19999999999999 L713.7,123.1" fill="none" stroke="#2b2727" stroke-width="1.2" stroke-linejoin="round"/>
<rect x="656.50" y="68.40" width="57.20" height="54.70" fill="none" stroke="#2b2727" stroke-width="1.2"/>
<text x="696.20" y="50.40" font-size="12.9" text-anchor="middle" fill="#231f20" stroke="#231f20" stroke-width="0.2">Test</text>
<line x1="736.60" y1="97.30" x2="767.00" y2="97.30" stroke="#231f20" stroke-width="1.1"/>
<path d="M772,97.3 L765.5,94.1 L765.5,100.5 Z" fill="#231f20" stroke="none" stroke-width="1"/>
<text x="751.20" y="94.00" font-size="12.9" text-anchor="middle" fill="#231f20" stroke="#231f20" stroke-width="0.2">1.5h</text>
<text x="776.80" y="102.20" font-size="12.9" text-anchor="start" fill="#231f20" stroke="#231f20" stroke-width="0.2">Perfusion</text>
<line x1="244.60" y1="285.00" x2="244.60" y2="409.10" stroke="#231f20" stroke-width="1.25"/>
<line x1="239.80" y1="408.50" x2="306.70" y2="408.50" stroke="#231f20" stroke-width="1.25"/>
<line x1="262.20" y1="408.50" x2="262.20" y2="413.00" stroke="#231f20" stroke-width="1.25"/>
<line x1="289.00" y1="408.50" x2="289.00" y2="413.00" stroke="#231f20" stroke-width="1.25"/>
<line x1="239.80" y1="408.50" x2="244.60" y2="408.50" stroke="#231f20" stroke-width="1.25"/>
<text x="237.80" y="413.00" font-size="12.9" text-anchor="end" fill="#231f20" stroke="#231f20" stroke-width="0.2">0.0</text>
<line x1="239.80" y1="383.92" x2="244.60" y2="383.92" stroke="#231f20" stroke-width="1.25"/>
<text x="237.80" y="388.42" font-size="12.9" text-anchor="end" fill="#231f20" stroke="#231f20" stroke-width="0.2">0.2</text>
<line x1="239.80" y1="359.34" x2="244.60" y2="359.34" stroke="#231f20" stroke-width="1.25"/>
<text x="237.80" y="363.84" font-size="12.9" text-anchor="end" fill="#231f20" stroke="#231f20" stroke-width="0.2">0.4</text>
<line x1="239.80" y1="334.76" x2="244.60" y2="334.76" stroke="#231f20" stroke-width="1.25"/>
<text x="237.80" y="339.26" font-size="12.9" text-anchor="end" fill="#231f20" stroke="#231f20" stroke-width="0.2">0.6</text>
<line x1="239.80" y1="310.18" x2="244.60" y2="310.18" stroke="#231f20" stroke-width="1.25"/>
<text x="237.80" y="314.68" font-size="12.9" text-anchor="end" fill="#231f20" stroke="#231f20" stroke-width="0.2">0.8</text>
<line x1="239.80" y1="285.60" x2="244.60" y2="285.60" stroke="#231f20" stroke-width="1.25"/>
<text x="237.80" y="290.10" font-size="12.9" text-anchor="end" fill="#231f20" stroke="#231f20" stroke-width="0.2">1.0</text>
<text x="271.50" y="266.90" font-size="12.9" text-anchor="middle" fill="#231f20" stroke="#231f20" stroke-width="0.2">mScarlet</text>
<path d="M261.3,329.6 L261.3,311.6 L288.1,311.6 L288.1,329.6" fill="none" stroke="#231f20" stroke-width="1.1"/>
<text x="275.00" y="308.20" font-size="11.6" text-anchor="middle" fill="#231f20" stroke="#231f20" stroke-width="0.2">ns</text>
<circle cx="261.30" cy="345.10" r="2.4" fill="#000"/>
<circle cx="257.10" cy="360.30" r="2.4" fill="#000"/>
<circle cx="266.00" cy="357.90" r="2.4" fill="#000"/>
<circle cx="257.70" cy="366.90" r="2.4" fill="#000"/>
<circle cx="265.10" cy="366.90" r="2.4" fill="#000"/>
<line x1="253.20" y1="359.40" x2="271.20" y2="359.40" stroke="#231f20" stroke-width="1.3"/>
<line x1="262.20" y1="354.90" x2="262.20" y2="363.90" stroke="#231f20" stroke-width="1.3"/>
<line x1="257.70" y1="354.90" x2="266.70" y2="354.90" stroke="#231f20" stroke-width="1.3"/>
<line x1="257.70" y1="363.90" x2="266.70" y2="363.90" stroke="#231f20" stroke-width="1.3"/>
<circle cx="284.00" cy="352.80" r="2.4" fill="#e8503f"/>
<circle cx="291.10" cy="353.40" r="2.4" fill="#e8503f"/>
<circle cx="286.00" cy="360.30" r="2.4" fill="#e8503f"/>
<circle cx="284.60" cy="366.90" r="2.4" fill="#e8503f"/>
<circle cx="291.10" cy="365.40" r="2.4" fill="#e8503f"/>
<line x1="280.00" y1="359.40" x2="298.00" y2="359.40" stroke="#e8503f" stroke-width="1.3"/>
<line x1="289.00" y1="355.50" x2="289.00" y2="363.30" stroke="#e8503f" stroke-width="1.3"/>
<line x1="284.50" y1="355.50" x2="293.50" y2="355.50" stroke="#e8503f" stroke-width="1.3"/>
<line x1="284.50" y1="363.30" x2="293.50" y2="363.30" stroke="#e8503f" stroke-width="1.3"/>
<text x="262.20" y="427.50" font-size="12.9" text-anchor="middle" fill="#231f20" stroke="#231f20" stroke-width="0.2">CT</text>
<text x="289.00" y="427.50" font-size="12.9" text-anchor="middle" fill="#231f20" stroke="#231f20" stroke-width="0.2">AD</text>
<text x="213.60" y="354.00" font-size="12.6" text-anchor="middle" fill="#231f20" stroke="#231f20" stroke-width="0.2" transform="rotate(-90 213.60 354.00)"><tspan font-size="12.6" dy="0.00">mScarlet</tspan><tspan font-size="7.6" dy="-7.06">+</tspan><tspan font-size="12.6" dy="7.06"> / DAPI</tspan><tspan font-size="7.6" dy="-7.06">+</tspan><tspan font-size="12.6" dy="7.06"> (%)</tspan></text>
<line x1="358.20" y1="285.80" x2="358.20" y2="409.30" stroke="#231f20" stroke-width="1.25"/>
<line x1="353.40" y1="408.70" x2="419.50" y2="408.70" stroke="#231f20" stroke-width="1.25"/>
<line x1="375.30" y1="408.70" x2="375.30" y2="413.20" stroke="#231f20" stroke-width="1.25"/>
<line x1="402.20" y1="408.70" x2="402.20" y2="413.20" stroke="#231f20" stroke-width="1.25"/>
<line x1="353.40" y1="408.70" x2="358.20" y2="408.70" stroke="#231f20" stroke-width="1.25"/>
<text x="351.40" y="413.20" font-size="12.9" text-anchor="end" fill="#231f20" stroke="#231f20" stroke-width="0.2">0</text>
<line x1="353.40" y1="367.93" x2="358.20" y2="367.93" stroke="#231f20" stroke-width="1.25"/>
<text x="351.40" y="372.43" font-size="12.9" text-anchor="end" fill="#231f20" stroke="#231f20" stroke-width="0.2">1</text>
<line x1="353.40" y1="327.17" x2="358.20" y2="327.17" stroke="#231f20" stroke-width="1.25"/>
<text x="351.40" y="331.67" font-size="12.9" text-anchor="end" fill="#231f20" stroke="#231f20" stroke-width="0.2">2</text>
<line x1="353.40" y1="286.40" x2="358.20" y2="286.40" stroke="#231f20" stroke-width="1.25"/>
<text x="351.40" y="290.90" font-size="12.9" text-anchor="end" fill="#231f20" stroke="#231f20" stroke-width="0.2">3</text>
<text x="384.00" y="267.80" font-size="12.9" text-anchor="middle" fill="#231f20" stroke="#231f20" stroke-width="0.2">ARC</text>
<path d="M375.4,310.1 L375.4,302 L401.6,302 L401.6,329.6" fill="none" stroke="#231f20" stroke-width="1.1"/>
<path d="M387.80,291.35 L387.80,298.85 M384.55,293.23 L391.05,296.98 M384.55,296.98 L391.05,293.23 " fill="none" stroke="#000" stroke-width="1.5"/>
<circle cx="387.80" cy="295.10" r="1.1" fill="#000"/>
<circle cx="375.30" cy="321.20" r="2.4" fill="#000"/>
<circle cx="371.10" cy="337.00" r="2.4" fill="#000"/>
<circle cx="379.20" cy="335.50" r="2.4" fill="#000"/>
<circle cx="372.30" cy="346.00" r="2.4" fill="#000"/>
<circle cx="378.30" cy="346.00" r="2.4" fill="#000"/>
<line x1="366.30" y1="336.40" x2="384.30" y2="336.40" stroke="#231f20" stroke-width="1.3"/>
<line x1="375.30" y1="331.00" x2="375.30" y2="341.50" stroke="#231f20" stroke-width="1.3"/>
<line x1="370.80" y1="331.00" x2="379.80" y2="331.00" stroke="#231f20" stroke-width="1.3"/>
<line x1="370.80" y1="341.50" x2="379.80" y2="341.50" stroke="#231f20" stroke-width="1.3"/>
<circle cx="398.60" cy="342.10" r="2.4" fill="#e8503f"/>
<circle cx="404.60" cy="343.90" r="2.4" fill="#e8503f"/>
<circle cx="402.20" cy="360.90" r="2.4" fill="#e8503f"/>
<circle cx="402.20" cy="374.30" r="2.4" fill="#e8503f"/>
<line x1="393.20" y1="354.90" x2="411.20" y2="354.90" stroke="#e8503f" stroke-width="1.3"/>
<line x1="402.20" y1="348.00" x2="402.20" y2="362.00" stroke="#e8503f" stroke-width="1.3"/>
<line x1="397.70" y1="348.00" x2="406.70" y2="348.00" stroke="#e8503f" stroke-width="1.3"/>
<line x1="397.70" y1="362.00" x2="406.70" y2="362.00" stroke="#e8503f" stroke-width="1.3"/>
<text x="375.30" y="427.50" font-size="12.9" text-anchor="middle" fill="#231f20" stroke="#231f20" stroke-width="0.2">CT</text>
<text x="402.20" y="427.50" font-size="12.9" text-anchor="middle" fill="#231f20" stroke="#231f20" stroke-width="0.2">AD</text>
<text x="335.20" y="358.50" font-size="12.6" text-anchor="middle" fill="#231f20" stroke="#231f20" stroke-width="0.2" transform="rotate(-90 335.20 358.50)"><tspan font-size="12.6" dy="0.00">ARC</tspan><tspan font-size="7.6" dy="-7.06">+</tspan><tspan font-size="12.6" dy="7.06"> / DAPI</tspan><tspan font-size="7.6" dy="-7.06">+</tspan><tspan font-size="12.6" dy="7.06"> (%)</tspan></text>
<line x1="470.40" y1="284.80" x2="470.40" y2="408.40" stroke="#231f20" stroke-width="1.25"/>
<line x1="465.60" y1="407.80" x2="531.90" y2="407.80" stroke="#231f20" stroke-width="1.25"/>
<line x1="487.40" y1="407.80" x2="487.40" y2="412.30" stroke="#231f20" stroke-width="1.25"/>
<line x1="514.00" y1="407.80" x2="514.00" y2="412.30" stroke="#231f20" stroke-width="1.25"/>
<line x1="465.60" y1="407.80" x2="470.40" y2="407.80" stroke="#231f20" stroke-width="1.25"/>
<text x="463.60" y="412.30" font-size="12.9" text-anchor="end" fill="#231f20" stroke="#231f20" stroke-width="0.2">0</text>
<line x1="465.60" y1="367.00" x2="470.40" y2="367.00" stroke="#231f20" stroke-width="1.25"/>
<text x="463.60" y="371.50" font-size="12.9" text-anchor="end" fill="#231f20" stroke="#231f20" stroke-width="0.2">5</text>
<line x1="465.60" y1="326.20" x2="470.40" y2="326.20" stroke="#231f20" stroke-width="1.25"/>
<text x="463.60" y="330.70" font-size="12.9" text-anchor="end" fill="#231f20" stroke="#231f20" stroke-width="0.2">10</text>
<line x1="465.60" y1="285.40" x2="470.40" y2="285.40" stroke="#231f20" stroke-width="1.25"/>
<text x="463.60" y="289.90" font-size="12.9" text-anchor="end" fill="#231f20" stroke="#231f20" stroke-width="0.2">15</text>
<text x="495.60" y="266.30" font-size="12.9" text-anchor="middle" fill="#231f20" stroke="#231f20" stroke-width="0.2">Reactivation</text>
<path d="M487.4,311.6 L487.4,300.4 L514,300.4 L514,365.4" fill="none" stroke="#231f20" stroke-width="1.1"/>
<path d="M486.56,288.30 L486.56,295.30 M483.52,290.05 L489.59,293.55 M483.52,293.55 L489.59,290.05 M496.19,288.30 L496.19,295.30 M493.15,290.05 L499.22,293.55 M493.15,293.55 L499.22,290.05 M505.81,288.30 L505.81,295.30 M502.78,290.05 L508.85,293.55 M502.78,293.55 L508.85,290.05 M515.45,288.30 L515.45,295.30 M512.41,290.05 L518.48,293.55 M512.41,293.55 L518.48,290.05 " fill="none" stroke="#000" stroke-width="1.5"/>
<circle cx="486.56" cy="291.80" r="1.1" fill="#000"/>
<circle cx="496.19" cy="291.80" r="1.1" fill="#000"/>
<circle cx="505.81" cy="291.80" r="1.1" fill="#000"/>
<circle cx="515.45" cy="291.80" r="1.1" fill="#000"/>
<circle cx="487.70" cy="323.60" r="2.4" fill="#000"/>
<circle cx="483.20" cy="329.00" r="2.4" fill="#000"/>
<circle cx="491.30" cy="328.10" r="2.4" fill="#000"/>
<circle cx="487.70" cy="337.90" r="2.4" fill="#000"/>
<circle cx="487.10" cy="345.10" r="2.4" fill="#000"/>
<line x1="478.40" y1="333.10" x2="496.40" y2="333.10" stroke="#231f20" stroke-width="1.3"/>
<line x1="487.40" y1="327.50" x2="487.40" y2="339.00" stroke="#231f20" stroke-width="1.3"/>
<line x1="482.90" y1="327.50" x2="491.90" y2="327.50" stroke="#231f20" stroke-width="1.3"/>
<line x1="482.90" y1="339.00" x2="491.90" y2="339.00" stroke="#231f20" stroke-width="1.3"/>
<circle cx="510.10" cy="376.70" r="2.4" fill="#e8503f"/>
<circle cx="518.10" cy="376.70" r="2.4" fill="#e8503f"/>
<circle cx="514.00" cy="384.80" r="2.4" fill="#e8503f"/>
<circle cx="510.10" cy="392.80" r="2.4" fill="#e8503f"/>
<circle cx="517.50" cy="392.80" r="2.4" fill="#e8503f"/>
<line x1="505.00" y1="384.80" x2="523.00" y2="384.80" stroke="#e8503f" stroke-width="1.3"/>
<line x1="514.00" y1="381.00" x2="514.00" y2="389.00" stroke="#e8503f" stroke-width="1.3"/>
<line x1="509.50" y1="381.00" x2="518.50" y2="381.00" stroke="#e8503f" stroke-width="1.3"/>
<line x1="509.50" y1="389.00" x2="518.50" y2="389.00" stroke="#e8503f" stroke-width="1.3"/>
<text x="487.40" y="427.00" font-size="12.9" text-anchor="middle" fill="#231f20" stroke="#231f20" stroke-width="0.2">CT</text>
<text x="514.00" y="427.00" font-size="12.9" text-anchor="middle" fill="#231f20" stroke="#231f20" stroke-width="0.2">AD</text>
<text x="444.80" y="355.70" font-size="12.2" text-anchor="middle" fill="#231f20" stroke="#231f20" stroke-width="0.2" transform="rotate(-90 444.80 355.70)"><tspan font-size="12.2" dy="0.00">ARC</tspan><tspan font-size="7.3" dy="-6.83">+</tspan><tspan font-size="12.2" dy="6.83"> &amp; mScarlet</tspan><tspan font-size="7.3" dy="-6.83">+</tspan><tspan font-size="12.2" dy="6.83">/mScarlet</tspan><tspan font-size="7.3" dy="-6.83">+</tspan><tspan font-size="12.2" dy="6.83"> (%)</tspan></text>
<line x1="779.50" y1="283.50" x2="779.50" y2="406.50" stroke="#231f20" stroke-width="1.25"/>
<line x1="774.70" y1="405.90" x2="837.10" y2="405.90" stroke="#231f20" stroke-width="1.25"/>
<line x1="796.20" y1="405.90" x2="796.20" y2="410.40" stroke="#231f20" stroke-width="1.25"/>
<line x1="823.00" y1="405.90" x2="823.00" y2="410.40" stroke="#231f20" stroke-width="1.25"/>
<line x1="774.70" y1="405.90" x2="779.50" y2="405.90" stroke="#231f20" stroke-width="1.25"/>
<text x="772.70" y="410.40" font-size="12.9" text-anchor="end" fill="#231f20" stroke="#231f20" stroke-width="0.2">0</text>
<line x1="774.70" y1="365.30" x2="779.50" y2="365.30" stroke="#231f20" stroke-width="1.25"/>
<text x="772.70" y="369.80" font-size="12.9" text-anchor="end" fill="#231f20" stroke="#231f20" stroke-width="0.2">1</text>
<line x1="774.70" y1="324.70" x2="779.50" y2="324.70" stroke="#231f20" stroke-width="1.25"/>
<text x="772.70" y="329.20" font-size="12.9" text-anchor="end" fill="#231f20" stroke="#231f20" stroke-width="0.2">2</text>
<line x1="774.70" y1="284.10" x2="779.50" y2="284.10" stroke="#231f20" stroke-width="1.25"/>
<text x="772.70" y="288.60" font-size="12.9" text-anchor="end" fill="#231f20" stroke="#231f20" stroke-width="0.2">3</text>
<text x="805.20" y="266.30" font-size="12.9" text-anchor="middle" fill="#231f20" stroke="#231f20" stroke-width="0.2">EGFP</text>
<line x1="796.20" y1="294.60" x2="824.00" y2="294.60" stroke="#231f20" stroke-width="1.1"/>
<text x="810.00" y="291.50" font-size="11.6" text-anchor="middle" fill="#231f20" stroke="#231f20" stroke-width="0.2">ns</text>
<circle cx="797.10" cy="302.70" r="2.4" fill="#000"/>
<circle cx="791.70" cy="320.00" r="2.4" fill="#000"/>
<circle cx="800.70" cy="319.10" r="2.4" fill="#000"/>
<circle cx="796.20" cy="326.60" r="2.4" fill="#000"/>
<circle cx="797.10" cy="338.50" r="2.4" fill="#000"/>
<line x1="787.20" y1="319.10" x2="805.20" y2="319.10" stroke="#231f20" stroke-width="1.3"/>
<line x1="796.20" y1="312.00" x2="796.20" y2="327.00" stroke="#231f20" stroke-width="1.3"/>
<line x1="791.70" y1="312.00" x2="800.70" y2="312.00" stroke="#231f20" stroke-width="1.3"/>
<line x1="791.70" y1="327.00" x2="800.70" y2="327.00" stroke="#231f20" stroke-width="1.3"/>
<circle cx="823.00" cy="299.10" r="2.4" fill="#e8503f"/>
<circle cx="823.00" cy="310.10" r="2.4" fill="#e8503f"/>
<circle cx="820.10" cy="316.10" r="2.4" fill="#e8503f"/>
<circle cx="826.00" cy="316.10" r="2.4" fill="#e8503f"/>
<circle cx="823.00" cy="329.60" r="2.4" fill="#e8503f"/>
<line x1="814.00" y1="313.70" x2="832.00" y2="313.70" stroke="#e8503f" stroke-width="1.3"/>
<line x1="823.00" y1="308.00" x2="823.00" y2="320.00" stroke="#e8503f" stroke-width="1.3"/>
<line x1="818.50" y1="308.00" x2="827.50" y2="308.00" stroke="#e8503f" stroke-width="1.3"/>
<line x1="818.50" y1="320.00" x2="827.50" y2="320.00" stroke="#e8503f" stroke-width="1.3"/>
<text x="796.20" y="424.50" font-size="12.9" text-anchor="middle" fill="#231f20" stroke="#231f20" stroke-width="0.2">CT</text>
<text x="823.00" y="424.50" font-size="12.9" text-anchor="middle" fill="#231f20" stroke="#231f20" stroke-width="0.2">AD</text>
<text x="756.00" y="350.00" font-size="12.6" text-anchor="middle" fill="#231f20" stroke="#231f20" stroke-width="0.2" transform="rotate(-90 756.00 350.00)"><tspan font-size="12.6" dy="0.00">EGFP</tspan><tspan font-size="7.6" dy="-7.06">+</tspan><tspan font-size="12.6" dy="7.06"> / DAPI</tspan><tspan font-size="7.6" dy="-7.06">+</tspan><tspan font-size="12.6" dy="7.06"> (%)</tspan></text>
<line x1="889.70" y1="282.60" x2="889.70" y2="405.80" stroke="#231f20" stroke-width="1.25"/>
<line x1="884.90" y1="405.20" x2="951.90" y2="405.20" stroke="#231f20" stroke-width="1.25"/>
<line x1="907.10" y1="405.20" x2="907.10" y2="409.70" stroke="#231f20" stroke-width="1.25"/>
<line x1="934.00" y1="405.20" x2="934.00" y2="409.70" stroke="#231f20" stroke-width="1.25"/>
<line x1="884.90" y1="405.20" x2="889.70" y2="405.20" stroke="#231f20" stroke-width="1.25"/>
<text x="882.90" y="409.70" font-size="12.9" text-anchor="end" fill="#231f20" stroke="#231f20" stroke-width="0.2">0</text>
<line x1="884.90" y1="364.53" x2="889.70" y2="364.53" stroke="#231f20" stroke-width="1.25"/>
<text x="882.90" y="369.03" font-size="12.9" text-anchor="end" fill="#231f20" stroke="#231f20" stroke-width="0.2">1</text>
<line x1="884.90" y1="323.87" x2="889.70" y2="323.87" stroke="#231f20" stroke-width="1.25"/>
<text x="882.90" y="328.37" font-size="12.9" text-anchor="end" fill="#231f20" stroke="#231f20" stroke-width="0.2">2</text>
<line x1="884.90" y1="283.20" x2="889.70" y2="283.20" stroke="#231f20" stroke-width="1.25"/>
<text x="882.90" y="287.70" font-size="12.9" text-anchor="end" fill="#231f20" stroke="#231f20" stroke-width="0.2">3</text>
<text x="919.60" y="268.40" font-size="12.9" text-anchor="middle" fill="#231f20" stroke="#231f20" stroke-width="0.2">ARC</text>
<path d="M907.4,318.3 L907.4,307.5 L933.9,307.5 L933.9,335.5" fill="none" stroke="#231f20" stroke-width="1.1"/>
<path d="M920.10,297.05 L920.10,304.55 M916.85,298.93 L923.35,302.68 M916.85,302.68 L923.35,298.93 " fill="none" stroke="#000" stroke-width="1.5"/>
<circle cx="920.10" cy="300.80" r="1.1" fill="#000"/>
<circle cx="907.10" cy="333.10" r="2.4" fill="#000"/>
<circle cx="901.70" cy="341.50" r="2.4" fill="#000"/>
<circle cx="912.20" cy="340.90" r="2.4" fill="#000"/>
<circle cx="906.20" cy="344.50" r="2.4" fill="#000"/>
<circle cx="907.70" cy="356.40" r="2.4" fill="#000"/>
<line x1="898.10" y1="341.50" x2="916.10" y2="341.50" stroke="#231f20" stroke-width="1.3"/>
<line x1="907.10" y1="337.00" x2="907.10" y2="347.00" stroke="#231f20" stroke-width="1.3"/>
<line x1="902.60" y1="337.00" x2="911.60" y2="337.00" stroke="#231f20" stroke-width="1.3"/>
<line x1="902.60" y1="347.00" x2="911.60" y2="347.00" stroke="#231f20" stroke-width="1.3"/>
<circle cx="930.10" cy="351.00" r="2.4" fill="#e8503f"/>
<circle cx="934.60" cy="352.80" r="2.4" fill="#e8503f"/>
<circle cx="933.10" cy="354.90" r="2.4" fill="#e8503f"/>
<circle cx="938.10" cy="354.90" r="2.4" fill="#e8503f"/>
<circle cx="934.00" cy="362.40" r="2.4" fill="#e8503f"/>
<line x1="925.00" y1="354.90" x2="943.00" y2="354.90" stroke="#e8503f" stroke-width="1.3"/>
<line x1="934.00" y1="352.50" x2="934.00" y2="357.50" stroke="#e8503f" stroke-width="1.3"/>
<line x1="929.50" y1="352.50" x2="938.50" y2="352.50" stroke="#e8503f" stroke-width="1.3"/>
<line x1="929.50" y1="357.50" x2="938.50" y2="357.50" stroke="#e8503f" stroke-width="1.3"/>
<text x="907.10" y="423.50" font-size="12.9" text-anchor="middle" fill="#231f20" stroke="#231f20" stroke-width="0.2">CT</text>
<text x="934.00" y="423.50" font-size="12.9" text-anchor="middle" fill="#231f20" stroke="#231f20" stroke-width="0.2">AD</text>
<text x="868.00" y="353.00" font-size="12.6" text-anchor="middle" fill="#231f20" stroke="#231f20" stroke-width="0.2" transform="rotate(-90 868.00 353.00)"><tspan font-size="12.6" dy="0.00">ARC</tspan><tspan font-size="7.6" dy="-7.06">+</tspan><tspan font-size="12.6" dy="7.06"> / DAPI</tspan><tspan font-size="7.6" dy="-7.06">+</tspan><tspan font-size="12.6" dy="7.06"> (%)</tspan></text>
<line x1="1010.80" y1="281.80" x2="1010.80" y2="405.60" stroke="#231f20" stroke-width="1.25"/>
<line x1="1006.00" y1="405.00" x2="1071.60" y2="405.00" stroke="#231f20" stroke-width="1.25"/>
<line x1="1027.60" y1="405.00" x2="1027.60" y2="409.50" stroke="#231f20" stroke-width="1.25"/>
<line x1="1054.30" y1="405.00" x2="1054.30" y2="409.50" stroke="#231f20" stroke-width="1.25"/>
<line x1="1006.00" y1="405.00" x2="1010.80" y2="405.00" stroke="#231f20" stroke-width="1.25"/>
<text x="1004.00" y="409.50" font-size="12.9" text-anchor="end" fill="#231f20" stroke="#231f20" stroke-width="0.2">0</text>
<line x1="1006.00" y1="374.35" x2="1010.80" y2="374.35" stroke="#231f20" stroke-width="1.25"/>
<text x="1004.00" y="378.85" font-size="12.9" text-anchor="end" fill="#231f20" stroke="#231f20" stroke-width="0.2">5</text>
<line x1="1006.00" y1="343.70" x2="1010.80" y2="343.70" stroke="#231f20" stroke-width="1.25"/>
<text x="1004.00" y="348.20" font-size="12.9" text-anchor="end" fill="#231f20" stroke="#231f20" stroke-width="0.2">10</text>
<line x1="1006.00" y1="313.05" x2="1010.80" y2="313.05" stroke="#231f20" stroke-width="1.25"/>
<text x="1004.00" y="317.55" font-size="12.9" text-anchor="end" fill="#231f20" stroke="#231f20" stroke-width="0.2">15</text>
<line x1="1006.00" y1="282.40" x2="1010.80" y2="282.40" stroke="#231f20" stroke-width="1.25"/>
<text x="1004.00" y="286.90" font-size="12.9" text-anchor="end" fill="#231f20" stroke="#231f20" stroke-width="0.2">20</text>
<text x="1033.70" y="266.60" font-size="12.9" text-anchor="middle" fill="#231f20" stroke="#231f20" stroke-width="0.2">Reactivation</text>
<path d="M1027.6,309 L1027.6,294.4 L1054.2,294.4 L1054.2,298.3" fill="none" stroke="#231f20" stroke-width="1.1"/>
<path d="M1031.35,283.95 L1031.35,291.45 M1028.10,285.82 L1034.60,289.57 M1028.10,289.57 L1034.60,285.82 M1041.00,283.95 L1041.00,291.45 M1037.75,285.82 L1044.25,289.57 M1037.75,289.57 L1044.25,285.82 M1050.65,283.95 L1050.65,291.45 M1047.40,285.82 L1053.90,289.57 M1047.40,289.57 L1053.90,285.82 " fill="none" stroke="#000" stroke-width="1.5"/>
<circle cx="1031.35" cy="287.70" r="1.1" fill="#000"/>
<circle cx="1041.00" cy="287.70" r="1.1" fill="#000"/>
<circle cx="1050.65" cy="287.70" r="1.1" fill="#000"/>
<circle cx="1027.70" cy="359.10" r="2.4" fill="#000"/>
<circle cx="1023.30" cy="367.00" r="2.4" fill="#000"/>
<circle cx="1031.80" cy="367.00" r="2.4" fill="#000"/>
<circle cx="1025.50" cy="374.80" r="2.4" fill="#000"/>
<circle cx="1030.90" cy="374.80" r="2.4" fill="#000"/>
<line x1="1018.70" y1="368.50" x2="1036.70" y2="368.50" stroke="#231f20" stroke-width="1.3"/>
<line x1="1027.70" y1="365.50" x2="1027.70" y2="372.00" stroke="#231f20" stroke-width="1.3"/>
<line x1="1023.20" y1="365.50" x2="1032.20" y2="365.50" stroke="#231f20" stroke-width="1.3"/>
<line x1="1023.20" y1="372.00" x2="1032.20" y2="372.00" stroke="#231f20" stroke-width="1.3"/>
<circle cx="1053.70" cy="305.20" r="2.4" fill="#e8503f"/>
<circle cx="1050.60" cy="323.10" r="2.4" fill="#e8503f"/>
<circle cx="1053.70" cy="330.90" r="2.4" fill="#e8503f"/>
<circle cx="1053.70" cy="350.30" r="2.4" fill="#e8503f"/>
<line x1="1044.70" y1="326.20" x2="1062.70" y2="326.20" stroke="#e8503f" stroke-width="1.3"/>
<line x1="1053.70" y1="319.90" x2="1053.70" y2="334.00" stroke="#e8503f" stroke-width="1.3"/>
<line x1="1049.20" y1="319.90" x2="1058.20" y2="319.90" stroke="#e8503f" stroke-width="1.3"/>
<line x1="1049.20" y1="334.00" x2="1058.20" y2="334.00" stroke="#e8503f" stroke-width="1.3"/>
<text x="1027.60" y="424.50" font-size="12.9" text-anchor="middle" fill="#231f20" stroke="#231f20" stroke-width="0.2">CT</text>
<text x="1054.30" y="424.50" font-size="12.9" text-anchor="middle" fill="#231f20" stroke="#231f20" stroke-width="0.2">AD</text>
<text x="980.50" y="351.00" font-size="12.2" text-anchor="middle" fill="#231f20" stroke="#231f20" stroke-width="0.2" transform="rotate(-90 980.50 351.00)"><tspan font-size="12.2" dy="0.00">ARC</tspan><tspan font-size="7.3" dy="-6.83">+</tspan><tspan font-size="12.2" dy="6.83"> &amp; EGFP</tspan><tspan font-size="7.3" dy="-6.83">+</tspan><tspan font-size="12.2" dy="6.83">/ EGFP</tspan><tspan font-size="7.3" dy="-6.83">+</tspan><tspan font-size="12.2" dy="6.83">(%)</tspan></text>
<line x1="935.50" y1="44.20" x2="935.50" y2="168.70" stroke="#231f20" stroke-width="1.25"/>
<line x1="930.70" y1="168.10" x2="1022.10" y2="168.10" stroke="#231f20" stroke-width="1.25"/>
<line x1="959.80" y1="168.10" x2="959.80" y2="172.60" stroke="#231f20" stroke-width="1.25"/>
<line x1="996.50" y1="168.10" x2="996.50" y2="172.60" stroke="#231f20" stroke-width="1.25"/>
<line x1="930.70" y1="168.10" x2="935.50" y2="168.10" stroke="#231f20" stroke-width="1.25"/>
<text x="928.70" y="172.60" font-size="12.9" text-anchor="end" fill="#231f20" stroke="#231f20" stroke-width="0.2">0</text>
<line x1="930.70" y1="143.44" x2="935.50" y2="143.44" stroke="#231f20" stroke-width="1.25"/>
<text x="928.70" y="147.94" font-size="12.9" text-anchor="end" fill="#231f20" stroke="#231f20" stroke-width="0.2">10</text>
<line x1="930.70" y1="118.78" x2="935.50" y2="118.78" stroke="#231f20" stroke-width="1.25"/>
<text x="928.70" y="123.28" font-size="12.9" text-anchor="end" fill="#231f20" stroke="#231f20" stroke-width="0.2">20</text>
<line x1="930.70" y1="94.12" x2="935.50" y2="94.12" stroke="#231f20" stroke-width="1.25"/>
<text x="928.70" y="98.62" font-size="12.9" text-anchor="end" fill="#231f20" stroke="#231f20" stroke-width="0.2">30</text>
<line x1="930.70" y1="69.46" x2="935.50" y2="69.46" stroke="#231f20" stroke-width="1.25"/>
<text x="928.70" y="73.96" font-size="12.9" text-anchor="end" fill="#231f20" stroke="#231f20" stroke-width="0.2">40</text>
<line x1="930.70" y1="44.80" x2="935.50" y2="44.80" stroke="#231f20" stroke-width="1.25"/>
<text x="928.70" y="49.30" font-size="12.9" text-anchor="end" fill="#231f20" stroke="#231f20" stroke-width="0.2">50</text>
<text x="972.80" y="24.50" font-size="12.9" text-anchor="middle" fill="#231f20" stroke="#231f20" stroke-width="0.2">24h memory</text>
<rect x="948.00" y="88.70" width="24.50" height="79.30" fill="#fff" stroke="#231f20" stroke-width="1.3"/>
<rect x="984.50" y="130.40" width="24.80" height="37.60" fill="#fff" stroke="#e0552a" stroke-width="1.3"/>
<path d="M960.3,51.6 L960.3,45.8 L996.9,45.8 L996.9,109" fill="none" stroke="#231f20" stroke-width="1.1"/>
<path d="M963.15,33.15 L963.15,40.65 M959.91,35.02 L966.40,38.77 M959.91,38.77 L966.40,35.02 M972.78,33.15 L972.78,40.65 M969.54,35.02 L976.03,38.77 M969.54,38.77 L976.03,35.02 M982.42,33.15 L982.42,40.65 M979.17,35.02 L985.66,38.77 M979.17,38.77 L985.66,35.02 M992.05,33.15 L992.05,40.65 M988.80,35.02 L995.29,38.77 M988.80,38.77 L995.29,35.02 " fill="none" stroke="#000" stroke-width="1.5"/>
<circle cx="963.15" cy="36.90" r="1.1" fill="#000"/>
<circle cx="972.78" cy="36.90" r="1.1" fill="#000"/>
<circle cx="982.42" cy="36.90" r="1.1" fill="#000"/>
<circle cx="992.05" cy="36.90" r="1.1" fill="#000"/>
<circle cx="960.00" cy="57.60" r="2.4" fill="#000"/>
<circle cx="960.00" cy="61.20" r="2.4" fill="#000"/>
<circle cx="960.00" cy="70.10" r="2.4" fill="#000"/>
<circle cx="960.00" cy="80.60" r="2.4" fill="#000"/>
<circle cx="957.00" cy="97.00" r="2.4" fill="#000"/>
<circle cx="964.00" cy="97.00" r="2.4" fill="#000"/>
<circle cx="960.00" cy="93.10" r="2.4" fill="#000"/>
<circle cx="960.00" cy="116.40" r="2.4" fill="#000"/>
<circle cx="960.00" cy="131.30" r="2.4" fill="#000"/>
<circle cx="964.00" cy="86.60" r="2.4" fill="#000"/>
<line x1="953.00" y1="88.70" x2="967.00" y2="88.70" stroke="#231f20" stroke-width="1.3"/>
<line x1="960.00" y1="81.20" x2="960.00" y2="96.00" stroke="#231f20" stroke-width="1.3"/>
<line x1="953.00" y1="81.20" x2="967.00" y2="81.20" stroke="#231f20" stroke-width="1.3"/>
<line x1="953.00" y1="96.00" x2="967.00" y2="96.00" stroke="#231f20" stroke-width="1.3"/>
<circle cx="993.40" cy="111.90" r="2.4" fill="#e0552a"/>
<circle cx="1000.00" cy="113.40" r="2.4" fill="#e0552a"/>
<circle cx="998.80" cy="120.90" r="2.4" fill="#e0552a"/>
<circle cx="996.40" cy="128.40" r="2.4" fill="#e0552a"/>
<circle cx="991.00" cy="131.30" r="2.4" fill="#e0552a"/>
<circle cx="1000.90" cy="132.80" r="2.4" fill="#e0552a"/>
<circle cx="996.40" cy="137.30" r="2.4" fill="#e0552a"/>
<circle cx="997.00" cy="141.80" r="2.4" fill="#e0552a"/>
<circle cx="996.40" cy="146.30" r="2.4" fill="#e0552a"/>
<circle cx="994.00" cy="125.40" r="2.4" fill="#e0552a"/>
<line x1="990.00" y1="130.40" x2="1004.00" y2="130.40" stroke="#e0552a" stroke-width="1.3"/>
<line x1="997.00" y1="126.50" x2="997.00" y2="134.50" stroke="#e0552a" stroke-width="1.3"/>
<line x1="990.00" y1="126.50" x2="1004.00" y2="126.50" stroke="#e0552a" stroke-width="1.3"/>
<line x1="990.00" y1="134.50" x2="1004.00" y2="134.50" stroke="#e0552a" stroke-width="1.3"/>
<text x="960.00" y="187.50" font-size="12.9" text-anchor="middle" fill="#231f20" stroke="#231f20" stroke-width="0.2">CT</text>
<text x="997.00" y="187.50" font-size="12.9" text-anchor="middle" fill="#231f20" stroke="#231f20" stroke-width="0.2">AD</text>
<text x="908.80" y="112.70" font-size="13.2" text-anchor="middle" fill="#231f20" stroke="#231f20" stroke-width="0.2" transform="rotate(-90 908.80 112.70)"><tspan font-size="13.2" dy="0.00">Freezing (%)</tspan></text>
<line x1="789.60" y1="485.70" x2="789.60" y2="609.90" stroke="#231f20" stroke-width="1.25"/>
<line x1="784.80" y1="609.30" x2="871.30" y2="609.30" stroke="#231f20" stroke-width="1.25"/>
<line x1="814.20" y1="609.30" x2="814.20" y2="613.80" stroke="#231f20" stroke-width="1.25"/>
<line x1="851.00" y1="609.30" x2="851.00" y2="613.80" stroke="#231f20" stroke-width="1.25"/>
<line x1="784.80" y1="609.30" x2="789.60" y2="609.30" stroke="#231f20" stroke-width="1.25"/>
<text x="782.80" y="613.80" font-size="12.9" text-anchor="end" fill="#231f20" stroke="#231f20" stroke-width="0.2">0</text>
<line x1="784.80" y1="568.30" x2="789.60" y2="568.30" stroke="#231f20" stroke-width="1.25"/>
<text x="782.80" y="572.80" font-size="12.9" text-anchor="end" fill="#231f20" stroke="#231f20" stroke-width="0.2">10</text>
<line x1="784.80" y1="527.30" x2="789.60" y2="527.30" stroke="#231f20" stroke-width="1.25"/>
<text x="782.80" y="531.80" font-size="12.9" text-anchor="end" fill="#231f20" stroke="#231f20" stroke-width="0.2">20</text>
<line x1="784.80" y1="486.30" x2="789.60" y2="486.30" stroke="#231f20" stroke-width="1.25"/>
<text x="782.80" y="490.80" font-size="12.9" text-anchor="end" fill="#231f20" stroke="#231f20" stroke-width="0.2">30</text>
<text x="830.70" y="478.50" font-size="12.9" text-anchor="middle" fill="#231f20" stroke="#231f20" stroke-width="0.2">Inhibition</text>
<path d="M814.4,507.8 L814.4,497.8 L851.1,497.8 L851.1,583.9" fill="none" stroke="#231f20" stroke-width="1.1"/>
<path d="M814.40,488.80 L814.40,494.60 M811.89,490.25 L816.91,493.15 M811.89,493.15 L816.91,490.25 M825.60,488.80 L825.60,494.60 M823.09,490.25 L828.11,493.15 M823.09,493.15 L828.11,490.25 M833.30,488.80 L833.30,494.60 M830.79,490.25 L835.81,493.15 M830.79,493.15 L835.81,490.25 M844.70,488.80 L844.70,494.60 M842.19,490.25 L847.21,493.15 M842.19,493.15 L847.21,490.25 " fill="none" stroke="#000" stroke-width="1.2"/>
<circle cx="814.40" cy="491.70" r="1.1" fill="#000"/>
<circle cx="825.60" cy="491.70" r="1.1" fill="#000"/>
<circle cx="833.30" cy="491.70" r="1.1" fill="#000"/>
<circle cx="844.70" cy="491.70" r="1.1" fill="#000"/>
<circle cx="814.00" cy="519.10" r="2.4" fill="#000"/>
<circle cx="808.70" cy="531.60" r="2.4" fill="#000"/>
<circle cx="819.10" cy="531.60" r="2.4" fill="#000"/>
<circle cx="814.00" cy="537.60" r="2.4" fill="#000"/>
<circle cx="814.00" cy="552.50" r="2.4" fill="#000"/>
<line x1="805.00" y1="533.70" x2="823.00" y2="533.70" stroke="#231f20" stroke-width="1.3"/>
<line x1="814.00" y1="525.50" x2="814.00" y2="545.00" stroke="#231f20" stroke-width="1.3"/>
<line x1="809.50" y1="525.50" x2="818.50" y2="525.50" stroke="#231f20" stroke-width="1.3"/>
<line x1="809.50" y1="545.00" x2="818.50" y2="545.00" stroke="#231f20" stroke-width="1.3"/>
<circle cx="851.00" cy="591.30" r="2.4" fill="#29a3dd"/>
<circle cx="846.90" cy="595.80" r="2.4" fill="#29a3dd"/>
<circle cx="854.90" cy="595.80" r="2.4" fill="#29a3dd"/>
<circle cx="847.50" cy="603.30" r="2.4" fill="#29a3dd"/>
<circle cx="854.90" cy="603.30" r="2.4" fill="#29a3dd"/>
<line x1="842.00" y1="597.90" x2="860.00" y2="597.90" stroke="#29a3dd" stroke-width="1.3"/>
<line x1="851.00" y1="595.50" x2="851.00" y2="600.50" stroke="#29a3dd" stroke-width="1.3"/>
<line x1="846.50" y1="595.50" x2="855.50" y2="595.50" stroke="#29a3dd" stroke-width="1.3"/>
<line x1="846.50" y1="600.50" x2="855.50" y2="600.50" stroke="#29a3dd" stroke-width="1.3"/>
<text x="759.50" y="555.00" font-size="12.6" text-anchor="middle" fill="#231f20" stroke="#231f20" stroke-width="0.2" transform="rotate(-90 759.50 555.00)"><tspan font-size="12.6" dy="0.00">ARC</tspan><tspan font-size="7.6" dy="-7.06">+</tspan><tspan font-size="12.6" dy="7.06"> &amp; mCherry</tspan><tspan font-size="7.6" dy="-7.06">+</tspan><tspan font-size="12.6" dy="7.06"> / mCherry</tspan><tspan font-size="7.6" dy="-7.06">+</tspan><tspan font-size="12.6" dy="7.06"> (%)</tspan></text>
<text x="817.50" y="626.20" font-size="12.9" text-anchor="end" fill="#231f20" stroke="#231f20" stroke-width="0.2" transform="rotate(-45 817.5 626.2)">AD SAL</text>
<text x="854.50" y="626.20" font-size="12.9" text-anchor="end" fill="#231f20" stroke="#231f20" stroke-width="0.2" transform="rotate(-45 854.5 626.2)">AD CNO</text>
<line x1="953.50" y1="485.70" x2="953.50" y2="608.90" stroke="#231f20" stroke-width="1.25"/>
<line x1="948.70" y1="608.30" x2="1055.80" y2="608.30" stroke="#231f20" stroke-width="1.25"/>
<line x1="973.70" y1="608.30" x2="973.70" y2="612.80" stroke="#231f20" stroke-width="1.25"/>
<line x1="1003.70" y1="608.30" x2="1003.70" y2="612.80" stroke="#231f20" stroke-width="1.25"/>
<line x1="1033.90" y1="608.30" x2="1033.90" y2="612.80" stroke="#231f20" stroke-width="1.25"/>
<line x1="948.70" y1="608.30" x2="953.50" y2="608.30" stroke="#231f20" stroke-width="1.25"/>
<text x="946.70" y="612.80" font-size="12.9" text-anchor="end" fill="#231f20" stroke="#231f20" stroke-width="0.2">0</text>
<line x1="948.70" y1="583.90" x2="953.50" y2="583.90" stroke="#231f20" stroke-width="1.25"/>
<text x="946.70" y="588.40" font-size="12.9" text-anchor="end" fill="#231f20" stroke="#231f20" stroke-width="0.2">20</text>
<line x1="948.70" y1="559.50" x2="953.50" y2="559.50" stroke="#231f20" stroke-width="1.25"/>
<text x="946.70" y="564.00" font-size="12.9" text-anchor="end" fill="#231f20" stroke="#231f20" stroke-width="0.2">40</text>
<line x1="948.70" y1="535.10" x2="953.50" y2="535.10" stroke="#231f20" stroke-width="1.25"/>
<text x="946.70" y="539.60" font-size="12.9" text-anchor="end" fill="#231f20" stroke="#231f20" stroke-width="0.2">60</text>
<line x1="948.70" y1="510.70" x2="953.50" y2="510.70" stroke="#231f20" stroke-width="1.25"/>
<text x="946.70" y="515.20" font-size="12.9" text-anchor="end" fill="#231f20" stroke="#231f20" stroke-width="0.2">80</text>
<line x1="948.70" y1="486.30" x2="953.50" y2="486.30" stroke="#231f20" stroke-width="1.25"/>
<text x="946.70" y="490.80" font-size="12.9" text-anchor="end" fill="#231f20" stroke="#231f20" stroke-width="0.2">100</text>
<rect x="963.20" y="562.50" width="20.90" height="46.00" fill="#fff" stroke="#8a8a8a" stroke-width="1.3"/>
<rect x="993.70" y="587.90" width="20.30" height="20.60" fill="#fff" stroke="#231f20" stroke-width="1.3"/>
<rect x="1024.40" y="561.00" width="20.40" height="47.50" fill="#fff" stroke="#1f9ad8" stroke-width="1.3"/>
<path d="M973.6,512.3 L973.6,493.9 L997.5,493.9 L997.5,512.3" fill="none" stroke="#231f20" stroke-width="1.1"/>
<path d="M1010.5,512.3 L1010.5,493.9 L1034.5,493.9 L1034.5,512.3" fill="none" stroke="#231f20" stroke-width="1.1"/>
<path d="M984.60,482.35 L984.60,489.85 M981.35,484.23 L987.85,487.98 M981.35,487.98 L987.85,484.23 " fill="none" stroke="#000" stroke-width="1.5"/>
<circle cx="984.60" cy="486.10" r="1.1" fill="#000"/>
<path d="M1021.50,482.35 L1021.50,489.85 M1018.25,484.23 L1024.75,487.98 M1018.25,487.98 L1024.75,484.23 " fill="none" stroke="#000" stroke-width="1.5"/>
<circle cx="1021.50" cy="486.10" r="1.1" fill="#000"/>
<circle cx="973.70" cy="522.10" r="2.4" fill="#000"/>
<circle cx="973.70" cy="536.20" r="2.4" fill="#000"/>
<circle cx="967.70" cy="552.00" r="2.4" fill="#000"/>
<circle cx="979.60" cy="552.00" r="2.4" fill="#000"/>
<circle cx="973.70" cy="555.60" r="2.4" fill="#000"/>
<circle cx="973.70" cy="563.10" r="2.4" fill="#000"/>
<circle cx="973.70" cy="573.50" r="2.4" fill="#000"/>
<circle cx="973.70" cy="599.80" r="2.4" fill="#000"/>
<circle cx="973.70" cy="606.40" r="2.4" fill="#000"/>
<line x1="967.70" y1="562.50" x2="979.70" y2="562.50" stroke="#231f20" stroke-width="1.3"/>
<line x1="973.70" y1="552.60" x2="973.70" y2="570.50" stroke="#231f20" stroke-width="1.3"/>
<line x1="967.70" y1="552.60" x2="979.70" y2="552.60" stroke="#231f20" stroke-width="1.3"/>
<line x1="967.70" y1="570.50" x2="979.70" y2="570.50" stroke="#231f20" stroke-width="1.3"/>
<circle cx="1003.90" cy="551.10" r="2.4" fill="#000"/>
<circle cx="1003.90" cy="567.60" r="2.4" fill="#000"/>
<circle cx="1003.90" cy="575.90" r="2.4" fill="#000"/>
<circle cx="1003.90" cy="589.10" r="2.4" fill="#000"/>
<circle cx="995.50" cy="603.40" r="2.4" fill="#000"/>
<circle cx="995.00" cy="607.00" r="2.4" fill="#000"/>
<circle cx="1003.90" cy="606.40" r="2.4" fill="#000"/>
<circle cx="1011.00" cy="606.40" r="2.4" fill="#000"/>
<circle cx="1006.00" cy="600.40" r="2.4" fill="#000"/>
<line x1="997.90" y1="587.90" x2="1009.90" y2="587.90" stroke="#231f20" stroke-width="1.3"/>
<line x1="1003.90" y1="581.00" x2="1003.90" y2="594.40" stroke="#231f20" stroke-width="1.3"/>
<line x1="997.90" y1="581.00" x2="1009.90" y2="581.00" stroke="#231f20" stroke-width="1.3"/>
<line x1="997.90" y1="594.40" x2="1009.90" y2="594.40" stroke="#231f20" stroke-width="1.3"/>
<circle cx="1034.60" cy="529.30" r="2.4" fill="#1f9ad8"/>
<circle cx="1034.60" cy="534.10" r="2.4" fill="#1f9ad8"/>
<circle cx="1034.60" cy="541.30" r="2.4" fill="#1f9ad8"/>
<circle cx="1030.00" cy="555.00" r="2.4" fill="#1f9ad8"/>
<circle cx="1038.00" cy="555.00" r="2.4" fill="#1f9ad8"/>
<circle cx="1036.00" cy="563.10" r="2.4" fill="#1f9ad8"/>
<circle cx="1030.00" cy="573.50" r="2.4" fill="#1f9ad8"/>
<circle cx="1038.00" cy="575.00" r="2.4" fill="#1f9ad8"/>
<circle cx="1034.60" cy="581.00" r="2.4" fill="#1f9ad8"/>
<circle cx="1034.60" cy="603.40" r="2.4" fill="#1f9ad8"/>
<line x1="1028.60" y1="561.00" x2="1040.60" y2="561.00" stroke="#1f9ad8" stroke-width="1.3"/>
<line x1="1034.60" y1="555.00" x2="1034.60" y2="567.00" stroke="#1f9ad8" stroke-width="1.3"/>
<line x1="1028.60" y1="555.00" x2="1040.60" y2="555.00" stroke="#1f9ad8" stroke-width="1.3"/>
<line x1="1028.60" y1="567.00" x2="1040.60" y2="567.00" stroke="#1f9ad8" stroke-width="1.3"/>
<text x="924.80" y="553.40" font-size="13.2" text-anchor="middle" fill="#231f20" stroke="#231f20" stroke-width="0.2" transform="rotate(-90 924.80 553.40)"><tspan font-size="13.2" dy="0.00">Freezing (%)</tspan></text>
<text x="977.20" y="626.20" font-size="12.9" text-anchor="end" fill="#231f20" stroke="#231f20" stroke-width="0.2" transform="rotate(-45 977.2 626.2)">CT SAL</text>
<text x="1007.40" y="626.20" font-size="12.9" text-anchor="end" fill="#231f20" stroke="#231f20" stroke-width="0.2" transform="rotate(-45 1007.4 626.2)">AD SAL</text>
<text x="1038.10" y="626.20" font-size="12.9" text-anchor="end" fill="#231f20" stroke="#231f20" stroke-width="0.2" transform="rotate(-45 1038.1 626.2)">AD CNO</text>
<path d="M56.3,510.2 L85.4,510.2 L88.9,518.45 L85.4,526.7 L56.3,526.7 Z" fill="#fff" stroke="#3d3a3a" stroke-width="1.1"/>
<line x1="52.30" y1="518.45" x2="56.30" y2="518.45" stroke="#231f20" stroke-width="1"/>
<text x="71.60" y="522.85" font-size="12.9" text-anchor="middle" fill="#231f20" stroke="#231f20" stroke-width="0.2">TRE</text>
<line x1="88.90" y1="518.40" x2="91.50" y2="518.40" stroke="#231f20" stroke-width="1"/>
<rect x="91.50" y="510.20" width="100.70" height="16.50" fill="#fff" stroke="#2e7dbb" stroke-width="1.1"/>
<line x1="192.20" y1="518.45" x2="196.20" y2="518.45" stroke="#231f20" stroke-width="1"/>
<text x="141.85" y="522.85" font-size="12.9" text-anchor="middle" fill="#2e7dbb" stroke="#2e7dbb" stroke-width="0.2">hM4Di-mCherry</text>
<path d="M56.3,531.5 L105.0,531.5 L108.5,540.0 L105.0,548.5 L56.3,548.5 Z" fill="#fff" stroke="#9b2d92" stroke-width="1.1"/>
<line x1="52.30" y1="540.00" x2="56.30" y2="540.00" stroke="#231f20" stroke-width="1"/>
<text x="81.40" y="544.40" font-size="12.9" text-anchor="middle" fill="#9b2d92" stroke="#9b2d92" stroke-width="0.2">N-RAM</text>
<line x1="108.50" y1="540.00" x2="110.80" y2="540.00" stroke="#231f20" stroke-width="1"/>
<rect x="110.80" y="531.50" width="40.20" height="17.00" fill="#fff" stroke="#3d3a3a" stroke-width="1.1"/>
<line x1="151.00" y1="540.00" x2="155.00" y2="540.00" stroke="#231f20" stroke-width="1"/>
<text x="130.90" y="544.40" font-size="12.9" text-anchor="middle" fill="#231f20" stroke="#231f20" stroke-width="0.2">d2tTA</text>
<path d="M97.50,572.75 C109.26,572.08 126.48,575.86 126.48,590.14 C126.48,600.22 122.70,610.30 115.98,610.30 C110.94,610.30 108.84,606.94 107.58,606.27 C105.06,608.62 102.54,609.88 97.50,609.88 C92.46,609.88 89.94,608.62 87.42,606.27 C86.16,606.94 84.06,610.30 79.02,610.30 C72.30,610.30 68.52,600.22 68.52,590.14 C68.52,575.86 85.74,572.08 97.50,572.75 Z" fill="#fff" stroke="#231f20" stroke-width="1.2"/>
<line x1="97.50" y1="572.75" x2="97.50" y2="589.05" stroke="#231f20" stroke-width="0.9"/>
<line x1="95.23" y1="585.35" x2="99.85" y2="585.35" stroke="#231f20" stroke-width="0.9"/>
<path d="M97.50,581.57 C99.18,580.06 100.86,577.96 102.54,578.13 C105.06,578.38 110.10,579.22 114.72,585.52" fill="none" stroke="#9a9a9a" stroke-width="2.016"/>
<path d="M98.34,585.10 C101.70,581.74 105.90,580.06 109.26,580.90 C112.62,581.74 115.14,584.26 115.14,590.98" fill="none" stroke="#231f20" stroke-width="1.092"/>
<path d="M97.92,585.52 C102.54,585.94 109.26,586.36 114.30,587.20" fill="none" stroke="#231f20" stroke-width="0.924"/>
<ellipse cx="104.22" cy="584.85" rx="3.86" ry="1.85" fill="#a8c0ac" stroke="#3a4a3a" stroke-width="0.6"/>
<path d="M121.19,589.30 C120.18,594.34 118.50,599.38 116.48,603.58" fill="none" stroke="#b0b0b0" stroke-width="0.7"/>
<path d="M97.50,581.57 C95.82,580.06 94.14,577.96 92.46,578.13 C89.94,578.38 84.90,579.22 80.28,585.52" fill="none" stroke="#9a9a9a" stroke-width="2.016"/>
<path d="M96.66,585.10 C93.30,581.74 89.10,580.06 85.74,580.90 C82.38,581.74 79.86,584.26 79.86,590.98" fill="none" stroke="#231f20" stroke-width="1.092"/>
<path d="M97.08,585.52 C92.46,585.94 85.74,586.36 80.70,587.20" fill="none" stroke="#231f20" stroke-width="0.924"/>
<ellipse cx="90.78" cy="584.85" rx="3.86" ry="1.85" fill="#a8c0ac" stroke="#3a4a3a" stroke-width="0.6"/>
<path d="M73.81,589.30 C74.82,594.34 76.50,599.38 78.52,603.58" fill="none" stroke="#b0b0b0" stroke-width="0.7"/>
<rect x="88.51" y="556.54" width="3.19" height="1.68" fill="#231f20" stroke="none" stroke-width="1"/>
<line x1="90.11" y1="558.22" x2="90.11" y2="559.31" stroke="#231f20" stroke-width="1"/>
<rect x="88.26" y="559.31" width="3.70" height="11.76" fill="#7a7a7a" stroke="#231f20" stroke-width="0.9"/>
<line x1="90.11" y1="571.07" x2="90.11" y2="582.75" stroke="#231f20" stroke-width="0.8"/>
<rect x="103.63" y="556.54" width="3.19" height="1.68" fill="#231f20" stroke="none" stroke-width="1"/>
<line x1="105.23" y1="558.22" x2="105.23" y2="559.31" stroke="#231f20" stroke-width="1"/>
<rect x="103.38" y="559.31" width="3.70" height="11.76" fill="#7a7a7a" stroke="#231f20" stroke-width="0.9"/>
<line x1="105.23" y1="571.07" x2="105.23" y2="582.75" stroke="#231f20" stroke-width="0.8"/>
<text x="93.80" y="599.80" font-size="12.4" text-anchor="middle" fill="#231f20" stroke="#231f20" stroke-width="0.2">dDG</text>
<text x="96.60" y="630.20" font-size="12.9" text-anchor="middle" fill="#231f20" stroke="#231f20" stroke-width="0.2">7 month old AD</text>
<line x1="142.00" y1="584.30" x2="202.50" y2="584.30" stroke="#231f20" stroke-width="1.1"/>
<path d="M207.5,584.3 L201.0,581.0999999999999 L201.0,587.5 Z" fill="#231f20" stroke="none" stroke-width="1"/>
<text x="175.50" y="579.10" font-size="12.9" text-anchor="middle" fill="#231f20" stroke="#231f20" stroke-width="0.2">2w</text>
<path d="M219.4,609.6 L277.2,609.6 L295.59999999999997,598.7 L237.8,598.7 Z" fill="#a8a8a8" stroke="none" stroke-width="1"/>
<line x1="237.80" y1="544.60" x2="237.80" y2="598.70" stroke="#2b2727" stroke-width="1.3" stroke-dasharray="3.6 2.4"/>
<line x1="237.80" y1="598.70" x2="295.60" y2="598.70" stroke="#2b2727" stroke-width="1.3" stroke-dasharray="3.6 2.4"/>
<line x1="219.40" y1="609.60" x2="237.80" y2="598.70" stroke="#2b2727" stroke-width="1.3" stroke-dasharray="3.6 2.4"/>
<path d="M240.00,597.20 C245.00,598.40 249.00,598.80 254.00,598.20" fill="none" stroke="#d6a6a2" stroke-width="0.9"/>
<ellipse cx="259.60" cy="593.10" rx="8.30" ry="6.30" fill="#3c3330"/>
<ellipse cx="267.00" cy="591.40" rx="4.20" ry="3.30" fill="#3c3330" transform="rotate(22 267.00 591.40)"/>
<path d="M268.00,589.50 L271.60,592.80 L268.50,594.00 Z" fill="#3c3330" stroke="none" stroke-width="1"/>
<circle cx="265.60" cy="587.80" r="1.90" fill="#c9a0a0" stroke="#3c3330" stroke-width="0.6"/>
<path d="M255.00,599.00 L258.00,599.00 M264.00,599.00 L267.00,599.00" fill="none" stroke="#3c3330" stroke-width="1.2"/>
<path d="M262.50,559.00 L267.00,563.00 L264.00,567.00 L265.50,568.20 L256.50,581.00 L260.50,570.00 L259.00,569.00 Z" fill="#ffe100" stroke="#231f20" stroke-width="0.8"/>
<path d="M219.4,555.5 L237.8,544.6 L295.59999999999997,544.6 L277.2,555.5 Z M295.59999999999997,544.6 L295.59999999999997,598.7 L277.2,609.6" fill="none" stroke="#2b2727" stroke-width="1.2" stroke-linejoin="round"/>
<rect x="219.40" y="555.50" width="57.80" height="54.10" fill="none" stroke="#2b2727" stroke-width="1.2"/>
<text x="256.30" y="537.80" font-size="12.9" text-anchor="middle" fill="#231f20" stroke="#231f20" stroke-width="0.2">CFC</text>
<rect x="211.60" y="615.00" width="89.30" height="16.90" fill="#555555" stroke="#333" stroke-width="0.8"/>
<text x="256.20" y="627.80" font-size="12.8" text-anchor="middle" fill="#e6e6e6" stroke="#e6e6e6" stroke-width="0.2">OFF-Dox</text>
<line x1="300.50" y1="584.40" x2="412.00" y2="584.40" stroke="#231f20" stroke-width="1.1"/>
<path d="M417,584.4 L410.5,581.1999999999999 L410.5,587.6 Z" fill="#231f20" stroke="none" stroke-width="1"/>
<text x="356.40" y="579.50" font-size="12.9" text-anchor="middle" fill="#231f20" stroke="#231f20" stroke-width="0.2">1d</text>
<path d="M420.9,610.1 L478.4,610.1 L497.2,598.9 L439.7,598.9 Z" fill="#a8a8a8" stroke="none" stroke-width="1"/>
<line x1="439.70" y1="544.80" x2="439.70" y2="598.90" stroke="#2b2727" stroke-width="1.3" stroke-dasharray="3.6 2.4"/>
<line x1="439.70" y1="598.90" x2="497.20" y2="598.90" stroke="#2b2727" stroke-width="1.3" stroke-dasharray="3.6 2.4"/>
<line x1="420.90" y1="610.10" x2="439.70" y2="598.90" stroke="#2b2727" stroke-width="1.3" stroke-dasharray="3.6 2.4"/>
<path d="M441.50,597.40 C446.50,598.60 450.50,599.00 455.50,598.40" fill="none" stroke="#d6a6a2" stroke-width="0.9"/>
<ellipse cx="461.10" cy="593.30" rx="8.30" ry="6.30" fill="#3c3330"/>
<ellipse cx="468.50" cy="591.60" rx="4.20" ry="3.30" fill="#3c3330" transform="rotate(22 468.50 591.60)"/>
<path d="M469.50,589.70 L473.10,593.00 L470.00,594.20 Z" fill="#3c3330" stroke="none" stroke-width="1"/>
<circle cx="467.10" cy="588.00" r="1.90" fill="#c9a0a0" stroke="#3c3330" stroke-width="0.6"/>
<path d="M456.50,599.20 L459.50,599.20 M465.50,599.20 L468.50,599.20" fill="none" stroke="#3c3330" stroke-width="1.2"/>
<path d="M420.9,556 L439.7,544.8 L497.2,544.8 L478.4,556 Z M497.2,544.8 L497.2,598.9 L478.4,610.1" fill="none" stroke="#2b2727" stroke-width="1.2" stroke-linejoin="round"/>
<rect x="420.90" y="556.00" width="57.50" height="54.10" fill="none" stroke="#2b2727" stroke-width="1.2"/>
<text x="460.70" y="538.00" font-size="12.9" text-anchor="middle" fill="#231f20" stroke="#231f20" stroke-width="0.2">Test</text>
<text x="415.30" y="528.60" font-size="12.9" text-anchor="middle" fill="#2e7dbb" stroke="#2e7dbb" stroke-width="0.2">CNO</text>
<line x1="414.10" y1="531.30" x2="414.10" y2="534.50" stroke="#231f20" stroke-width="0.8"/>
<line x1="411.50" y1="531.30" x2="416.70" y2="531.30" stroke="#231f20" stroke-width="0.8"/>
<rect x="411.80" y="534.70" width="4.60" height="26.80" fill="#1f5fae" stroke="#231f20" stroke-width="0.9"/>
<line x1="414.10" y1="561.50" x2="414.10" y2="571.20" stroke="#555" stroke-width="0.8"/>
<text x="35.4" y="315" font-size="13.5" text-anchor="end" fill="#231f20" stroke="#231f20" stroke-width="0.2">CT</text>
<text x="35.4" y="391.5" font-size="13.5" text-anchor="end" fill="#231f20" stroke="#231f20" stroke-width="0.2">AD</text>
<text x="49.3" y="259" font-size="12.9" fill="#2e74b8" stroke="#2e74b8" stroke-width="0.2">DAPI</text>
<text x="90.5" y="259" font-size="12.9" fill="#c0202c" stroke="#c0202c" stroke-width="0.2">mScarlet</text>
<text x="155.5" y="259" font-size="12.9" fill="#2e9a48" stroke="#2e9a48" stroke-width="0.2">ARC</text>
<text x="573.9" y="311.4" font-size="13.2" text-anchor="end" fill="#231f20" stroke="#231f20" stroke-width="0.2">CT</text>
<text x="574" y="387.4" font-size="13.2" text-anchor="end" fill="#231f20" stroke="#231f20" stroke-width="0.2">AD</text>
<text x="594" y="261.3" font-size="12.9" fill="#2e74b8" stroke="#2e74b8" stroke-width="0.2">DAPI</text>
<text x="639.3" y="261.3" font-size="12.9" fill="#2e9a48" stroke="#2e9a48" stroke-width="0.2">EGFP</text>
<text x="687.5" y="261.3" font-size="12.9" fill="#c0202c" stroke="#c0202c" stroke-width="0.2">ARC</text>
<text x="528.5" y="525.5" font-size="12.9" fill="#231f20" stroke="#231f20" stroke-width="0.2">AD SAL</text>
<text x="526.2" y="607.8" font-size="12.9" fill="#231f20" stroke="#231f20" stroke-width="0.2">AD CNO</text>
<text x="588" y="478.4" font-size="12.9" fill="#2e74b8" stroke="#2e74b8" stroke-width="0.2">DAPI</text>
<text x="633.5" y="478.4" font-size="12.9" fill="#c0202c" stroke="#c0202c" stroke-width="0.2">mCherry</text>
<text x="696.5" y="478.4" font-size="12.9" fill="#2e9a48" stroke="#2e9a48" stroke-width="0.2">ARC</text>
</svg>
</body></html>
